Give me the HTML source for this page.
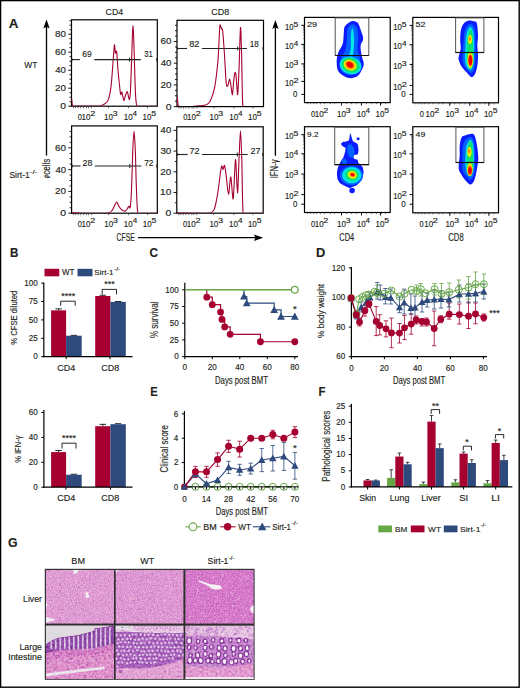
<!DOCTYPE html>
<html><head><meta charset="utf-8"><title>Figure</title>
<style>
html,body{margin:0;padding:0;background:#fff;width:520px;height:688px;overflow:hidden;}
svg{display:block;font-family:"Liberation Sans", sans-serif;}
text{stroke:#231f20;stroke-width:0.15px;}
</style></head><body>
<svg width="520" height="688" viewBox="0 0 520 688" font-family="'Liberation Sans', sans-serif" fill="#231f20"><defs>
<filter id="bl" x="-20%" y="-20%" width="140%" height="140%"><feGaussianBlur stdDeviation="0.7"/></filter>
<filter id="tex0" x="0" y="0" width="100%" height="100%" color-interpolation-filters="sRGB">
  <feTurbulence type="fractalNoise" baseFrequency="0.75" numOctaves="2" seed="3" result="n"/>
  <feColorMatrix in="n" type="matrix" values="0 0 0 0 0  0 0 0 0 0  0 0 0 0 0  2.4 0 0 0 -0.7" result="g0"/>
  <feColorMatrix in="n" type="matrix" values="0.55 0 0 0 0.225  0.55 0 0 0 0.225  0.55 0 0 0 0.225  0 0 0 0 1" result="g"/>
  <feBlend in="g" in2="SourceGraphic" mode="overlay" result="b"/>
  <feComposite in="b" in2="SourceGraphic" operator="in"/>
</filter>
<filter id="tex1" x="0" y="0" width="100%" height="100%" color-interpolation-filters="sRGB">
  <feTurbulence type="fractalNoise" baseFrequency="0.75" numOctaves="2" seed="10" result="n"/>
  <feColorMatrix in="n" type="matrix" values="0 0 0 0 0  0 0 0 0 0  0 0 0 0 0  2.4 0 0 0 -0.7" result="g0"/>
  <feColorMatrix in="n" type="matrix" values="0.55 0 0 0 0.225  0.55 0 0 0 0.225  0.55 0 0 0 0.225  0 0 0 0 1" result="g"/>
  <feBlend in="g" in2="SourceGraphic" mode="overlay" result="b"/>
  <feComposite in="b" in2="SourceGraphic" operator="in"/>
</filter>
<filter id="tex2" x="0" y="0" width="100%" height="100%" color-interpolation-filters="sRGB">
  <feTurbulence type="fractalNoise" baseFrequency="0.75" numOctaves="2" seed="17" result="n"/>
  <feColorMatrix in="n" type="matrix" values="0 0 0 0 0  0 0 0 0 0  0 0 0 0 0  2.4 0 0 0 -0.7" result="g0"/>
  <feColorMatrix in="n" type="matrix" values="0.55 0 0 0 0.225  0.55 0 0 0 0.225  0.55 0 0 0 0.225  0 0 0 0 1" result="g"/>
  <feBlend in="g" in2="SourceGraphic" mode="overlay" result="b"/>
  <feComposite in="b" in2="SourceGraphic" operator="in"/>
</filter>
<filter id="tex3" x="0" y="0" width="100%" height="100%" color-interpolation-filters="sRGB">
  <feTurbulence type="fractalNoise" baseFrequency="0.45" numOctaves="2" seed="24" result="n"/>
  <feColorMatrix in="n" type="matrix" values="0 0 0 0 0  0 0 0 0 0  0 0 0 0 0  2.4 0 0 0 -0.7" result="g0"/>
  <feColorMatrix in="n" type="matrix" values="0.55 0 0 0 0.225  0.55 0 0 0 0.225  0.55 0 0 0 0.225  0 0 0 0 1" result="g"/>
  <feBlend in="g" in2="SourceGraphic" mode="overlay" result="b"/>
  <feComposite in="b" in2="SourceGraphic" operator="in"/>
</filter>
<filter id="tex4" x="0" y="0" width="100%" height="100%" color-interpolation-filters="sRGB">
  <feTurbulence type="fractalNoise" baseFrequency="0.45" numOctaves="2" seed="31" result="n"/>
  <feColorMatrix in="n" type="matrix" values="0 0 0 0 0  0 0 0 0 0  0 0 0 0 0  2.4 0 0 0 -0.7" result="g0"/>
  <feColorMatrix in="n" type="matrix" values="0.55 0 0 0 0.225  0.55 0 0 0 0.225  0.55 0 0 0 0.225  0 0 0 0 1" result="g"/>
  <feBlend in="g" in2="SourceGraphic" mode="overlay" result="b"/>
  <feComposite in="b" in2="SourceGraphic" operator="in"/>
</filter>
<filter id="tex5" x="0" y="0" width="100%" height="100%" color-interpolation-filters="sRGB">
  <feTurbulence type="fractalNoise" baseFrequency="0.45" numOctaves="2" seed="38" result="n"/>
  <feColorMatrix in="n" type="matrix" values="0 0 0 0 0  0 0 0 0 0  0 0 0 0 0  2.4 0 0 0 -0.7" result="g0"/>
  <feColorMatrix in="n" type="matrix" values="0.55 0 0 0 0.225  0.55 0 0 0 0.225  0.55 0 0 0 0.225  0 0 0 0 1" result="g"/>
  <feBlend in="g" in2="SourceGraphic" mode="overlay" result="b"/>
  <feComposite in="b" in2="SourceGraphic" operator="in"/>
</filter>
</defs><rect x="0" y="0" width="520" height="688" fill="#fff"/>
<clipPath id="hc1"><rect x="71.5" y="17.8" width="85.8" height="87.9"/></clipPath>
<rect x="71.5" y="19.8" width="85.8" height="86.4" fill="none" stroke="#000" stroke-width="1.2"/>
<path d="M71.6 98.5 C71.7 99.4 72.02 103.38 72.3 104.5 C72.58 105.62 72.34 105.78 73.5 106 C74.66 106.22 76.78 106 80 106 C83.22 106 91.94 106.03 95 106 C98.06 105.97 99.05 106.07 100.4 105.8 C101.75 105.53 102.86 105.01 104 104.2 C105.14 103.39 106.95 103 108 100.4 C109.05 97.81 110.27 92.39 111 86.9 C111.73 81.41 112.39 70.08 112.9 63.8 C113.41 57.51 114.03 46.62 114.4 45 C114.78 43.38 115.06 51.97 115.4 53 C115.75 54.03 116.31 49.35 116.7 51.9 C117.09 54.45 117.5 64.28 118 70 C118.5 75.72 119.58 86.31 120 90 C120.42 93.69 120.52 94.27 120.8 94.6 C121.08 94.93 121.45 91.33 121.9 92.2 C122.35 93.07 123.29 99.83 123.8 100.4 C124.31 100.97 124.77 97.31 125.3 96 C125.83 94.69 126.72 91.16 127.3 91.7 C127.88 92.24 128.73 99.55 129.2 99.6 C129.66 99.64 130.04 97.94 130.4 92 C130.76 86.06 131.3 68.55 131.6 60 C131.9 51.45 132.19 40.19 132.4 35 C132.61 29.81 132.82 25.4 133 25.4 C133.18 25.4 133.39 29.81 133.6 35 C133.81 40.19 134.13 51.45 134.4 60 C134.67 68.55 135.09 85.33 135.4 92 C135.72 98.67 136.11 102.37 136.5 104.5 C136.89 106.63 134.93 105.95 138 106.2 C141.07 106.45 154.15 106.2 157 106.2" fill="none" stroke="#a5002f" stroke-width="1.1" stroke-linejoin="round" clip-path="url(#hc1)"/>
<line x1="68.2" y1="106.2" x2="71.5" y2="106.2" stroke="#000" stroke-width="0.9"/>
<line x1="69.5" y1="101.7" x2="71.5" y2="101.7" stroke="#000" stroke-width="0.9"/>
<line x1="69.5" y1="97.2" x2="71.5" y2="97.2" stroke="#000" stroke-width="0.9"/>
<line x1="69.5" y1="92.7" x2="71.5" y2="92.7" stroke="#000" stroke-width="0.9"/>
<line x1="68.2" y1="88.2" x2="71.5" y2="88.2" stroke="#000" stroke-width="0.9"/>
<line x1="69.5" y1="83.7" x2="71.5" y2="83.7" stroke="#000" stroke-width="0.9"/>
<line x1="69.5" y1="79.2" x2="71.5" y2="79.2" stroke="#000" stroke-width="0.9"/>
<line x1="69.5" y1="74.7" x2="71.5" y2="74.7" stroke="#000" stroke-width="0.9"/>
<line x1="68.2" y1="70.2" x2="71.5" y2="70.2" stroke="#000" stroke-width="0.9"/>
<line x1="69.5" y1="65.7" x2="71.5" y2="65.7" stroke="#000" stroke-width="0.9"/>
<line x1="69.5" y1="61.2" x2="71.5" y2="61.2" stroke="#000" stroke-width="0.9"/>
<line x1="69.5" y1="56.7" x2="71.5" y2="56.7" stroke="#000" stroke-width="0.9"/>
<line x1="68.2" y1="52.2" x2="71.5" y2="52.2" stroke="#000" stroke-width="0.9"/>
<line x1="69.5" y1="47.7" x2="71.5" y2="47.7" stroke="#000" stroke-width="0.9"/>
<line x1="69.5" y1="43.2" x2="71.5" y2="43.2" stroke="#000" stroke-width="0.9"/>
<line x1="69.5" y1="38.7" x2="71.5" y2="38.7" stroke="#000" stroke-width="0.9"/>
<line x1="68.2" y1="34.2" x2="71.5" y2="34.2" stroke="#000" stroke-width="0.9"/>
<line x1="69.5" y1="29.7" x2="71.5" y2="29.7" stroke="#000" stroke-width="0.9"/>
<line x1="69.5" y1="25.2" x2="71.5" y2="25.2" stroke="#000" stroke-width="0.9"/>
<line x1="69.5" y1="20.7" x2="71.5" y2="20.7" stroke="#000" stroke-width="0.9"/>
<text x="60.18" y="109.1" font-size="8.29" textLength="5.79" lengthAdjust="spacingAndGlyphs">0</text>
<text x="55.01" y="91.1" font-size="8.29" textLength="10.96" lengthAdjust="spacingAndGlyphs">20</text>
<text x="55.31" y="73.1" font-size="8.29" textLength="10.65" lengthAdjust="spacingAndGlyphs">40</text>
<text x="55.01" y="55.1" font-size="8.29" textLength="10.96" lengthAdjust="spacingAndGlyphs">60</text>
<text x="55.06" y="37.1" font-size="8.29" textLength="10.91" lengthAdjust="spacingAndGlyphs">80</text>
<line x1="73.5" y1="106.2" x2="73.5" y2="108.2" stroke="#333" stroke-width="0.7"/>
<line x1="75.5" y1="106.2" x2="75.5" y2="108.2" stroke="#333" stroke-width="0.7"/>
<line x1="78" y1="106.2" x2="78" y2="108.2" stroke="#333" stroke-width="0.7"/>
<line x1="80.5" y1="106.2" x2="80.5" y2="108.2" stroke="#333" stroke-width="0.7"/>
<line x1="83.5" y1="106.2" x2="83.5" y2="108.2" stroke="#333" stroke-width="0.7"/>
<line x1="86.5" y1="106.2" x2="86.5" y2="108.2" stroke="#333" stroke-width="0.7"/>
<line x1="88.5" y1="106.2" x2="88.5" y2="108.2" stroke="#333" stroke-width="0.7"/>
<line x1="91.5" y1="106.2" x2="91.5" y2="108.2" stroke="#333" stroke-width="0.7"/>
<line x1="108.5" y1="106.2" x2="108.5" y2="108.2" stroke="#333" stroke-width="0.7"/>
<line x1="128.5" y1="106.2" x2="128.5" y2="108.2" stroke="#333" stroke-width="0.7"/>
<line x1="147.5" y1="106.2" x2="147.5" y2="108.2" stroke="#333" stroke-width="0.7"/>
<line x1="71.5" y1="59.6" x2="80" y2="59.6" stroke="#222" stroke-width="1.1"/>
<line x1="94.2" y1="59.6" x2="140.8" y2="59.6" stroke="#222" stroke-width="1.1"/>
<line x1="129.6" y1="57.6" x2="129.6" y2="61.6" stroke="#222" stroke-width="1"/>
<line x1="72" y1="58.1" x2="72" y2="61.1" stroke="#222" stroke-width="1"/>
<line x1="156.8" y1="58.1" x2="156.8" y2="61.1" stroke="#222" stroke-width="1"/>
<text x="82.28" y="57.1" font-size="9" textLength="9.32" lengthAdjust="spacingAndGlyphs">69</text>
<text x="144.3" y="57.1" font-size="9" textLength="8.36" lengthAdjust="spacingAndGlyphs">31</text>
<text x="77.7" y="120.2" font-size="8.71" textLength="4.17" lengthAdjust="spacingAndGlyphs">0</text>
<text x="81.5" y="120.2" font-size="8.71" textLength="8.9" lengthAdjust="spacingAndGlyphs">10</text>
<text x="90.15" y="116.2" font-size="7" textLength="5.01" lengthAdjust="spacingAndGlyphs">2</text>
<text x="104.1" y="120.2" font-size="8.71" textLength="8.9" lengthAdjust="spacingAndGlyphs">10</text>
<text x="112.85" y="116.2" font-size="7" textLength="4.8" lengthAdjust="spacingAndGlyphs">3</text>
<text x="123.7" y="120.2" font-size="8.71" textLength="8.9" lengthAdjust="spacingAndGlyphs">10</text>
<text x="132.64" y="116.2" font-size="7.1" textLength="4.52" lengthAdjust="spacingAndGlyphs">4</text>
<text x="142.6" y="120.2" font-size="8.71" textLength="8.9" lengthAdjust="spacingAndGlyphs">10</text>
<text x="151.35" y="116.2" font-size="7.1" textLength="4.8" lengthAdjust="spacingAndGlyphs">5</text>
<clipPath id="hc2"><rect x="177" y="18.3" width="86.5" height="87.8"/></clipPath>
<rect x="177" y="20.3" width="86.5" height="86.3" fill="none" stroke="#000" stroke-width="1.2"/>
<path d="M177.2 97 C177.32 98.05 177.73 102.59 178 104 C178.27 105.41 177.2 106.03 179 106.4 C180.8 106.78 187.45 106.56 190 106.5 C192.55 106.44 193.69 106.22 196 106 C198.31 105.78 203.3 105.67 205.4 105 C207.5 104.33 208.62 104.09 210 101.5 C211.38 98.91 213.4 93.92 214.6 87.7 C215.8 81.48 217.29 67.91 218 60 C218.71 52.09 219 40.25 219.3 35 C219.6 29.75 219.67 25.93 220 25 C220.33 24.07 221.09 27.9 221.5 28.8 C221.91 29.7 222.25 27.07 222.7 31 C223.15 34.93 223.97 47.2 224.5 55 C225.03 62.8 225.7 78.38 226.2 83 C226.69 87.62 227.29 86.4 227.8 85.8 C228.31 85.2 229.12 78.97 229.6 79 C230.08 79.03 230.58 83.66 231 86 C231.42 88.34 232.01 95.2 232.4 94.6 C232.79 94 233.25 85.18 233.6 82 C233.94 78.82 234.37 74.63 234.7 73.4 C235.03 72.17 235.49 72.06 235.8 73.8 C236.12 75.54 236.52 81.94 236.8 85 C237.09 88.06 237.37 96.45 237.7 94.2 C238.03 91.95 238.58 79.97 239 70 C239.42 60.02 240.11 29.95 240.5 27.7 C240.89 25.45 241.25 43.41 241.6 55 C241.94 66.59 242.14 97.28 242.8 105 C243.46 112.72 242.97 106.28 246 106.5 C249.03 106.72 260.45 106.5 263 106.5" fill="none" stroke="#a5002f" stroke-width="1.1" stroke-linejoin="round" clip-path="url(#hc2)"/>
<line x1="173.7" y1="106.6" x2="177" y2="106.6" stroke="#000" stroke-width="0.9"/>
<line x1="175" y1="101.17" x2="177" y2="101.17" stroke="#000" stroke-width="0.9"/>
<line x1="175" y1="95.75" x2="177" y2="95.75" stroke="#000" stroke-width="0.9"/>
<line x1="175" y1="90.32" x2="177" y2="90.32" stroke="#000" stroke-width="0.9"/>
<line x1="173.7" y1="84.9" x2="177" y2="84.9" stroke="#000" stroke-width="0.9"/>
<line x1="175" y1="79.47" x2="177" y2="79.47" stroke="#000" stroke-width="0.9"/>
<line x1="175" y1="74.05" x2="177" y2="74.05" stroke="#000" stroke-width="0.9"/>
<line x1="175" y1="68.62" x2="177" y2="68.62" stroke="#000" stroke-width="0.9"/>
<line x1="173.7" y1="63.2" x2="177" y2="63.2" stroke="#000" stroke-width="0.9"/>
<line x1="175" y1="57.77" x2="177" y2="57.77" stroke="#000" stroke-width="0.9"/>
<line x1="175" y1="52.35" x2="177" y2="52.35" stroke="#000" stroke-width="0.9"/>
<line x1="175" y1="46.92" x2="177" y2="46.92" stroke="#000" stroke-width="0.9"/>
<line x1="173.7" y1="41.5" x2="177" y2="41.5" stroke="#000" stroke-width="0.9"/>
<line x1="175" y1="36.08" x2="177" y2="36.08" stroke="#000" stroke-width="0.9"/>
<line x1="175" y1="30.65" x2="177" y2="30.65" stroke="#000" stroke-width="0.9"/>
<line x1="175" y1="25.23" x2="177" y2="25.23" stroke="#000" stroke-width="0.9"/>
<text x="165.68" y="109.5" font-size="8.29" textLength="5.79" lengthAdjust="spacingAndGlyphs">0</text>
<text x="160.51" y="87.8" font-size="8.29" textLength="10.96" lengthAdjust="spacingAndGlyphs">20</text>
<text x="160.81" y="66.1" font-size="8.29" textLength="10.65" lengthAdjust="spacingAndGlyphs">40</text>
<text x="160.51" y="44.4" font-size="8.29" textLength="10.96" lengthAdjust="spacingAndGlyphs">60</text>
<line x1="179" y1="106.6" x2="179" y2="108.6" stroke="#333" stroke-width="0.7"/>
<line x1="181" y1="106.6" x2="181" y2="108.6" stroke="#333" stroke-width="0.7"/>
<line x1="183.5" y1="106.6" x2="183.5" y2="108.6" stroke="#333" stroke-width="0.7"/>
<line x1="186" y1="106.6" x2="186" y2="108.6" stroke="#333" stroke-width="0.7"/>
<line x1="189" y1="106.6" x2="189" y2="108.6" stroke="#333" stroke-width="0.7"/>
<line x1="192" y1="106.6" x2="192" y2="108.6" stroke="#333" stroke-width="0.7"/>
<line x1="194" y1="106.6" x2="194" y2="108.6" stroke="#333" stroke-width="0.7"/>
<line x1="197" y1="106.6" x2="197" y2="108.6" stroke="#333" stroke-width="0.7"/>
<line x1="214" y1="106.6" x2="214" y2="108.6" stroke="#333" stroke-width="0.7"/>
<line x1="234" y1="106.6" x2="234" y2="108.6" stroke="#333" stroke-width="0.7"/>
<line x1="253" y1="106.6" x2="253" y2="108.6" stroke="#333" stroke-width="0.7"/>
<line x1="177" y1="48.5" x2="187" y2="48.5" stroke="#222" stroke-width="1.1"/>
<line x1="201.9" y1="48.5" x2="247" y2="48.5" stroke="#222" stroke-width="1.1"/>
<line x1="237.7" y1="46.5" x2="237.7" y2="50.5" stroke="#222" stroke-width="1"/>
<line x1="177.5" y1="47" x2="177.5" y2="50" stroke="#222" stroke-width="1"/>
<line x1="263" y1="47" x2="263" y2="50" stroke="#222" stroke-width="1"/>
<text x="189.29" y="47.3" font-size="9" textLength="10.08" lengthAdjust="spacingAndGlyphs">82</text>
<text x="249.79" y="47.3" font-size="9" textLength="9.06" lengthAdjust="spacingAndGlyphs">18</text>
<text x="183.2" y="120.2" font-size="8.71" textLength="4.17" lengthAdjust="spacingAndGlyphs">0</text>
<text x="187" y="120.2" font-size="8.71" textLength="8.9" lengthAdjust="spacingAndGlyphs">10</text>
<text x="195.65" y="116.2" font-size="7" textLength="5.01" lengthAdjust="spacingAndGlyphs">2</text>
<text x="209.6" y="120.2" font-size="8.71" textLength="8.9" lengthAdjust="spacingAndGlyphs">10</text>
<text x="218.35" y="116.2" font-size="7" textLength="4.8" lengthAdjust="spacingAndGlyphs">3</text>
<text x="229.2" y="120.2" font-size="8.71" textLength="8.9" lengthAdjust="spacingAndGlyphs">10</text>
<text x="238.14" y="116.2" font-size="7.1" textLength="4.52" lengthAdjust="spacingAndGlyphs">4</text>
<text x="248.1" y="120.2" font-size="8.71" textLength="8.9" lengthAdjust="spacingAndGlyphs">10</text>
<text x="256.85" y="116.2" font-size="7.1" textLength="4.8" lengthAdjust="spacingAndGlyphs">5</text>
<clipPath id="hc3"><rect x="71.6" y="123.9" width="85.7" height="88.8"/></clipPath>
<rect x="71.6" y="125.9" width="85.7" height="87.3" fill="none" stroke="#000" stroke-width="1.2"/>
<path d="M71.8 212.5 C73.03 212.57 75.77 212.9 80 213 C84.23 213.1 95.69 213.23 100 213.2 C104.31 213.17 106.9 213.21 108.7 212.8 C110.5 212.4 111.09 211.67 112 210.5 C112.91 209.33 114.09 206.28 114.8 205 C115.5 203.72 116.14 201.93 116.7 202 C117.26 202.07 117.81 204.39 118.5 205.5 C119.19 206.61 120.23 208.58 121.3 209.4 C122.36 210.22 124.47 211.47 125.6 211 C126.72 210.53 128.11 206.86 128.8 206.3 C129.49 205.75 129.79 209.75 130.2 207.3 C130.6 204.86 131.11 198.59 131.5 190 C131.89 181.41 132.43 158.82 132.8 150 C133.18 141.18 133.62 131.2 134 131.2 C134.38 131.2 134.96 141.93 135.3 150 C135.65 158.07 135.93 175.55 136.3 185 C136.68 194.45 136.95 208.77 137.8 213 C138.66 217.23 139.12 213.17 142 213.2 C144.88 213.23 154.75 213.2 157 213.2" fill="none" stroke="#a5002f" stroke-width="1.1" stroke-linejoin="round" clip-path="url(#hc3)"/>
<line x1="68.3" y1="213.2" x2="71.6" y2="213.2" stroke="#000" stroke-width="0.9"/>
<line x1="69.6" y1="207.75" x2="71.6" y2="207.75" stroke="#000" stroke-width="0.9"/>
<line x1="69.6" y1="202.3" x2="71.6" y2="202.3" stroke="#000" stroke-width="0.9"/>
<line x1="69.6" y1="196.85" x2="71.6" y2="196.85" stroke="#000" stroke-width="0.9"/>
<line x1="68.3" y1="191.4" x2="71.6" y2="191.4" stroke="#000" stroke-width="0.9"/>
<line x1="69.6" y1="185.95" x2="71.6" y2="185.95" stroke="#000" stroke-width="0.9"/>
<line x1="69.6" y1="180.5" x2="71.6" y2="180.5" stroke="#000" stroke-width="0.9"/>
<line x1="69.6" y1="175.05" x2="71.6" y2="175.05" stroke="#000" stroke-width="0.9"/>
<line x1="68.3" y1="169.6" x2="71.6" y2="169.6" stroke="#000" stroke-width="0.9"/>
<line x1="69.6" y1="164.15" x2="71.6" y2="164.15" stroke="#000" stroke-width="0.9"/>
<line x1="69.6" y1="158.7" x2="71.6" y2="158.7" stroke="#000" stroke-width="0.9"/>
<line x1="69.6" y1="153.25" x2="71.6" y2="153.25" stroke="#000" stroke-width="0.9"/>
<line x1="68.3" y1="147.8" x2="71.6" y2="147.8" stroke="#000" stroke-width="0.9"/>
<line x1="69.6" y1="142.35" x2="71.6" y2="142.35" stroke="#000" stroke-width="0.9"/>
<line x1="69.6" y1="136.9" x2="71.6" y2="136.9" stroke="#000" stroke-width="0.9"/>
<line x1="69.6" y1="131.45" x2="71.6" y2="131.45" stroke="#000" stroke-width="0.9"/>
<text x="60.28" y="216.1" font-size="8.29" textLength="5.79" lengthAdjust="spacingAndGlyphs">0</text>
<text x="55.11" y="194.3" font-size="8.29" textLength="10.96" lengthAdjust="spacingAndGlyphs">20</text>
<text x="55.41" y="172.5" font-size="8.29" textLength="10.65" lengthAdjust="spacingAndGlyphs">40</text>
<text x="55.11" y="150.7" font-size="8.29" textLength="10.96" lengthAdjust="spacingAndGlyphs">60</text>
<line x1="73.6" y1="213.2" x2="73.6" y2="215.2" stroke="#333" stroke-width="0.7"/>
<line x1="75.6" y1="213.2" x2="75.6" y2="215.2" stroke="#333" stroke-width="0.7"/>
<line x1="78.1" y1="213.2" x2="78.1" y2="215.2" stroke="#333" stroke-width="0.7"/>
<line x1="80.6" y1="213.2" x2="80.6" y2="215.2" stroke="#333" stroke-width="0.7"/>
<line x1="83.6" y1="213.2" x2="83.6" y2="215.2" stroke="#333" stroke-width="0.7"/>
<line x1="86.6" y1="213.2" x2="86.6" y2="215.2" stroke="#333" stroke-width="0.7"/>
<line x1="88.6" y1="213.2" x2="88.6" y2="215.2" stroke="#333" stroke-width="0.7"/>
<line x1="91.6" y1="213.2" x2="91.6" y2="215.2" stroke="#333" stroke-width="0.7"/>
<line x1="108.6" y1="213.2" x2="108.6" y2="215.2" stroke="#333" stroke-width="0.7"/>
<line x1="128.6" y1="213.2" x2="128.6" y2="215.2" stroke="#333" stroke-width="0.7"/>
<line x1="147.6" y1="213.2" x2="147.6" y2="215.2" stroke="#333" stroke-width="0.7"/>
<line x1="71.6" y1="166" x2="80.5" y2="166" stroke="#222" stroke-width="1.1"/>
<line x1="94.9" y1="166" x2="141.4" y2="166" stroke="#222" stroke-width="1.1"/>
<line x1="129.8" y1="164" x2="129.8" y2="168" stroke="#222" stroke-width="1"/>
<line x1="72.1" y1="164.5" x2="72.1" y2="167.5" stroke="#222" stroke-width="1"/>
<line x1="156.8" y1="164.5" x2="156.8" y2="167.5" stroke="#222" stroke-width="1"/>
<text x="82.56" y="165.6" font-size="9" textLength="9.81" lengthAdjust="spacingAndGlyphs">28</text>
<text x="144.18" y="165.6" font-size="9" textLength="9.25" lengthAdjust="spacingAndGlyphs">72</text>
<text x="77.8" y="227" font-size="8.71" textLength="4.17" lengthAdjust="spacingAndGlyphs">0</text>
<text x="81.6" y="227" font-size="8.71" textLength="8.9" lengthAdjust="spacingAndGlyphs">10</text>
<text x="90.25" y="223" font-size="7" textLength="5.01" lengthAdjust="spacingAndGlyphs">2</text>
<text x="104.2" y="227" font-size="8.71" textLength="8.9" lengthAdjust="spacingAndGlyphs">10</text>
<text x="112.95" y="223" font-size="7" textLength="4.8" lengthAdjust="spacingAndGlyphs">3</text>
<text x="123.8" y="227" font-size="8.71" textLength="8.9" lengthAdjust="spacingAndGlyphs">10</text>
<text x="132.74" y="223" font-size="7.1" textLength="4.52" lengthAdjust="spacingAndGlyphs">4</text>
<text x="142.7" y="227" font-size="8.71" textLength="8.9" lengthAdjust="spacingAndGlyphs">10</text>
<text x="151.45" y="223" font-size="7.1" textLength="4.8" lengthAdjust="spacingAndGlyphs">5</text>
<clipPath id="hc4"><rect x="176.8" y="124.8" width="86.4" height="87.9"/></clipPath>
<rect x="176.8" y="126.8" width="86.4" height="86.4" fill="none" stroke="#000" stroke-width="1.2"/>
<path d="M177 212.8 C178.95 212.83 185.11 212.97 190 213 C194.89 213.03 205.97 213.57 209.6 213 C213.23 212.43 213.16 211.15 214.2 209.2 C215.23 207.25 215.81 203.48 216.5 200 C217.19 196.52 218.2 190.2 218.8 186 C219.4 181.8 220.05 175 220.5 172 C220.95 169 221.43 166.38 221.8 166 C222.18 165.62 222.58 169.59 223 169.5 C223.42 169.41 224.12 164.46 224.6 165.4 C225.08 166.34 225.61 171.48 226.2 175.8 C226.78 180.12 227.81 194.02 228.5 194.2 C229.19 194.38 230.1 176.31 230.8 177 C231.5 177.69 232.5 201.41 233.2 198.8 C233.9 196.19 234.85 160.47 235.5 159.6 C236.15 158.73 236.97 192.94 237.5 193 C238.03 193.06 238.55 169.33 239 160 C239.45 150.67 240.08 130.8 240.5 130.8 C240.92 130.8 241.43 147.9 241.8 160 C242.18 172.1 242.37 203.52 243 211.5 C243.63 219.48 243 212.94 246 213.2 C249 213.45 260.45 213.2 263 213.2" fill="none" stroke="#a5002f" stroke-width="1.1" stroke-linejoin="round" clip-path="url(#hc4)"/>
<line x1="173.5" y1="213.2" x2="176.8" y2="213.2" stroke="#000" stroke-width="0.9"/>
<line x1="174.8" y1="202.85" x2="176.8" y2="202.85" stroke="#000" stroke-width="0.9"/>
<line x1="173.5" y1="192.5" x2="176.8" y2="192.5" stroke="#000" stroke-width="0.9"/>
<line x1="174.8" y1="182.15" x2="176.8" y2="182.15" stroke="#000" stroke-width="0.9"/>
<line x1="173.5" y1="171.8" x2="176.8" y2="171.8" stroke="#000" stroke-width="0.9"/>
<line x1="174.8" y1="161.45" x2="176.8" y2="161.45" stroke="#000" stroke-width="0.9"/>
<line x1="173.5" y1="151.1" x2="176.8" y2="151.1" stroke="#000" stroke-width="0.9"/>
<line x1="174.8" y1="140.75" x2="176.8" y2="140.75" stroke="#000" stroke-width="0.9"/>
<line x1="173.5" y1="130.4" x2="176.8" y2="130.4" stroke="#000" stroke-width="0.9"/>
<text x="165.48" y="216.1" font-size="8.29" textLength="5.79" lengthAdjust="spacingAndGlyphs">0</text>
<text x="160.04" y="195.4" font-size="8.29" textLength="11.23" lengthAdjust="spacingAndGlyphs">10</text>
<text x="160.31" y="174.7" font-size="8.29" textLength="10.96" lengthAdjust="spacingAndGlyphs">20</text>
<text x="160.41" y="154" font-size="8.29" textLength="10.85" lengthAdjust="spacingAndGlyphs">30</text>
<text x="160.61" y="133.3" font-size="8.29" textLength="10.65" lengthAdjust="spacingAndGlyphs">40</text>
<line x1="178.8" y1="213.2" x2="178.8" y2="215.2" stroke="#333" stroke-width="0.7"/>
<line x1="180.8" y1="213.2" x2="180.8" y2="215.2" stroke="#333" stroke-width="0.7"/>
<line x1="183.3" y1="213.2" x2="183.3" y2="215.2" stroke="#333" stroke-width="0.7"/>
<line x1="185.8" y1="213.2" x2="185.8" y2="215.2" stroke="#333" stroke-width="0.7"/>
<line x1="188.8" y1="213.2" x2="188.8" y2="215.2" stroke="#333" stroke-width="0.7"/>
<line x1="191.8" y1="213.2" x2="191.8" y2="215.2" stroke="#333" stroke-width="0.7"/>
<line x1="193.8" y1="213.2" x2="193.8" y2="215.2" stroke="#333" stroke-width="0.7"/>
<line x1="196.8" y1="213.2" x2="196.8" y2="215.2" stroke="#333" stroke-width="0.7"/>
<line x1="213.8" y1="213.2" x2="213.8" y2="215.2" stroke="#333" stroke-width="0.7"/>
<line x1="233.8" y1="213.2" x2="233.8" y2="215.2" stroke="#333" stroke-width="0.7"/>
<line x1="252.8" y1="213.2" x2="252.8" y2="215.2" stroke="#333" stroke-width="0.7"/>
<line x1="176.8" y1="154.5" x2="187.7" y2="154.5" stroke="#222" stroke-width="1.1"/>
<line x1="202" y1="154.5" x2="247.7" y2="154.5" stroke="#222" stroke-width="1.1"/>
<line x1="237.3" y1="152.5" x2="237.3" y2="156.5" stroke="#222" stroke-width="1"/>
<line x1="177.3" y1="153" x2="177.3" y2="156" stroke="#222" stroke-width="1"/>
<line x1="262.7" y1="153" x2="262.7" y2="156" stroke="#222" stroke-width="1"/>
<text x="189.55" y="153.8" font-size="9" textLength="9.91" lengthAdjust="spacingAndGlyphs">72</text>
<text x="250.55" y="153.8" font-size="9" textLength="9.91" lengthAdjust="spacingAndGlyphs">27</text>
<text x="183" y="227" font-size="8.71" textLength="4.17" lengthAdjust="spacingAndGlyphs">0</text>
<text x="186.8" y="227" font-size="8.71" textLength="8.9" lengthAdjust="spacingAndGlyphs">10</text>
<text x="195.45" y="223" font-size="7" textLength="5.01" lengthAdjust="spacingAndGlyphs">2</text>
<text x="209.4" y="227" font-size="8.71" textLength="8.9" lengthAdjust="spacingAndGlyphs">10</text>
<text x="218.15" y="223" font-size="7" textLength="4.8" lengthAdjust="spacingAndGlyphs">3</text>
<text x="229" y="227" font-size="8.71" textLength="8.9" lengthAdjust="spacingAndGlyphs">10</text>
<text x="237.94" y="223" font-size="7.1" textLength="4.52" lengthAdjust="spacingAndGlyphs">4</text>
<text x="247.9" y="227" font-size="8.71" textLength="8.9" lengthAdjust="spacingAndGlyphs">10</text>
<text x="256.65" y="223" font-size="7.1" textLength="4.8" lengthAdjust="spacingAndGlyphs">5</text>
<text x="8.76" y="27.7" font-size="13.33" textLength="9.7" lengthAdjust="spacingAndGlyphs" font-weight="bold">A</text>
<text x="105.56" y="14.6" font-size="9.86" textLength="17.61" lengthAdjust="spacingAndGlyphs">CD4</text>
<text x="211.35" y="14.9" font-size="9.86" textLength="18.02" lengthAdjust="spacingAndGlyphs">CD8</text>
<text x="24.16" y="67.6" font-size="9.13" textLength="13.21" lengthAdjust="spacingAndGlyphs">WT</text>
<text x="9.42" y="177.8" font-size="9.66" textLength="20.36" lengthAdjust="spacingAndGlyphs">Sirt-1</text>
<text x="29.85" y="173.5" font-size="5.5" textLength="7.4" lengthAdjust="spacingAndGlyphs">-/-</text>
<line x1="46.5" y1="26" x2="46.5" y2="155.6" stroke="#000" stroke-width="1.3"/>
<path d="M46.5 19.5 L43.3 28.5 L46.5 26.8 L49.7 28.5 Z" fill="#000"/>
<text x="49.8" y="174.72" font-size="10.2" textLength="16.11" lengthAdjust="spacingAndGlyphs" transform="rotate(-90 49.8 174.72)">cells</text>
<text x="49.8" y="177.93" font-size="8.4" textLength="3.16" lengthAdjust="spacingAndGlyphs" transform="rotate(-90 49.8 177.93)">#</text>
<text x="116.56" y="241.1" font-size="10.43" textLength="18.23" lengthAdjust="spacingAndGlyphs">CFSE</text>
<line x1="138" y1="237.7" x2="256" y2="237.7" stroke="#000" stroke-width="1.3"/>
<path d="M263.2 237.7 L253.8 234.4 L255.6 237.7 L253.8 241.0 Z" fill="#000"/>
<line x1="275.4" y1="27" x2="275.4" y2="155.8" stroke="#000" stroke-width="1.3"/>
<path d="M275.4 20.0 L272.2 29.0 L275.4 27.3 L278.6 29.0 Z" fill="#000"/>
<text x="278.2" y="178.3" font-size="10.29" textLength="19.03" lengthAdjust="spacingAndGlyphs" transform="rotate(-90 278.2 178.3)">IFN-γ</text>
<g filter="url(#bl)">
<path d="M351.5 21.3 C349.73 22.07 346.18 24.2 344.9 26.2 C343.62 28.2 344.15 30.42 343.8 33.3 C343.45 36.18 343.73 40.27 342.8 43.5 C341.87 46.73 339.22 49.82 338.2 52.7 C337.18 55.58 336.78 57.92 336.7 60.8 C336.62 63.68 336.77 67.63 337.7 70 C338.63 72.37 340.35 73.65 342.3 75 C344.25 76.35 346.85 77.92 349.4 78.1 C351.95 78.28 355.38 77.78 357.6 76.1 C359.82 74.42 361.68 70.2 362.7 68 C363.72 65.8 363.87 64.95 363.7 62.9 C363.53 60.85 362.22 58.6 361.7 55.7 C361.18 52.8 360.35 48.3 360.6 45.5 C360.85 42.7 363.1 41.27 363.2 38.9 C363.3 36.53 361.97 33.75 361.2 31.3 C360.43 28.85 359.55 25.82 358.6 24.2 C357.65 22.58 356.68 22.08 355.5 21.6 C354.32 21.12 353.27 20.53 351.5 21.3Z" fill="#0a1cff"/>
<path d="M351.5 24.5 C350.25 25.08 348.28 26.42 347.5 29 C346.72 31.58 347.13 36.5 346.8 40 C346.47 43.5 346.47 47 345.5 50 C344.53 53 341.95 55.33 341 58 C340.05 60.67 339.47 63.58 339.8 66 C340.13 68.42 341.3 71 343 72.5 C344.7 74 347.67 74.92 350 75 C352.33 75.08 355.25 74.5 357 73 C358.75 71.5 360.08 68.67 360.5 66 C360.92 63.33 360 59.67 359.5 57 C359 54.33 357.75 52.83 357.5 50 C357.25 47.17 358 43.33 358 40 C358 36.67 358 32.42 357.5 30 C357 27.58 356 26.42 355 25.5 C354 24.58 352.75 23.92 351.5 24.5Z" fill="#0064ff"/>
<path d="M352.3 28 C351.77 28 351.05 32.67 350.8 36 C350.55 39.33 351.02 44.83 350.8 48 C350.58 51.17 349.22 53.67 349.5 55 C349.78 56.33 351.78 57.17 352.5 56 C353.22 54.83 353.55 51.33 353.8 48 C354.05 44.67 354.25 39.33 354 36 C353.75 32.67 352.83 28 352.3 28Z" fill="#00e6e6"/>
<path d="M361.23 68.35 C361.03 69.06 360.71 69.77 360.29 70.4 C359.86 71.03 359.31 71.62 358.69 72.12 C358.06 72.62 357.32 73.05 356.54 73.39 C355.76 73.72 354.87 73.97 353.98 74.12 C353.1 74.26 352.14 74.31 351.2 74.26 C350.26 74.21 349.29 74.05 348.37 73.81 C347.46 73.56 346.54 73.21 345.7 72.79 C344.86 72.36 344.06 71.84 343.36 71.27 C342.66 70.7 342.03 70.04 341.51 69.36 C341 68.68 340.58 67.93 340.29 67.19 C339.99 66.44 339.81 65.66 339.76 64.9 C339.71 64.14 339.78 63.37 339.97 62.65 C340.17 61.94 340.49 61.23 340.91 60.6 C341.34 59.97 341.89 59.38 342.51 58.88 C343.14 58.38 343.88 57.95 344.66 57.61 C345.44 57.28 346.33 57.03 347.22 56.88 C348.1 56.74 349.06 56.69 350 56.74 C350.94 56.79 351.91 56.95 352.83 57.19 C353.74 57.44 354.66 57.79 355.5 58.21 C356.34 58.64 357.14 59.16 357.84 59.73 C358.54 60.3 359.17 60.96 359.69 61.64 C360.2 62.32 360.62 63.07 360.91 63.81 C361.21 64.56 361.39 65.34 361.44 66.1 C361.49 66.86 361.42 67.63 361.23 68.35Z" fill="#00e6e6"/>
<path d="M359.15 68.45 C358.93 69.03 358.61 69.6 358.21 70.09 C357.81 70.58 357.31 71.04 356.76 71.41 C356.2 71.78 355.55 72.09 354.87 72.31 C354.19 72.53 353.44 72.68 352.69 72.73 C351.94 72.79 351.13 72.76 350.36 72.65 C349.58 72.54 348.78 72.34 348.04 72.07 C347.29 71.79 346.55 71.43 345.88 71.02 C345.22 70.61 344.58 70.11 344.04 69.59 C343.51 69.06 343.02 68.46 342.65 67.86 C342.27 67.25 341.97 66.6 341.78 65.96 C341.59 65.32 341.5 64.65 341.51 64.01 C341.52 63.38 341.64 62.74 341.85 62.15 C342.07 61.57 342.39 61 342.79 60.51 C343.19 60.02 343.69 59.56 344.24 59.19 C344.8 58.82 345.45 58.51 346.13 58.29 C346.81 58.07 347.56 57.92 348.31 57.87 C349.06 57.81 349.87 57.84 350.64 57.95 C351.42 58.06 352.22 58.26 352.96 58.53 C353.71 58.81 354.45 59.17 355.12 59.58 C355.78 59.99 356.42 60.49 356.96 61.01 C357.49 61.54 357.98 62.14 358.35 62.74 C358.73 63.35 359.03 64 359.22 64.64 C359.41 65.28 359.5 65.95 359.49 66.59 C359.48 67.22 359.36 67.86 359.15 68.45Z" fill="#10e070"/>
<path d="M356.18 67.89 C355.99 68.3 355.73 68.68 355.41 69.01 C355.09 69.34 354.7 69.64 354.28 69.87 C353.86 70.1 353.37 70.29 352.88 70.4 C352.38 70.52 351.83 70.58 351.29 70.58 C350.75 70.57 350.17 70.5 349.63 70.37 C349.08 70.25 348.52 70.05 348 69.81 C347.49 69.57 346.98 69.27 346.53 68.93 C346.08 68.59 345.66 68.2 345.31 67.79 C344.95 67.38 344.65 66.92 344.42 66.46 C344.19 66 344.01 65.51 343.92 65.04 C343.83 64.57 343.8 64.08 343.85 63.63 C343.9 63.17 344.03 62.72 344.22 62.31 C344.41 61.9 344.67 61.52 344.99 61.19 C345.31 60.86 345.7 60.56 346.12 60.33 C346.54 60.1 347.03 59.91 347.52 59.8 C348.02 59.68 348.57 59.62 349.11 59.62 C349.65 59.63 350.23 59.7 350.77 59.83 C351.32 59.95 351.88 60.15 352.4 60.39 C352.91 60.63 353.42 60.93 353.87 61.27 C354.32 61.61 354.74 62 355.09 62.41 C355.45 62.82 355.75 63.28 355.98 63.74 C356.21 64.2 356.39 64.69 356.48 65.16 C356.57 65.63 356.6 66.12 356.55 66.57 C356.5 67.03 356.37 67.48 356.18 67.89Z" fill="#f0f000"/>
<path d="M354.33 67.5 C354.16 67.79 353.94 68.06 353.68 68.29 C353.42 68.51 353.11 68.71 352.77 68.85 C352.44 69 352.07 69.1 351.68 69.16 C351.3 69.21 350.88 69.22 350.48 69.17 C350.07 69.13 349.64 69.04 349.24 68.91 C348.83 68.78 348.42 68.59 348.05 68.38 C347.68 68.16 347.31 67.9 347 67.62 C346.68 67.33 346.39 67.01 346.15 66.67 C345.91 66.34 345.7 65.98 345.56 65.62 C345.41 65.26 345.32 64.88 345.27 64.52 C345.23 64.16 345.25 63.8 345.31 63.46 C345.38 63.12 345.5 62.79 345.67 62.5 C345.84 62.21 346.06 61.94 346.32 61.71 C346.58 61.49 346.89 61.29 347.23 61.15 C347.56 61 347.93 60.9 348.32 60.84 C348.7 60.79 349.12 60.78 349.52 60.83 C349.93 60.87 350.36 60.96 350.76 61.09 C351.17 61.22 351.58 61.41 351.95 61.62 C352.32 61.84 352.69 62.1 353 62.38 C353.32 62.67 353.61 62.99 353.85 63.33 C354.09 63.66 354.3 64.02 354.44 64.38 C354.59 64.74 354.68 65.12 354.73 65.48 C354.77 65.84 354.75 66.2 354.69 66.54 C354.62 66.88 354.5 67.21 354.33 67.5Z" fill="#ff8a00"/>
<path d="M352.92 66.6 C352.81 66.79 352.65 66.97 352.47 67.12 C352.3 67.27 352.08 67.39 351.85 67.48 C351.62 67.58 351.35 67.64 351.09 67.66 C350.82 67.69 350.52 67.69 350.23 67.65 C349.94 67.61 349.64 67.54 349.35 67.44 C349.06 67.34 348.77 67.21 348.5 67.05 C348.23 66.9 347.97 66.71 347.74 66.51 C347.51 66.31 347.29 66.08 347.12 65.85 C346.94 65.62 346.79 65.37 346.68 65.12 C346.57 64.87 346.49 64.61 346.45 64.37 C346.41 64.12 346.41 63.87 346.45 63.64 C346.49 63.42 346.57 63.19 346.68 63 C346.79 62.81 346.95 62.63 347.13 62.48 C347.3 62.33 347.52 62.21 347.75 62.12 C347.98 62.02 348.25 61.96 348.51 61.94 C348.78 61.91 349.08 61.91 349.37 61.95 C349.66 61.99 349.96 62.06 350.25 62.16 C350.54 62.26 350.83 62.39 351.1 62.55 C351.37 62.7 351.63 62.89 351.86 63.09 C352.09 63.29 352.31 63.52 352.48 63.75 C352.66 63.98 352.81 64.23 352.92 64.48 C353.03 64.73 353.11 64.99 353.15 65.23 C353.19 65.48 353.19 65.73 353.15 65.96 C353.11 66.18 353.03 66.41 352.92 66.6Z" fill="#f00000"/>
</g>
<rect x="304.5" y="17.4" width="85.7" height="85.2" fill="none" stroke="#000" stroke-width="1.2"/>
<rect x="335.2" y="17.9" width="33.6" height="37.6" fill="none" stroke="#555" stroke-width="1"/>
<line x1="335.2" y1="55.5" x2="368.8" y2="55.5" stroke="#111" stroke-width="1.2"/>
<text x="284.92" y="29.5" font-size="8.43" textLength="8.57" lengthAdjust="spacingAndGlyphs">10</text>
<text x="293.55" y="26.5" font-size="7.25" textLength="4.8" lengthAdjust="spacingAndGlyphs">5</text>
<line x1="301.3" y1="25.3" x2="304.5" y2="25.3" stroke="#000" stroke-width="1"/>
<text x="284.92" y="48.6" font-size="8.43" textLength="8.57" lengthAdjust="spacingAndGlyphs">10</text>
<text x="293.74" y="45.6" font-size="7.25" textLength="4.52" lengthAdjust="spacingAndGlyphs">4</text>
<line x1="301.3" y1="44.4" x2="304.5" y2="44.4" stroke="#000" stroke-width="1"/>
<text x="284.92" y="68.1" font-size="8.43" textLength="8.57" lengthAdjust="spacingAndGlyphs">10</text>
<text x="293.55" y="65.1" font-size="7.14" textLength="4.8" lengthAdjust="spacingAndGlyphs">3</text>
<line x1="301.3" y1="63.9" x2="304.5" y2="63.9" stroke="#000" stroke-width="1"/>
<text x="284.92" y="85.6" font-size="8.43" textLength="8.57" lengthAdjust="spacingAndGlyphs">10</text>
<text x="293.45" y="82.6" font-size="7.14" textLength="5.01" lengthAdjust="spacingAndGlyphs">2</text>
<line x1="301.3" y1="81.4" x2="304.5" y2="81.4" stroke="#000" stroke-width="1"/>
<text x="292.98" y="97.4" font-size="8.57" textLength="4.4" lengthAdjust="spacingAndGlyphs">0</text>
<line x1="301.3" y1="94.4" x2="304.5" y2="94.4" stroke="#000" stroke-width="1"/>
<line x1="302.9" y1="38.65" x2="304.5" y2="38.65" stroke="#333" stroke-width="0.6"/>
<line x1="302.9" y1="35.29" x2="304.5" y2="35.29" stroke="#333" stroke-width="0.6"/>
<line x1="302.9" y1="32.9" x2="304.5" y2="32.9" stroke="#333" stroke-width="0.6"/>
<line x1="302.9" y1="31.05" x2="304.5" y2="31.05" stroke="#333" stroke-width="0.6"/>
<line x1="302.9" y1="29.54" x2="304.5" y2="29.54" stroke="#333" stroke-width="0.6"/>
<line x1="302.9" y1="28.26" x2="304.5" y2="28.26" stroke="#333" stroke-width="0.6"/>
<line x1="302.9" y1="27.15" x2="304.5" y2="27.15" stroke="#333" stroke-width="0.6"/>
<line x1="302.9" y1="26.17" x2="304.5" y2="26.17" stroke="#333" stroke-width="0.6"/>
<line x1="302.9" y1="58.03" x2="304.5" y2="58.03" stroke="#333" stroke-width="0.6"/>
<line x1="302.9" y1="54.6" x2="304.5" y2="54.6" stroke="#333" stroke-width="0.6"/>
<line x1="302.9" y1="52.16" x2="304.5" y2="52.16" stroke="#333" stroke-width="0.6"/>
<line x1="302.9" y1="50.27" x2="304.5" y2="50.27" stroke="#333" stroke-width="0.6"/>
<line x1="302.9" y1="48.73" x2="304.5" y2="48.73" stroke="#333" stroke-width="0.6"/>
<line x1="302.9" y1="47.42" x2="304.5" y2="47.42" stroke="#333" stroke-width="0.6"/>
<line x1="302.9" y1="46.29" x2="304.5" y2="46.29" stroke="#333" stroke-width="0.6"/>
<line x1="302.9" y1="45.29" x2="304.5" y2="45.29" stroke="#333" stroke-width="0.6"/>
<line x1="302.9" y1="76.13" x2="304.5" y2="76.13" stroke="#333" stroke-width="0.6"/>
<line x1="302.9" y1="73.05" x2="304.5" y2="73.05" stroke="#333" stroke-width="0.6"/>
<line x1="302.9" y1="70.86" x2="304.5" y2="70.86" stroke="#333" stroke-width="0.6"/>
<line x1="302.9" y1="69.17" x2="304.5" y2="69.17" stroke="#333" stroke-width="0.6"/>
<line x1="302.9" y1="67.78" x2="304.5" y2="67.78" stroke="#333" stroke-width="0.6"/>
<line x1="302.9" y1="66.61" x2="304.5" y2="66.61" stroke="#333" stroke-width="0.6"/>
<line x1="302.9" y1="65.6" x2="304.5" y2="65.6" stroke="#333" stroke-width="0.6"/>
<line x1="302.9" y1="64.7" x2="304.5" y2="64.7" stroke="#333" stroke-width="0.6"/>
<line x1="307.5" y1="102.6" x2="307.5" y2="104.2" stroke="#333" stroke-width="0.6"/>
<line x1="310.5" y1="102.6" x2="310.5" y2="104.2" stroke="#333" stroke-width="0.6"/>
<line x1="313.5" y1="102.6" x2="313.5" y2="104.2" stroke="#333" stroke-width="0.6"/>
<line x1="316.5" y1="102.6" x2="316.5" y2="104.2" stroke="#333" stroke-width="0.6"/>
<line x1="320.5" y1="102.6" x2="320.5" y2="104.2" stroke="#333" stroke-width="0.6"/>
<line x1="324.5" y1="102.6" x2="324.5" y2="104.2" stroke="#333" stroke-width="0.6"/>
<line x1="330.5" y1="102.6" x2="330.5" y2="104.2" stroke="#333" stroke-width="0.6"/>
<line x1="334.5" y1="102.6" x2="334.5" y2="104.2" stroke="#333" stroke-width="0.6"/>
<line x1="341.5" y1="102.6" x2="341.5" y2="104.2" stroke="#333" stroke-width="0.6"/>
<line x1="346.5" y1="102.6" x2="346.5" y2="104.2" stroke="#333" stroke-width="0.6"/>
<line x1="351.5" y1="102.6" x2="351.5" y2="104.2" stroke="#333" stroke-width="0.6"/>
<line x1="356.5" y1="102.6" x2="356.5" y2="104.2" stroke="#333" stroke-width="0.6"/>
<line x1="361.5" y1="102.6" x2="361.5" y2="104.2" stroke="#333" stroke-width="0.6"/>
<line x1="366.5" y1="102.6" x2="366.5" y2="104.2" stroke="#333" stroke-width="0.6"/>
<line x1="371.5" y1="102.6" x2="371.5" y2="104.2" stroke="#333" stroke-width="0.6"/>
<line x1="376.5" y1="102.6" x2="376.5" y2="104.2" stroke="#333" stroke-width="0.6"/>
<line x1="381.5" y1="102.6" x2="381.5" y2="104.2" stroke="#333" stroke-width="0.6"/>
<line x1="385.5" y1="102.6" x2="385.5" y2="104.2" stroke="#333" stroke-width="0.6"/>
<line x1="341.5" y1="102.6" x2="341.5" y2="105.6" stroke="#000" stroke-width="0.9"/>
<line x1="361.5" y1="102.6" x2="361.5" y2="105.6" stroke="#000" stroke-width="0.9"/>
<line x1="380.5" y1="102.6" x2="380.5" y2="105.6" stroke="#000" stroke-width="0.9"/>
<text x="307.05" y="27.2" font-size="7.57" textLength="9.97" lengthAdjust="spacingAndGlyphs">29</text>
<text x="311" y="117" font-size="8.71" textLength="4.17" lengthAdjust="spacingAndGlyphs">0</text>
<text x="314.7" y="117" font-size="8.71" textLength="8.9" lengthAdjust="spacingAndGlyphs">10</text>
<text x="323.35" y="113" font-size="7" textLength="5.01" lengthAdjust="spacingAndGlyphs">2</text>
<text x="337.1" y="117" font-size="8.71" textLength="8.9" lengthAdjust="spacingAndGlyphs">10</text>
<text x="345.85" y="113" font-size="7" textLength="4.8" lengthAdjust="spacingAndGlyphs">3</text>
<text x="356.7" y="117" font-size="8.71" textLength="8.9" lengthAdjust="spacingAndGlyphs">10</text>
<text x="365.64" y="113" font-size="7.1" textLength="4.52" lengthAdjust="spacingAndGlyphs">4</text>
<text x="375.6" y="117" font-size="8.71" textLength="8.9" lengthAdjust="spacingAndGlyphs">10</text>
<text x="384.35" y="113" font-size="7.1" textLength="4.8" lengthAdjust="spacingAndGlyphs">5</text>
<g filter="url(#bl)">
<path d="M468.8 20.6 C467.1 21.08 464.55 22.42 463.2 24.2 C461.85 25.98 461.2 28.58 460.7 31.3 C460.2 34.02 460.2 37.62 460.2 40.5 C460.2 43.38 460.95 45.88 460.7 48.6 C460.45 51.32 459.03 54.93 458.7 56.8 C458.37 58.67 458.28 58.28 458.7 59.8 C459.12 61.32 459.93 63.87 461.2 65.9 C462.47 67.93 464.6 70.13 466.3 72 C468 73.87 469.95 76.75 471.4 77.1 C472.85 77.45 474.02 75.97 475 74.1 C475.98 72.23 476.8 68.97 477.3 65.9 C477.8 62.83 478 59.1 478 55.7 C478 52.3 477.3 48.88 477.3 45.5 C477.3 42.12 478.1 39.13 478 35.4 C477.9 31.67 477.47 25.45 476.7 23.1 C475.93 20.75 474.72 21.72 473.4 21.3 C472.08 20.88 470.5 20.12 468.8 20.6Z" fill="#0a1cff"/>
<path d="M469.5 24 C467.92 24.33 466 27 465 30 C464 33 463.92 37.67 463.5 42 C463.08 46.33 462.5 52.33 462.5 56 C462.5 59.67 462.67 61.67 463.5 64 C464.33 66.33 466.17 68.5 467.5 70 C468.83 71.5 470.33 73.33 471.5 73 C472.67 72.67 473.83 70.83 474.5 68 C475.17 65.17 475.33 60.33 475.5 56 C475.67 51.67 475.67 46.67 475.5 42 C475.33 37.33 475.5 31 474.5 28 C473.5 25 471.08 23.67 469.5 24Z" fill="#0064ff"/>
<path d="M470 27 C468.92 27.5 467.25 30.83 466.5 34 C465.75 37.17 465.75 42 465.5 46 C465.25 50 464.83 54.67 465 58 C465.17 61.33 465.58 64 466.5 66 C467.42 68 469.33 70.33 470.5 70 C471.67 69.67 472.92 67 473.5 64 C474.08 61 473.92 56 474 52 C474.08 48 474.17 43.5 474 40 C473.83 36.5 473.67 33.17 473 31 C472.33 28.83 471.08 26.5 470 27Z" fill="#00e6e6"/>
<path d="M470 30 C469.1 31 467.8 36.33 467.3 40 C466.8 43.67 467.08 48.33 467 52 C466.92 55.67 466.22 59.17 466.8 62 C467.38 64.83 469.42 69 470.5 69 C471.58 69 472.88 65.83 473.3 62 C473.72 58.17 473.1 50.67 473 46 C472.9 41.33 473.2 36.67 472.7 34 C472.2 31.33 470.9 29 470 30Z" fill="#10e070"/>
<path d="M472.1 39.5 C472.1 39.9 472.08 40.31 472.03 40.69 C471.98 41.07 471.91 41.46 471.82 41.8 C471.73 42.14 471.61 42.47 471.48 42.75 C471.36 43.03 471.21 43.29 471.05 43.48 C470.89 43.68 470.72 43.84 470.54 43.94 C470.37 44.05 470.18 44.1 470 44.1 C469.82 44.1 469.63 44.05 469.46 43.94 C469.28 43.84 469.11 43.68 468.95 43.48 C468.79 43.29 468.64 43.03 468.52 42.75 C468.39 42.47 468.27 42.14 468.18 41.8 C468.09 41.46 468.02 41.07 467.97 40.69 C467.92 40.31 467.9 39.9 467.9 39.5 C467.9 39.1 467.92 38.69 467.97 38.31 C468.02 37.93 468.09 37.54 468.18 37.2 C468.27 36.86 468.39 36.53 468.52 36.25 C468.64 35.97 468.79 35.71 468.95 35.52 C469.11 35.32 469.28 35.16 469.46 35.06 C469.63 34.95 469.82 34.9 470 34.9 C470.18 34.9 470.37 34.95 470.54 35.06 C470.72 35.16 470.89 35.32 471.05 35.52 C471.21 35.71 471.36 35.97 471.48 36.25 C471.61 36.53 471.73 36.86 471.82 37.2 C471.91 37.54 471.98 37.93 472.03 38.31 C472.08 38.69 472.1 39.1 472.1 39.5Z" fill="#f0f000"/>
<path d="M473.2 59.8 C473.2 60.51 473.17 61.24 473.1 61.92 C473.04 62.61 472.94 63.29 472.81 63.9 C472.69 64.51 472.53 65.1 472.35 65.6 C472.17 66.1 471.97 66.55 471.75 66.9 C471.53 67.26 471.29 67.54 471.05 67.72 C470.81 67.9 470.55 68 470.3 68 C470.05 68 469.79 67.9 469.55 67.72 C469.31 67.54 469.07 67.26 468.85 66.9 C468.63 66.55 468.43 66.1 468.25 65.6 C468.07 65.1 467.91 64.51 467.79 63.9 C467.66 63.29 467.56 62.61 467.5 61.92 C467.43 61.24 467.4 60.51 467.4 59.8 C467.4 59.09 467.43 58.36 467.5 57.68 C467.56 56.99 467.66 56.31 467.79 55.7 C467.91 55.09 468.07 54.5 468.25 54 C468.43 53.5 468.63 53.05 468.85 52.7 C469.07 52.34 469.31 52.06 469.55 51.88 C469.79 51.7 470.05 51.6 470.3 51.6 C470.55 51.6 470.81 51.7 471.05 51.88 C471.29 52.06 471.53 52.34 471.75 52.7 C471.97 53.05 472.17 53.5 472.35 54 C472.53 54.5 472.69 55.09 472.81 55.7 C472.94 56.31 473.04 56.99 473.1 57.68 C473.17 58.36 473.2 59.09 473.2 59.8Z" fill="#f0f000"/>
<path d="M471.2 38.9 C471.2 39.06 471.18 39.23 471.16 39.39 C471.13 39.55 471.08 39.71 471.03 39.85 C470.97 39.99 470.9 40.13 470.82 40.24 C470.74 40.36 470.65 40.46 470.55 40.55 C470.45 40.63 470.34 40.69 470.24 40.74 C470.13 40.78 470.01 40.8 469.9 40.8 C469.79 40.8 469.67 40.78 469.56 40.74 C469.46 40.69 469.35 40.63 469.25 40.55 C469.15 40.46 469.06 40.36 468.98 40.24 C468.9 40.13 468.83 39.99 468.77 39.85 C468.72 39.71 468.67 39.55 468.64 39.39 C468.62 39.23 468.6 39.06 468.6 38.9 C468.6 38.74 468.62 38.57 468.64 38.41 C468.67 38.25 468.72 38.09 468.77 37.95 C468.83 37.81 468.9 37.67 468.98 37.56 C469.06 37.44 469.15 37.34 469.25 37.25 C469.35 37.17 469.46 37.11 469.56 37.06 C469.67 37.02 469.79 37 469.9 37 C470.01 37 470.13 37.02 470.24 37.06 C470.34 37.11 470.45 37.17 470.55 37.25 C470.65 37.34 470.74 37.44 470.82 37.56 C470.9 37.67 470.97 37.81 471.03 37.95 C471.08 38.09 471.13 38.25 471.16 38.41 C471.18 38.57 471.2 38.74 471.2 38.9Z" fill="#ff8a00"/>
<path d="M472.6 60 C472.6 60.53 472.57 61.09 472.52 61.6 C472.47 62.12 472.39 62.64 472.29 63.1 C472.19 63.56 472.07 64.01 471.93 64.38 C471.79 64.76 471.62 65.1 471.45 65.37 C471.28 65.64 471.09 65.85 470.9 65.99 C470.7 66.13 470.5 66.2 470.3 66.2 C470.1 66.2 469.9 66.13 469.7 65.99 C469.51 65.85 469.32 65.64 469.15 65.37 C468.98 65.1 468.81 64.76 468.67 64.38 C468.53 64.01 468.41 63.56 468.31 63.1 C468.21 62.64 468.13 62.12 468.08 61.6 C468.03 61.09 468 60.53 468 60 C468 59.47 468.03 58.91 468.08 58.4 C468.13 57.88 468.21 57.36 468.31 56.9 C468.41 56.44 468.53 55.99 468.67 55.62 C468.81 55.24 468.98 54.9 469.15 54.63 C469.32 54.36 469.51 54.15 469.7 54.01 C469.9 53.87 470.1 53.8 470.3 53.8 C470.5 53.8 470.7 53.87 470.9 54.01 C471.09 54.15 471.28 54.36 471.45 54.63 C471.62 54.9 471.79 55.24 471.93 55.62 C472.07 55.99 472.19 56.44 472.29 56.9 C472.39 57.36 472.47 57.88 472.52 58.4 C472.57 58.91 472.6 59.47 472.6 60Z" fill="#ff8a00"/>
<path d="M472.3 60.5 C472.3 60.95 472.28 61.41 472.24 61.85 C472.19 62.28 472.13 62.71 472.05 63.1 C471.96 63.49 471.86 63.86 471.74 64.18 C471.63 64.49 471.49 64.78 471.35 65 C471.21 65.23 471.05 65.41 470.89 65.52 C470.73 65.64 470.56 65.7 470.4 65.7 C470.24 65.7 470.07 65.64 469.91 65.52 C469.75 65.41 469.59 65.23 469.45 65 C469.31 64.78 469.17 64.49 469.06 64.18 C468.94 63.86 468.84 63.49 468.75 63.1 C468.67 62.71 468.61 62.28 468.56 61.85 C468.52 61.41 468.5 60.95 468.5 60.5 C468.5 60.05 468.52 59.59 468.56 59.15 C468.61 58.72 468.67 58.29 468.75 57.9 C468.84 57.51 468.94 57.14 469.06 56.82 C469.17 56.51 469.31 56.22 469.45 56 C469.59 55.77 469.75 55.59 469.91 55.48 C470.07 55.36 470.24 55.3 470.4 55.3 C470.56 55.3 470.73 55.36 470.89 55.48 C471.05 55.59 471.21 55.77 471.35 56 C471.49 56.22 471.63 56.51 471.74 56.82 C471.86 57.14 471.96 57.51 472.05 57.9 C472.13 58.29 472.19 58.72 472.24 59.15 C472.28 59.59 472.3 60.05 472.3 60.5Z" fill="#f00000"/>
</g>
<rect x="412.8" y="17.4" width="85.7" height="85.4" fill="none" stroke="#000" stroke-width="1.2"/>
<rect x="455.6" y="17.9" width="28.3" height="34.6" fill="none" stroke="#555" stroke-width="1"/>
<line x1="455.6" y1="52.5" x2="483.9" y2="52.5" stroke="#111" stroke-width="1.2"/>
<text x="393.22" y="29.6" font-size="8.43" textLength="8.57" lengthAdjust="spacingAndGlyphs">10</text>
<text x="401.85" y="26.6" font-size="7.25" textLength="4.8" lengthAdjust="spacingAndGlyphs">5</text>
<line x1="409.6" y1="25.4" x2="412.8" y2="25.4" stroke="#000" stroke-width="1"/>
<text x="393.22" y="48.9" font-size="8.43" textLength="8.57" lengthAdjust="spacingAndGlyphs">10</text>
<text x="402.04" y="45.9" font-size="7.25" textLength="4.52" lengthAdjust="spacingAndGlyphs">4</text>
<line x1="409.6" y1="44.7" x2="412.8" y2="44.7" stroke="#000" stroke-width="1"/>
<text x="393.22" y="68.6" font-size="8.43" textLength="8.57" lengthAdjust="spacingAndGlyphs">10</text>
<text x="401.85" y="65.6" font-size="7.14" textLength="4.8" lengthAdjust="spacingAndGlyphs">3</text>
<line x1="409.6" y1="64.4" x2="412.8" y2="64.4" stroke="#000" stroke-width="1"/>
<text x="393.22" y="89.6" font-size="8.43" textLength="8.57" lengthAdjust="spacingAndGlyphs">10</text>
<text x="401.75" y="86.6" font-size="7.14" textLength="5.01" lengthAdjust="spacingAndGlyphs">2</text>
<line x1="409.6" y1="85.4" x2="412.8" y2="85.4" stroke="#000" stroke-width="1"/>
<text x="401.28" y="97.4" font-size="8.57" textLength="4.4" lengthAdjust="spacingAndGlyphs">0</text>
<line x1="409.6" y1="94.4" x2="412.8" y2="94.4" stroke="#000" stroke-width="1"/>
<line x1="411.2" y1="38.89" x2="412.8" y2="38.89" stroke="#333" stroke-width="0.6"/>
<line x1="411.2" y1="35.49" x2="412.8" y2="35.49" stroke="#333" stroke-width="0.6"/>
<line x1="411.2" y1="33.08" x2="412.8" y2="33.08" stroke="#333" stroke-width="0.6"/>
<line x1="411.2" y1="31.21" x2="412.8" y2="31.21" stroke="#333" stroke-width="0.6"/>
<line x1="411.2" y1="29.68" x2="412.8" y2="29.68" stroke="#333" stroke-width="0.6"/>
<line x1="411.2" y1="28.39" x2="412.8" y2="28.39" stroke="#333" stroke-width="0.6"/>
<line x1="411.2" y1="27.27" x2="412.8" y2="27.27" stroke="#333" stroke-width="0.6"/>
<line x1="411.2" y1="26.28" x2="412.8" y2="26.28" stroke="#333" stroke-width="0.6"/>
<line x1="411.2" y1="58.47" x2="412.8" y2="58.47" stroke="#333" stroke-width="0.6"/>
<line x1="411.2" y1="55" x2="412.8" y2="55" stroke="#333" stroke-width="0.6"/>
<line x1="411.2" y1="52.54" x2="412.8" y2="52.54" stroke="#333" stroke-width="0.6"/>
<line x1="411.2" y1="50.63" x2="412.8" y2="50.63" stroke="#333" stroke-width="0.6"/>
<line x1="411.2" y1="49.07" x2="412.8" y2="49.07" stroke="#333" stroke-width="0.6"/>
<line x1="411.2" y1="47.75" x2="412.8" y2="47.75" stroke="#333" stroke-width="0.6"/>
<line x1="411.2" y1="46.61" x2="412.8" y2="46.61" stroke="#333" stroke-width="0.6"/>
<line x1="411.2" y1="45.6" x2="412.8" y2="45.6" stroke="#333" stroke-width="0.6"/>
<line x1="411.2" y1="79.08" x2="412.8" y2="79.08" stroke="#333" stroke-width="0.6"/>
<line x1="411.2" y1="75.38" x2="412.8" y2="75.38" stroke="#333" stroke-width="0.6"/>
<line x1="411.2" y1="72.76" x2="412.8" y2="72.76" stroke="#333" stroke-width="0.6"/>
<line x1="411.2" y1="70.72" x2="412.8" y2="70.72" stroke="#333" stroke-width="0.6"/>
<line x1="411.2" y1="69.06" x2="412.8" y2="69.06" stroke="#333" stroke-width="0.6"/>
<line x1="411.2" y1="67.65" x2="412.8" y2="67.65" stroke="#333" stroke-width="0.6"/>
<line x1="411.2" y1="66.44" x2="412.8" y2="66.44" stroke="#333" stroke-width="0.6"/>
<line x1="411.2" y1="65.36" x2="412.8" y2="65.36" stroke="#333" stroke-width="0.6"/>
<line x1="415.8" y1="102.8" x2="415.8" y2="104.4" stroke="#333" stroke-width="0.6"/>
<line x1="418.8" y1="102.8" x2="418.8" y2="104.4" stroke="#333" stroke-width="0.6"/>
<line x1="421.8" y1="102.8" x2="421.8" y2="104.4" stroke="#333" stroke-width="0.6"/>
<line x1="424.8" y1="102.8" x2="424.8" y2="104.4" stroke="#333" stroke-width="0.6"/>
<line x1="428.8" y1="102.8" x2="428.8" y2="104.4" stroke="#333" stroke-width="0.6"/>
<line x1="432.8" y1="102.8" x2="432.8" y2="104.4" stroke="#333" stroke-width="0.6"/>
<line x1="438.8" y1="102.8" x2="438.8" y2="104.4" stroke="#333" stroke-width="0.6"/>
<line x1="442.8" y1="102.8" x2="442.8" y2="104.4" stroke="#333" stroke-width="0.6"/>
<line x1="449.8" y1="102.8" x2="449.8" y2="104.4" stroke="#333" stroke-width="0.6"/>
<line x1="454.8" y1="102.8" x2="454.8" y2="104.4" stroke="#333" stroke-width="0.6"/>
<line x1="459.8" y1="102.8" x2="459.8" y2="104.4" stroke="#333" stroke-width="0.6"/>
<line x1="464.8" y1="102.8" x2="464.8" y2="104.4" stroke="#333" stroke-width="0.6"/>
<line x1="469.8" y1="102.8" x2="469.8" y2="104.4" stroke="#333" stroke-width="0.6"/>
<line x1="474.8" y1="102.8" x2="474.8" y2="104.4" stroke="#333" stroke-width="0.6"/>
<line x1="479.8" y1="102.8" x2="479.8" y2="104.4" stroke="#333" stroke-width="0.6"/>
<line x1="484.8" y1="102.8" x2="484.8" y2="104.4" stroke="#333" stroke-width="0.6"/>
<line x1="489.8" y1="102.8" x2="489.8" y2="104.4" stroke="#333" stroke-width="0.6"/>
<line x1="493.8" y1="102.8" x2="493.8" y2="104.4" stroke="#333" stroke-width="0.6"/>
<line x1="449.8" y1="102.8" x2="449.8" y2="105.8" stroke="#000" stroke-width="0.9"/>
<line x1="469.8" y1="102.8" x2="469.8" y2="105.8" stroke="#000" stroke-width="0.9"/>
<line x1="488.8" y1="102.8" x2="488.8" y2="105.8" stroke="#000" stroke-width="0.9"/>
<text x="415.44" y="27.2" font-size="7.57" textLength="9.92" lengthAdjust="spacingAndGlyphs">52</text>
<text x="419.8" y="117" font-size="8.71" textLength="4.17" lengthAdjust="spacingAndGlyphs">0</text>
<text x="425.6" y="117" font-size="8.71" textLength="8.9" lengthAdjust="spacingAndGlyphs">10</text>
<text x="434.25" y="113" font-size="7" textLength="5.01" lengthAdjust="spacingAndGlyphs">2</text>
<text x="445.4" y="117" font-size="8.71" textLength="8.9" lengthAdjust="spacingAndGlyphs">10</text>
<text x="454.15" y="113" font-size="7" textLength="4.8" lengthAdjust="spacingAndGlyphs">3</text>
<text x="465" y="117" font-size="8.71" textLength="8.9" lengthAdjust="spacingAndGlyphs">10</text>
<text x="473.94" y="113" font-size="7.1" textLength="4.52" lengthAdjust="spacingAndGlyphs">4</text>
<text x="483.9" y="117" font-size="8.71" textLength="8.9" lengthAdjust="spacingAndGlyphs">10</text>
<text x="492.65" y="113" font-size="7.1" textLength="4.8" lengthAdjust="spacingAndGlyphs">5</text>
<g filter="url(#bl)">
<path d="M350.3 133.5 C349.77 133.37 349.57 138.93 349 140 C348.43 141.07 346.8 141.23 346 141.5 C345.2 141.77 343.67 141.67 343 142 C342.33 142.33 341 143.4 341 144 C341 144.6 342.4 145.97 343 146.5 C343.6 147.03 345.23 147.27 345.5 148 C345.77 148.73 345.27 150.8 345 152 C344.73 153.2 344.1 155.67 343.5 157 C342.9 158.33 341.17 160.8 340.5 162 C339.83 163.2 338.97 164.67 338.5 166 C338.03 167.33 337.13 170.27 337 172 C336.87 173.73 337.03 177.47 337.5 179 C337.97 180.53 339.63 182.63 340.5 183.5 C341.37 184.37 342.8 184.9 344 185.5 C345.2 186.1 348.43 187.8 349.5 188 C350.57 188.2 351 187.4 352 187 C353 186.6 355.73 185.93 357 185 C358.27 184.07 360.63 181.6 361.5 180 C362.37 178.4 363.37 174.73 363.5 173 C363.63 171.27 363.17 168.33 362.5 167 C361.83 165.67 359.17 163.93 358.5 163 C357.83 162.07 358.1 160.6 357.5 160 C356.9 159.4 354.53 159.17 354 158.5 C353.47 157.83 353.03 155.53 353.5 155 C353.97 154.47 356.83 155.17 357.5 154.5 C358.17 153.83 358.5 151.4 358.5 150 C358.5 148.6 358.23 145.2 357.5 144 C356.77 142.8 353.96 142.4 353 141 C352.04 139.6 350.83 133.63 350.3 133.5Z" fill="#0a1cff"/>
<circle cx="358.1" cy="138.8" r="1.5" fill="#0a1cff"/>
<circle cx="352.1" cy="190.5" r="2.8" fill="#0a1cff"/>
<circle cx="343.5" cy="182.5" r="1.7" fill="#0a1cff"/>
<path d="M354.35 150.37 C354.45 150.97 354.52 151.59 354.54 152.18 C354.56 152.77 354.54 153.36 354.48 153.91 C354.42 154.45 354.31 154.97 354.17 155.43 C354.02 155.89 353.84 156.31 353.63 156.66 C353.41 157 353.16 157.29 352.89 157.5 C352.62 157.7 352.32 157.84 352.02 157.89 C351.71 157.95 351.38 157.92 351.06 157.82 C350.73 157.72 350.4 157.53 350.08 157.28 C349.76 157.03 349.44 156.7 349.15 156.32 C348.86 155.93 348.58 155.48 348.34 154.99 C348.09 154.5 347.87 153.95 347.69 153.39 C347.51 152.83 347.36 152.22 347.25 151.63 C347.15 151.03 347.08 150.41 347.06 149.82 C347.04 149.23 347.06 148.64 347.12 148.09 C347.18 147.55 347.29 147.03 347.43 146.57 C347.58 146.11 347.76 145.69 347.97 145.34 C348.19 145 348.44 144.71 348.71 144.5 C348.98 144.3 349.28 144.16 349.58 144.11 C349.89 144.05 350.22 144.08 350.54 144.18 C350.87 144.28 351.2 144.47 351.52 144.72 C351.84 144.97 352.16 145.3 352.45 145.68 C352.74 146.07 353.02 146.52 353.26 147.01 C353.51 147.5 353.73 148.05 353.91 148.61 C354.09 149.17 354.24 149.78 354.35 150.37Z" fill="#0064ff"/>
<path d="M347 161.5 C347 161.72 346.97 161.94 346.91 162.15 C346.86 162.36 346.77 162.56 346.67 162.75 C346.56 162.94 346.42 163.12 346.27 163.27 C346.12 163.42 345.94 163.56 345.75 163.67 C345.56 163.77 345.36 163.86 345.15 163.91 C344.94 163.97 344.72 164 344.5 164 C344.28 164 344.06 163.97 343.85 163.91 C343.64 163.86 343.44 163.77 343.25 163.67 C343.06 163.56 342.88 163.42 342.73 163.27 C342.58 163.12 342.44 162.94 342.33 162.75 C342.23 162.56 342.14 162.36 342.09 162.15 C342.03 161.94 342 161.72 342 161.5 C342 161.28 342.03 161.06 342.09 160.85 C342.14 160.64 342.23 160.44 342.33 160.25 C342.44 160.06 342.58 159.88 342.73 159.73 C342.88 159.58 343.06 159.44 343.25 159.33 C343.44 159.23 343.64 159.14 343.85 159.09 C344.06 159.03 344.28 159 344.5 159 C344.72 159 344.94 159.03 345.15 159.09 C345.36 159.14 345.56 159.23 345.75 159.33 C345.94 159.44 346.12 159.58 346.27 159.73 C346.42 159.88 346.56 160.06 346.67 160.25 C346.77 160.44 346.86 160.64 346.91 160.85 C346.97 161.06 347 161.28 347 161.5Z" fill="#0064ff"/>
<path d="M363 175.5 C363 176.32 362.86 177.17 362.61 177.96 C362.35 178.75 361.96 179.54 361.46 180.25 C360.96 180.96 360.33 181.64 359.63 182.22 C358.93 182.8 358.11 183.32 357.25 183.73 C356.39 184.14 355.43 184.46 354.48 184.68 C353.52 184.89 352.49 185 351.5 185 C350.51 185 349.48 184.89 348.52 184.68 C347.57 184.46 346.61 184.14 345.75 183.73 C344.89 183.32 344.07 182.8 343.37 182.22 C342.67 181.64 342.04 180.96 341.54 180.25 C341.04 179.54 340.65 178.75 340.39 177.96 C340.14 177.17 340 176.32 340 175.5 C340 174.68 340.14 173.83 340.39 173.04 C340.65 172.25 341.04 171.46 341.54 170.75 C342.04 170.04 342.67 169.36 343.37 168.78 C344.07 168.2 344.89 167.68 345.75 167.27 C346.61 166.86 347.57 166.54 348.52 166.32 C349.48 166.11 350.51 166 351.5 166 C352.49 166 353.52 166.11 354.48 166.32 C355.43 166.54 356.39 166.86 357.25 167.27 C358.11 167.68 358.93 168.2 359.63 168.78 C360.33 169.36 360.96 170.04 361.46 170.75 C361.96 171.46 362.35 172.25 362.61 173.04 C362.86 173.83 363 174.68 363 175.5Z" fill="#0064ff"/>
<path d="M361.3 175.2 C361.3 175.89 361.19 176.6 360.98 177.27 C360.76 177.94 360.44 178.6 360.03 179.2 C359.62 179.8 359.1 180.37 358.52 180.86 C357.94 181.34 357.26 181.78 356.55 182.13 C355.84 182.47 355.05 182.75 354.26 182.93 C353.47 183.11 352.62 183.2 351.8 183.2 C350.98 183.2 350.13 183.11 349.34 182.93 C348.55 182.75 347.76 182.47 347.05 182.13 C346.34 181.78 345.66 181.34 345.08 180.86 C344.5 180.37 343.98 179.8 343.57 179.2 C343.16 178.6 342.84 177.94 342.62 177.27 C342.41 176.6 342.3 175.89 342.3 175.2 C342.3 174.51 342.41 173.8 342.62 173.13 C342.84 172.46 343.16 171.8 343.57 171.2 C343.98 170.6 344.5 170.03 345.08 169.54 C345.66 169.06 346.34 168.62 347.05 168.27 C347.76 167.93 348.55 167.65 349.34 167.47 C350.13 167.29 350.98 167.2 351.8 167.2 C352.62 167.2 353.47 167.29 354.26 167.47 C355.05 167.65 355.84 167.93 356.55 168.27 C357.26 168.62 357.94 169.06 358.52 169.54 C359.1 170.03 359.62 170.6 360.03 171.2 C360.44 171.8 360.76 172.46 360.98 173.13 C361.19 173.8 361.3 174.51 361.3 175.2Z" fill="#00e6e6"/>
<path d="M358.7 176.18 C358.61 176.67 358.44 177.17 358.21 177.62 C357.97 178.07 357.66 178.5 357.3 178.88 C356.93 179.25 356.49 179.6 356.02 179.87 C355.55 180.15 355.02 180.38 354.48 180.54 C353.93 180.7 353.34 180.79 352.76 180.82 C352.18 180.85 351.57 180.81 350.99 180.71 C350.42 180.61 349.83 180.44 349.29 180.21 C348.76 179.99 348.24 179.69 347.78 179.36 C347.32 179.02 346.9 178.62 346.55 178.2 C346.21 177.78 345.91 177.31 345.7 176.83 C345.48 176.36 345.34 175.84 345.27 175.34 C345.21 174.84 345.22 174.31 345.3 173.82 C345.39 173.33 345.56 172.83 345.79 172.38 C346.03 171.93 346.34 171.5 346.7 171.12 C347.07 170.75 347.51 170.4 347.98 170.13 C348.45 169.85 348.98 169.62 349.52 169.46 C350.07 169.3 350.66 169.21 351.24 169.18 C351.82 169.15 352.43 169.19 353.01 169.29 C353.58 169.39 354.17 169.56 354.71 169.79 C355.24 170.01 355.76 170.31 356.22 170.64 C356.68 170.98 357.1 171.38 357.45 171.8 C357.79 172.22 358.09 172.69 358.3 173.17 C358.52 173.64 358.66 174.16 358.73 174.66 C358.79 175.16 358.78 175.69 358.7 176.18Z" fill="#10e070"/>
<path d="M356.62 176.37 C356.51 176.68 356.34 176.98 356.14 177.24 C355.93 177.51 355.68 177.75 355.39 177.95 C355.11 178.15 354.78 178.32 354.44 178.44 C354.09 178.56 353.71 178.64 353.34 178.68 C352.96 178.72 352.55 178.71 352.16 178.66 C351.77 178.6 351.37 178.51 351 178.37 C350.63 178.24 350.26 178.05 349.93 177.84 C349.59 177.63 349.28 177.38 349.01 177.11 C348.75 176.83 348.51 176.53 348.32 176.21 C348.14 175.9 348 175.56 347.91 175.22 C347.82 174.89 347.78 174.54 347.79 174.2 C347.8 173.87 347.87 173.53 347.98 173.23 C348.09 172.92 348.26 172.62 348.46 172.36 C348.67 172.09 348.92 171.85 349.21 171.65 C349.49 171.45 349.82 171.28 350.16 171.16 C350.51 171.04 350.89 170.96 351.26 170.92 C351.64 170.88 352.05 170.89 352.44 170.94 C352.83 171 353.23 171.09 353.6 171.23 C353.97 171.36 354.34 171.55 354.67 171.76 C355.01 171.97 355.32 172.22 355.59 172.49 C355.85 172.77 356.09 173.07 356.28 173.39 C356.46 173.7 356.6 174.04 356.69 174.38 C356.78 174.71 356.82 175.06 356.81 175.4 C356.8 175.73 356.73 176.07 356.62 176.37Z" fill="#f0f000"/>
<path d="M355.32 175.73 C355.25 175.92 355.14 176.11 355.01 176.27 C354.88 176.44 354.71 176.59 354.53 176.72 C354.35 176.84 354.14 176.95 353.91 177.02 C353.69 177.1 353.44 177.15 353.2 177.17 C352.95 177.19 352.69 177.18 352.44 177.14 C352.18 177.11 351.92 177.04 351.68 176.96 C351.44 176.87 351.19 176.75 350.98 176.61 C350.76 176.48 350.55 176.31 350.38 176.14 C350.2 175.97 350.05 175.77 349.93 175.57 C349.8 175.37 349.71 175.15 349.65 174.94 C349.59 174.73 349.56 174.5 349.56 174.29 C349.57 174.08 349.61 173.87 349.68 173.67 C349.75 173.48 349.86 173.29 349.99 173.13 C350.12 172.96 350.29 172.81 350.47 172.68 C350.65 172.56 350.86 172.45 351.09 172.38 C351.31 172.3 351.56 172.25 351.8 172.23 C352.05 172.21 352.31 172.22 352.56 172.26 C352.82 172.29 353.08 172.36 353.32 172.44 C353.56 172.53 353.81 172.65 354.02 172.79 C354.24 172.92 354.45 173.09 354.62 173.26 C354.8 173.43 354.95 173.63 355.07 173.83 C355.2 174.03 355.29 174.25 355.35 174.46 C355.41 174.67 355.44 174.9 355.44 175.11 C355.43 175.32 355.39 175.53 355.32 175.73Z" fill="#ff8a00"/>
<path d="M354.29 175.35 C354.24 175.47 354.17 175.59 354.09 175.69 C354.01 175.8 353.91 175.89 353.79 175.97 C353.67 176.04 353.54 176.11 353.4 176.16 C353.26 176.2 353.1 176.23 352.95 176.25 C352.79 176.26 352.63 176.25 352.47 176.23 C352.31 176.21 352.14 176.17 351.99 176.11 C351.83 176.05 351.68 175.98 351.54 175.89 C351.41 175.81 351.27 175.71 351.16 175.6 C351.05 175.49 350.95 175.36 350.87 175.24 C350.8 175.11 350.74 174.98 350.7 174.84 C350.66 174.71 350.64 174.57 350.64 174.44 C350.65 174.31 350.67 174.17 350.71 174.05 C350.76 173.93 350.83 173.81 350.91 173.71 C350.99 173.6 351.09 173.51 351.21 173.43 C351.33 173.36 351.46 173.29 351.6 173.24 C351.74 173.2 351.9 173.17 352.05 173.15 C352.21 173.14 352.37 173.15 352.53 173.17 C352.69 173.19 352.86 173.23 353.01 173.29 C353.17 173.35 353.32 173.42 353.46 173.51 C353.59 173.59 353.73 173.69 353.84 173.8 C353.95 173.91 354.05 174.04 354.13 174.16 C354.2 174.29 354.26 174.42 354.3 174.56 C354.34 174.69 354.36 174.83 354.36 174.96 C354.35 175.09 354.33 175.23 354.29 175.35Z" fill="#f00000"/>
</g>
<rect x="304.5" y="126.7" width="85.7" height="85.8" fill="none" stroke="#000" stroke-width="1.2"/>
<rect x="334.7" y="127.2" width="34.1" height="37.5" fill="none" stroke="#555" stroke-width="1"/>
<line x1="334.7" y1="164.7" x2="368.8" y2="164.7" stroke="#111" stroke-width="1.2"/>
<text x="284.92" y="138.9" font-size="8.43" textLength="8.57" lengthAdjust="spacingAndGlyphs">10</text>
<text x="293.55" y="135.9" font-size="7.25" textLength="4.8" lengthAdjust="spacingAndGlyphs">5</text>
<line x1="301.3" y1="134.7" x2="304.5" y2="134.7" stroke="#000" stroke-width="1"/>
<text x="284.92" y="158" font-size="8.43" textLength="8.57" lengthAdjust="spacingAndGlyphs">10</text>
<text x="293.74" y="155" font-size="7.25" textLength="4.52" lengthAdjust="spacingAndGlyphs">4</text>
<line x1="301.3" y1="153.8" x2="304.5" y2="153.8" stroke="#000" stroke-width="1"/>
<text x="284.92" y="178.3" font-size="8.43" textLength="8.57" lengthAdjust="spacingAndGlyphs">10</text>
<text x="293.55" y="175.3" font-size="7.14" textLength="4.8" lengthAdjust="spacingAndGlyphs">3</text>
<line x1="301.3" y1="174.1" x2="304.5" y2="174.1" stroke="#000" stroke-width="1"/>
<text x="284.92" y="198.8" font-size="8.43" textLength="8.57" lengthAdjust="spacingAndGlyphs">10</text>
<text x="293.45" y="195.8" font-size="7.14" textLength="5.01" lengthAdjust="spacingAndGlyphs">2</text>
<line x1="301.3" y1="194.6" x2="304.5" y2="194.6" stroke="#000" stroke-width="1"/>
<text x="292.98" y="207.2" font-size="8.57" textLength="4.4" lengthAdjust="spacingAndGlyphs">0</text>
<line x1="301.3" y1="204.2" x2="304.5" y2="204.2" stroke="#000" stroke-width="1"/>
<line x1="302.9" y1="148.05" x2="304.5" y2="148.05" stroke="#333" stroke-width="0.6"/>
<line x1="302.9" y1="144.69" x2="304.5" y2="144.69" stroke="#333" stroke-width="0.6"/>
<line x1="302.9" y1="142.3" x2="304.5" y2="142.3" stroke="#333" stroke-width="0.6"/>
<line x1="302.9" y1="140.45" x2="304.5" y2="140.45" stroke="#333" stroke-width="0.6"/>
<line x1="302.9" y1="138.94" x2="304.5" y2="138.94" stroke="#333" stroke-width="0.6"/>
<line x1="302.9" y1="137.66" x2="304.5" y2="137.66" stroke="#333" stroke-width="0.6"/>
<line x1="302.9" y1="136.55" x2="304.5" y2="136.55" stroke="#333" stroke-width="0.6"/>
<line x1="302.9" y1="135.57" x2="304.5" y2="135.57" stroke="#333" stroke-width="0.6"/>
<line x1="302.9" y1="167.99" x2="304.5" y2="167.99" stroke="#333" stroke-width="0.6"/>
<line x1="302.9" y1="164.41" x2="304.5" y2="164.41" stroke="#333" stroke-width="0.6"/>
<line x1="302.9" y1="161.88" x2="304.5" y2="161.88" stroke="#333" stroke-width="0.6"/>
<line x1="302.9" y1="159.91" x2="304.5" y2="159.91" stroke="#333" stroke-width="0.6"/>
<line x1="302.9" y1="158.3" x2="304.5" y2="158.3" stroke="#333" stroke-width="0.6"/>
<line x1="302.9" y1="156.94" x2="304.5" y2="156.94" stroke="#333" stroke-width="0.6"/>
<line x1="302.9" y1="155.77" x2="304.5" y2="155.77" stroke="#333" stroke-width="0.6"/>
<line x1="302.9" y1="154.73" x2="304.5" y2="154.73" stroke="#333" stroke-width="0.6"/>
<line x1="302.9" y1="188.43" x2="304.5" y2="188.43" stroke="#333" stroke-width="0.6"/>
<line x1="302.9" y1="184.82" x2="304.5" y2="184.82" stroke="#333" stroke-width="0.6"/>
<line x1="302.9" y1="182.26" x2="304.5" y2="182.26" stroke="#333" stroke-width="0.6"/>
<line x1="302.9" y1="180.27" x2="304.5" y2="180.27" stroke="#333" stroke-width="0.6"/>
<line x1="302.9" y1="178.65" x2="304.5" y2="178.65" stroke="#333" stroke-width="0.6"/>
<line x1="302.9" y1="177.28" x2="304.5" y2="177.28" stroke="#333" stroke-width="0.6"/>
<line x1="302.9" y1="176.09" x2="304.5" y2="176.09" stroke="#333" stroke-width="0.6"/>
<line x1="302.9" y1="175.04" x2="304.5" y2="175.04" stroke="#333" stroke-width="0.6"/>
<line x1="307.5" y1="212.5" x2="307.5" y2="214.1" stroke="#333" stroke-width="0.6"/>
<line x1="310.5" y1="212.5" x2="310.5" y2="214.1" stroke="#333" stroke-width="0.6"/>
<line x1="313.5" y1="212.5" x2="313.5" y2="214.1" stroke="#333" stroke-width="0.6"/>
<line x1="316.5" y1="212.5" x2="316.5" y2="214.1" stroke="#333" stroke-width="0.6"/>
<line x1="320.5" y1="212.5" x2="320.5" y2="214.1" stroke="#333" stroke-width="0.6"/>
<line x1="324.5" y1="212.5" x2="324.5" y2="214.1" stroke="#333" stroke-width="0.6"/>
<line x1="330.5" y1="212.5" x2="330.5" y2="214.1" stroke="#333" stroke-width="0.6"/>
<line x1="334.5" y1="212.5" x2="334.5" y2="214.1" stroke="#333" stroke-width="0.6"/>
<line x1="341.5" y1="212.5" x2="341.5" y2="214.1" stroke="#333" stroke-width="0.6"/>
<line x1="346.5" y1="212.5" x2="346.5" y2="214.1" stroke="#333" stroke-width="0.6"/>
<line x1="351.5" y1="212.5" x2="351.5" y2="214.1" stroke="#333" stroke-width="0.6"/>
<line x1="356.5" y1="212.5" x2="356.5" y2="214.1" stroke="#333" stroke-width="0.6"/>
<line x1="361.5" y1="212.5" x2="361.5" y2="214.1" stroke="#333" stroke-width="0.6"/>
<line x1="366.5" y1="212.5" x2="366.5" y2="214.1" stroke="#333" stroke-width="0.6"/>
<line x1="371.5" y1="212.5" x2="371.5" y2="214.1" stroke="#333" stroke-width="0.6"/>
<line x1="376.5" y1="212.5" x2="376.5" y2="214.1" stroke="#333" stroke-width="0.6"/>
<line x1="381.5" y1="212.5" x2="381.5" y2="214.1" stroke="#333" stroke-width="0.6"/>
<line x1="385.5" y1="212.5" x2="385.5" y2="214.1" stroke="#333" stroke-width="0.6"/>
<line x1="341.5" y1="212.5" x2="341.5" y2="215.5" stroke="#000" stroke-width="0.9"/>
<line x1="361.5" y1="212.5" x2="361.5" y2="215.5" stroke="#000" stroke-width="0.9"/>
<line x1="380.5" y1="212.5" x2="380.5" y2="215.5" stroke="#000" stroke-width="0.9"/>
<text x="307.14" y="136.5" font-size="7.57" textLength="11.27" lengthAdjust="spacingAndGlyphs">9.2</text>
<text x="311" y="227" font-size="8.71" textLength="4.17" lengthAdjust="spacingAndGlyphs">0</text>
<text x="314.7" y="227" font-size="8.71" textLength="8.9" lengthAdjust="spacingAndGlyphs">10</text>
<text x="323.35" y="223" font-size="7" textLength="5.01" lengthAdjust="spacingAndGlyphs">2</text>
<text x="337.1" y="227" font-size="8.71" textLength="8.9" lengthAdjust="spacingAndGlyphs">10</text>
<text x="345.85" y="223" font-size="7" textLength="4.8" lengthAdjust="spacingAndGlyphs">3</text>
<text x="356.7" y="227" font-size="8.71" textLength="8.9" lengthAdjust="spacingAndGlyphs">10</text>
<text x="365.64" y="223" font-size="7.1" textLength="4.52" lengthAdjust="spacingAndGlyphs">4</text>
<text x="375.6" y="227" font-size="8.71" textLength="8.9" lengthAdjust="spacingAndGlyphs">10</text>
<text x="384.35" y="223" font-size="7.1" textLength="4.8" lengthAdjust="spacingAndGlyphs">5</text>
<g filter="url(#bl)">
<path d="M470.4 134 C468.83 134.05 466.45 134.97 465 135.5 C463.55 136.03 462.58 135.55 461.7 137.2 C460.82 138.85 460.03 142.35 459.7 145.4 C459.37 148.45 459.87 151.6 459.7 155.5 C459.53 159.4 458.28 165.4 458.7 168.8 C459.12 172.2 460.98 173.87 462.2 175.9 C463.42 177.93 464.63 179.55 466 181 C467.37 182.45 469.07 184.6 470.4 184.6 C471.73 184.6 473.07 182.77 474 181 C474.93 179.23 475.42 176.55 476 174 C476.58 171.45 477.12 168.43 477.5 165.7 C477.88 162.97 478.38 160.98 478.3 157.6 C478.22 154.22 477.65 149.13 477 145.4 C476.35 141.67 475.5 137.1 474.4 135.2 C473.3 133.3 471.97 133.95 470.4 134Z" fill="#0a1cff"/>
<path d="M470 137 C468.58 137.33 465.75 138.83 464.5 141 C463.25 143.17 462.83 146.5 462.5 150 C462.17 153.5 462.42 158.5 462.5 162 C462.58 165.5 462.25 168.5 463 171 C463.75 173.5 465.67 175.58 467 177 C468.33 178.42 469.75 180.33 471 179.5 C472.25 178.67 473.83 175.25 474.5 172 C475.17 168.75 475 164.33 475 160 C475 155.67 474.83 149.5 474.5 146 C474.17 142.5 473.75 140.5 473 139 C472.25 137.5 471.42 136.67 470 137Z" fill="#0064ff"/>
<path d="M470 140 C468.92 140.33 467.25 143.33 466.5 146 C465.75 148.67 465.67 152.67 465.5 156 C465.33 159.33 465.17 163 465.5 166 C465.83 169 466.58 172.33 467.5 174 C468.42 175.67 470 177 471 176 C472 175 473.03 171.5 473.5 168 C473.97 164.5 473.88 159 473.8 155 C473.72 151 473.63 146.5 473 144 C472.37 141.5 471.08 139.67 470 140Z" fill="#00e6e6"/>
<path d="M469.8 141 C469 141.83 467.97 146.83 467.5 150 C467.03 153.17 467.05 156.5 467 160 C466.95 163.5 466.62 168.33 467.2 171 C467.78 173.67 469.5 176.5 470.5 176 C471.5 175.5 472.8 171.67 473.2 168 C473.6 164.33 473.05 157.83 472.9 154 C472.75 150.17 472.82 147.17 472.3 145 C471.78 142.83 470.6 140.17 469.8 141Z" fill="#10e070"/>
<path d="M471.6 152 C471.6 152.43 471.57 152.88 471.53 153.29 C471.48 153.71 471.4 154.13 471.31 154.5 C471.21 154.87 471.09 155.23 470.96 155.54 C470.82 155.84 470.66 156.11 470.5 156.33 C470.34 156.55 470.15 156.72 469.97 156.83 C469.79 156.94 469.59 157 469.4 157 C469.21 157 469.01 156.94 468.83 156.83 C468.65 156.72 468.46 156.55 468.3 156.33 C468.14 156.11 467.98 155.84 467.84 155.54 C467.71 155.23 467.59 154.87 467.49 154.5 C467.4 154.13 467.32 153.71 467.27 153.29 C467.23 152.88 467.2 152.43 467.2 152 C467.2 151.57 467.23 151.12 467.27 150.71 C467.32 150.29 467.4 149.87 467.49 149.5 C467.59 149.13 467.71 148.77 467.84 148.46 C467.98 148.16 468.14 147.89 468.3 147.67 C468.46 147.45 468.65 147.28 468.83 147.17 C469.01 147.06 469.21 147 469.4 147 C469.59 147 469.79 147.06 469.97 147.17 C470.15 147.28 470.34 147.45 470.5 147.67 C470.66 147.89 470.82 148.16 470.96 148.46 C471.09 148.77 471.21 149.13 471.31 149.5 C471.4 149.87 471.48 150.29 471.53 150.71 C471.57 151.12 471.6 151.57 471.6 152Z" fill="#f0f000"/>
<path d="M472.7 169.5 C472.7 170.06 472.67 170.64 472.6 171.18 C472.54 171.72 472.45 172.26 472.32 172.75 C472.2 173.24 472.05 173.7 471.88 174.1 C471.71 174.49 471.51 174.85 471.3 175.13 C471.09 175.41 470.86 175.63 470.62 175.78 C470.39 175.92 470.14 176 469.9 176 C469.66 176 469.41 175.92 469.18 175.78 C468.94 175.63 468.71 175.41 468.5 175.13 C468.29 174.85 468.09 174.49 467.92 174.1 C467.75 173.7 467.6 173.24 467.48 172.75 C467.35 172.26 467.26 171.72 467.2 171.18 C467.13 170.64 467.1 170.06 467.1 169.5 C467.1 168.94 467.13 168.36 467.2 167.82 C467.26 167.28 467.35 166.74 467.48 166.25 C467.6 165.76 467.75 165.3 467.92 164.9 C468.09 164.51 468.29 164.15 468.5 163.87 C468.71 163.59 468.94 163.37 469.18 163.22 C469.41 163.08 469.66 163 469.9 163 C470.14 163 470.39 163.08 470.62 163.22 C470.86 163.37 471.09 163.59 471.3 163.87 C471.51 164.15 471.71 164.51 471.88 164.9 C472.05 165.3 472.2 165.76 472.32 166.25 C472.45 166.74 472.54 167.28 472.6 167.82 C472.67 168.36 472.7 168.94 472.7 169.5Z" fill="#f0f000"/>
<path d="M470.4 151 C470.4 151.17 470.38 151.35 470.36 151.52 C470.33 151.68 470.28 151.85 470.23 152 C470.17 152.15 470.1 152.29 470.02 152.41 C469.94 152.54 469.85 152.65 469.75 152.73 C469.65 152.82 469.54 152.89 469.44 152.93 C469.33 152.98 469.21 153 469.1 153 C468.99 153 468.87 152.98 468.76 152.93 C468.66 152.89 468.55 152.82 468.45 152.73 C468.35 152.65 468.26 152.54 468.18 152.41 C468.1 152.29 468.03 152.15 467.97 152 C467.92 151.85 467.87 151.68 467.84 151.52 C467.82 151.35 467.8 151.17 467.8 151 C467.8 150.83 467.82 150.65 467.84 150.48 C467.87 150.32 467.92 150.15 467.97 150 C468.03 149.85 468.1 149.71 468.18 149.59 C468.26 149.46 468.35 149.35 468.45 149.27 C468.55 149.18 468.66 149.11 468.76 149.07 C468.87 149.02 468.99 149 469.1 149 C469.21 149 469.33 149.02 469.44 149.07 C469.54 149.11 469.65 149.18 469.75 149.27 C469.85 149.35 469.94 149.46 470.02 149.59 C470.1 149.71 470.17 149.85 470.23 150 C470.28 150.15 470.33 150.32 470.36 150.48 C470.38 150.65 470.4 150.83 470.4 151Z" fill="#ff8a00"/>
<path d="M472.2 170 C472.2 170.41 472.17 170.84 472.12 171.24 C472.07 171.64 471.99 172.04 471.89 172.4 C471.79 172.76 471.67 173.1 471.53 173.39 C471.39 173.69 471.22 173.95 471.05 174.16 C470.88 174.36 470.69 174.53 470.5 174.64 C470.3 174.74 470.1 174.8 469.9 174.8 C469.7 174.8 469.5 174.74 469.3 174.64 C469.11 174.53 468.92 174.36 468.75 174.16 C468.58 173.95 468.41 173.69 468.27 173.39 C468.13 173.1 468.01 172.76 467.91 172.4 C467.81 172.04 467.73 171.64 467.68 171.24 C467.63 170.84 467.6 170.41 467.6 170 C467.6 169.59 467.63 169.16 467.68 168.76 C467.73 168.36 467.81 167.96 467.91 167.6 C468.01 167.24 468.13 166.9 468.27 166.61 C468.41 166.31 468.58 166.05 468.75 165.84 C468.92 165.64 469.11 165.47 469.3 165.36 C469.5 165.26 469.7 165.2 469.9 165.2 C470.1 165.2 470.3 165.26 470.5 165.36 C470.69 165.47 470.88 165.64 471.05 165.84 C471.22 166.05 471.39 166.31 471.53 166.61 C471.67 166.9 471.79 167.24 471.89 167.6 C471.99 167.96 472.07 168.36 472.12 168.76 C472.17 169.16 472.2 169.59 472.2 170Z" fill="#ff8a00"/>
<path d="M471.9 170.8 C471.9 171.13 471.88 171.47 471.84 171.78 C471.79 172.1 471.73 172.42 471.65 172.7 C471.56 172.98 471.46 173.26 471.34 173.49 C471.23 173.72 471.09 173.93 470.95 174.09 C470.81 174.25 470.65 174.39 470.49 174.47 C470.33 174.56 470.16 174.6 470 174.6 C469.84 174.6 469.67 174.56 469.51 174.47 C469.35 174.39 469.19 174.25 469.05 174.09 C468.91 173.93 468.77 173.72 468.66 173.49 C468.54 173.26 468.44 172.98 468.35 172.7 C468.27 172.42 468.21 172.1 468.16 171.78 C468.12 171.47 468.1 171.13 468.1 170.8 C468.1 170.47 468.12 170.13 468.16 169.82 C468.21 169.5 468.27 169.18 468.35 168.9 C468.44 168.62 468.54 168.34 468.66 168.11 C468.77 167.88 468.91 167.67 469.05 167.51 C469.19 167.35 469.35 167.21 469.51 167.13 C469.67 167.04 469.84 167 470 167 C470.16 167 470.33 167.04 470.49 167.13 C470.65 167.21 470.81 167.35 470.95 167.51 C471.09 167.67 471.23 167.88 471.34 168.11 C471.46 168.34 471.56 168.62 471.65 168.9 C471.73 169.18 471.79 169.5 471.84 169.82 C471.88 170.13 471.9 170.47 471.9 170.8Z" fill="#f00000"/>
</g>
<rect x="412.8" y="126.7" width="85.7" height="86.1" fill="none" stroke="#000" stroke-width="1.2"/>
<rect x="455.9" y="127.2" width="28" height="35.3" fill="none" stroke="#555" stroke-width="1"/>
<line x1="455.9" y1="162.5" x2="483.9" y2="162.5" stroke="#111" stroke-width="1.2"/>
<text x="393.22" y="138.9" font-size="8.43" textLength="8.57" lengthAdjust="spacingAndGlyphs">10</text>
<text x="401.85" y="135.9" font-size="7.25" textLength="4.8" lengthAdjust="spacingAndGlyphs">5</text>
<line x1="409.6" y1="134.7" x2="412.8" y2="134.7" stroke="#000" stroke-width="1"/>
<text x="393.22" y="158" font-size="8.43" textLength="8.57" lengthAdjust="spacingAndGlyphs">10</text>
<text x="402.04" y="155" font-size="7.25" textLength="4.52" lengthAdjust="spacingAndGlyphs">4</text>
<line x1="409.6" y1="153.8" x2="412.8" y2="153.8" stroke="#000" stroke-width="1"/>
<text x="393.22" y="178.3" font-size="8.43" textLength="8.57" lengthAdjust="spacingAndGlyphs">10</text>
<text x="401.85" y="175.3" font-size="7.14" textLength="4.8" lengthAdjust="spacingAndGlyphs">3</text>
<line x1="409.6" y1="174.1" x2="412.8" y2="174.1" stroke="#000" stroke-width="1"/>
<text x="393.22" y="198.8" font-size="8.43" textLength="8.57" lengthAdjust="spacingAndGlyphs">10</text>
<text x="401.75" y="195.8" font-size="7.14" textLength="5.01" lengthAdjust="spacingAndGlyphs">2</text>
<line x1="409.6" y1="194.6" x2="412.8" y2="194.6" stroke="#000" stroke-width="1"/>
<text x="401.28" y="207.2" font-size="8.57" textLength="4.4" lengthAdjust="spacingAndGlyphs">0</text>
<line x1="409.6" y1="204.2" x2="412.8" y2="204.2" stroke="#000" stroke-width="1"/>
<line x1="411.2" y1="148.05" x2="412.8" y2="148.05" stroke="#333" stroke-width="0.6"/>
<line x1="411.2" y1="144.69" x2="412.8" y2="144.69" stroke="#333" stroke-width="0.6"/>
<line x1="411.2" y1="142.3" x2="412.8" y2="142.3" stroke="#333" stroke-width="0.6"/>
<line x1="411.2" y1="140.45" x2="412.8" y2="140.45" stroke="#333" stroke-width="0.6"/>
<line x1="411.2" y1="138.94" x2="412.8" y2="138.94" stroke="#333" stroke-width="0.6"/>
<line x1="411.2" y1="137.66" x2="412.8" y2="137.66" stroke="#333" stroke-width="0.6"/>
<line x1="411.2" y1="136.55" x2="412.8" y2="136.55" stroke="#333" stroke-width="0.6"/>
<line x1="411.2" y1="135.57" x2="412.8" y2="135.57" stroke="#333" stroke-width="0.6"/>
<line x1="411.2" y1="167.99" x2="412.8" y2="167.99" stroke="#333" stroke-width="0.6"/>
<line x1="411.2" y1="164.41" x2="412.8" y2="164.41" stroke="#333" stroke-width="0.6"/>
<line x1="411.2" y1="161.88" x2="412.8" y2="161.88" stroke="#333" stroke-width="0.6"/>
<line x1="411.2" y1="159.91" x2="412.8" y2="159.91" stroke="#333" stroke-width="0.6"/>
<line x1="411.2" y1="158.3" x2="412.8" y2="158.3" stroke="#333" stroke-width="0.6"/>
<line x1="411.2" y1="156.94" x2="412.8" y2="156.94" stroke="#333" stroke-width="0.6"/>
<line x1="411.2" y1="155.77" x2="412.8" y2="155.77" stroke="#333" stroke-width="0.6"/>
<line x1="411.2" y1="154.73" x2="412.8" y2="154.73" stroke="#333" stroke-width="0.6"/>
<line x1="411.2" y1="188.43" x2="412.8" y2="188.43" stroke="#333" stroke-width="0.6"/>
<line x1="411.2" y1="184.82" x2="412.8" y2="184.82" stroke="#333" stroke-width="0.6"/>
<line x1="411.2" y1="182.26" x2="412.8" y2="182.26" stroke="#333" stroke-width="0.6"/>
<line x1="411.2" y1="180.27" x2="412.8" y2="180.27" stroke="#333" stroke-width="0.6"/>
<line x1="411.2" y1="178.65" x2="412.8" y2="178.65" stroke="#333" stroke-width="0.6"/>
<line x1="411.2" y1="177.28" x2="412.8" y2="177.28" stroke="#333" stroke-width="0.6"/>
<line x1="411.2" y1="176.09" x2="412.8" y2="176.09" stroke="#333" stroke-width="0.6"/>
<line x1="411.2" y1="175.04" x2="412.8" y2="175.04" stroke="#333" stroke-width="0.6"/>
<line x1="415.8" y1="212.8" x2="415.8" y2="214.4" stroke="#333" stroke-width="0.6"/>
<line x1="418.8" y1="212.8" x2="418.8" y2="214.4" stroke="#333" stroke-width="0.6"/>
<line x1="421.8" y1="212.8" x2="421.8" y2="214.4" stroke="#333" stroke-width="0.6"/>
<line x1="424.8" y1="212.8" x2="424.8" y2="214.4" stroke="#333" stroke-width="0.6"/>
<line x1="428.8" y1="212.8" x2="428.8" y2="214.4" stroke="#333" stroke-width="0.6"/>
<line x1="432.8" y1="212.8" x2="432.8" y2="214.4" stroke="#333" stroke-width="0.6"/>
<line x1="438.8" y1="212.8" x2="438.8" y2="214.4" stroke="#333" stroke-width="0.6"/>
<line x1="442.8" y1="212.8" x2="442.8" y2="214.4" stroke="#333" stroke-width="0.6"/>
<line x1="449.8" y1="212.8" x2="449.8" y2="214.4" stroke="#333" stroke-width="0.6"/>
<line x1="454.8" y1="212.8" x2="454.8" y2="214.4" stroke="#333" stroke-width="0.6"/>
<line x1="459.8" y1="212.8" x2="459.8" y2="214.4" stroke="#333" stroke-width="0.6"/>
<line x1="464.8" y1="212.8" x2="464.8" y2="214.4" stroke="#333" stroke-width="0.6"/>
<line x1="469.8" y1="212.8" x2="469.8" y2="214.4" stroke="#333" stroke-width="0.6"/>
<line x1="474.8" y1="212.8" x2="474.8" y2="214.4" stroke="#333" stroke-width="0.6"/>
<line x1="479.8" y1="212.8" x2="479.8" y2="214.4" stroke="#333" stroke-width="0.6"/>
<line x1="484.8" y1="212.8" x2="484.8" y2="214.4" stroke="#333" stroke-width="0.6"/>
<line x1="489.8" y1="212.8" x2="489.8" y2="214.4" stroke="#333" stroke-width="0.6"/>
<line x1="493.8" y1="212.8" x2="493.8" y2="214.4" stroke="#333" stroke-width="0.6"/>
<line x1="449.8" y1="212.8" x2="449.8" y2="215.8" stroke="#000" stroke-width="0.9"/>
<line x1="469.8" y1="212.8" x2="469.8" y2="215.8" stroke="#000" stroke-width="0.9"/>
<line x1="488.8" y1="212.8" x2="488.8" y2="215.8" stroke="#000" stroke-width="0.9"/>
<text x="415.63" y="136.5" font-size="7.57" textLength="9.69" lengthAdjust="spacingAndGlyphs">49</text>
<text x="419.5" y="227" font-size="8.71" textLength="4.17" lengthAdjust="spacingAndGlyphs">0</text>
<text x="424.2" y="227" font-size="8.71" textLength="8.9" lengthAdjust="spacingAndGlyphs">10</text>
<text x="432.85" y="223" font-size="7" textLength="5.01" lengthAdjust="spacingAndGlyphs">2</text>
<text x="445.4" y="227" font-size="8.71" textLength="8.9" lengthAdjust="spacingAndGlyphs">10</text>
<text x="454.15" y="223" font-size="7" textLength="4.8" lengthAdjust="spacingAndGlyphs">3</text>
<text x="465" y="227" font-size="8.71" textLength="8.9" lengthAdjust="spacingAndGlyphs">10</text>
<text x="473.94" y="223" font-size="7.1" textLength="4.52" lengthAdjust="spacingAndGlyphs">4</text>
<text x="483.9" y="227" font-size="8.71" textLength="8.9" lengthAdjust="spacingAndGlyphs">10</text>
<text x="492.65" y="223" font-size="7.1" textLength="4.8" lengthAdjust="spacingAndGlyphs">5</text>
<text x="339.23" y="241.3" font-size="11.14" textLength="15" lengthAdjust="spacingAndGlyphs">CD4</text>
<text x="448.32" y="241.1" font-size="11.14" textLength="15.4" lengthAdjust="spacingAndGlyphs">CD8</text>
<text x="10.04" y="256.9" font-size="12.9" textLength="8.41" lengthAdjust="spacingAndGlyphs" font-weight="bold">B</text>
<rect x="44.5" y="268.8" width="14.8" height="7.5" fill="#a5002f"/>
<text x="61.96" y="275.1" font-size="8.26" textLength="12.5" lengthAdjust="spacingAndGlyphs">WT</text>
<rect x="77.5" y="268.8" width="15" height="7.5" fill="#2e4a7c"/>
<text x="94.34" y="275.1" font-size="7.86" textLength="19.22" lengthAdjust="spacingAndGlyphs">Sirt-1</text>
<text x="114" y="271" font-size="5.2" textLength="6.29" lengthAdjust="spacingAndGlyphs">-/-</text>
<line x1="58.6" y1="310.33" x2="58.6" y2="308.86" stroke="#111" stroke-width="0.9"/>
<line x1="55.4" y1="308.86" x2="61.8" y2="308.86" stroke="#111" stroke-width="0.9"/>
<rect x="51.1" y="310.33" width="15" height="46.37" fill="#a5002f"/>
<line x1="73.9" y1="335.72" x2="73.9" y2="335.36" stroke="#111" stroke-width="0.9"/>
<line x1="70.7" y1="335.36" x2="77.1" y2="335.36" stroke="#111" stroke-width="0.9"/>
<rect x="66.1" y="335.72" width="15.6" height="20.98" fill="#2e4a7c"/>
<line x1="102.8" y1="295.98" x2="102.8" y2="295.24" stroke="#111" stroke-width="0.9"/>
<line x1="99.6" y1="295.24" x2="106" y2="295.24" stroke="#111" stroke-width="0.9"/>
<rect x="95.2" y="295.98" width="15.2" height="60.72" fill="#a5002f"/>
<line x1="118.1" y1="301.87" x2="118.1" y2="301.5" stroke="#111" stroke-width="0.9"/>
<line x1="114.9" y1="301.5" x2="121.3" y2="301.5" stroke="#111" stroke-width="0.9"/>
<rect x="110.4" y="301.87" width="15.4" height="54.83" fill="#2e4a7c"/>
<line x1="43.8" y1="282.5" x2="43.8" y2="357.2" stroke="#000" stroke-width="1.2"/>
<line x1="43.2" y1="356.7" x2="132.5" y2="356.7" stroke="#000" stroke-width="1.2"/>
<line x1="41.2" y1="356.7" x2="43.8" y2="356.7" stroke="#000" stroke-width="1"/>
<text x="33.19" y="359.4" font-size="8.57" textLength="4.5" lengthAdjust="spacingAndGlyphs">0</text>
<line x1="41.2" y1="338.3" x2="43.8" y2="338.3" stroke="#000" stroke-width="1"/>
<text x="28.74" y="341" font-size="8.57" textLength="9" lengthAdjust="spacingAndGlyphs">25</text>
<line x1="41.2" y1="319.9" x2="43.8" y2="319.9" stroke="#000" stroke-width="1"/>
<text x="28.7" y="322.6" font-size="8.57" textLength="9" lengthAdjust="spacingAndGlyphs">50</text>
<line x1="41.2" y1="301.5" x2="43.8" y2="301.5" stroke="#000" stroke-width="1"/>
<text x="28.74" y="304.2" font-size="8.7" textLength="9" lengthAdjust="spacingAndGlyphs">75</text>
<line x1="41.2" y1="283.1" x2="43.8" y2="283.1" stroke="#000" stroke-width="1"/>
<text x="24.21" y="285.8" font-size="8.57" textLength="13.5" lengthAdjust="spacingAndGlyphs">100</text>
<line x1="66.2" y1="356.7" x2="66.2" y2="359.2" stroke="#000" stroke-width="1"/>
<line x1="110" y1="356.7" x2="110" y2="359.2" stroke="#000" stroke-width="1"/>
<text x="57.25" y="370.8" font-size="8.71" textLength="17.92" lengthAdjust="spacingAndGlyphs">CD4</text>
<text x="101.35" y="370.8" font-size="8.71" textLength="17.91" lengthAdjust="spacingAndGlyphs">CD8</text>
<path d="M60.7 305.8 L60.7 301.2 L75.2 301.2 L75.2 305.8" fill="none" stroke="#111" stroke-width="0.9"/>
<text x="68.2" y="298.8" font-size="9" text-anchor="middle">****</text>
<path d="M102.2 294.4 L102.2 289.4 L116.5 289.4 L116.5 294.4" fill="none" stroke="#111" stroke-width="0.9"/>
<text x="109.4" y="287.2" font-size="9" text-anchor="middle">***</text>
<text x="17.3" y="344.67" font-size="9.79" textLength="54.06" lengthAdjust="spacingAndGlyphs" transform="rotate(-90 17.3 344.67)">% CFSE diluted</text>
<line x1="58.6" y1="452.09" x2="58.6" y2="450.47" stroke="#111" stroke-width="0.9"/>
<line x1="55.4" y1="450.47" x2="61.8" y2="450.47" stroke="#111" stroke-width="0.9"/>
<rect x="51.1" y="452.09" width="15" height="35.11" fill="#a5002f"/>
<line x1="73.9" y1="474.75" x2="73.9" y2="474.25" stroke="#111" stroke-width="0.9"/>
<line x1="70.7" y1="474.25" x2="77.1" y2="474.25" stroke="#111" stroke-width="0.9"/>
<rect x="66.1" y="474.75" width="15.6" height="12.45" fill="#2e4a7c"/>
<line x1="102.8" y1="426.19" x2="102.8" y2="424.33" stroke="#111" stroke-width="0.9"/>
<line x1="99.6" y1="424.33" x2="106" y2="424.33" stroke="#111" stroke-width="0.9"/>
<rect x="95.2" y="426.19" width="15.2" height="61" fill="#a5002f"/>
<line x1="118.1" y1="424.2" x2="118.1" y2="423.7" stroke="#111" stroke-width="0.9"/>
<line x1="114.9" y1="423.7" x2="121.3" y2="423.7" stroke="#111" stroke-width="0.9"/>
<rect x="110.4" y="424.2" width="15.4" height="63" fill="#2e4a7c"/>
<line x1="43.9" y1="410" x2="43.9" y2="487.7" stroke="#000" stroke-width="1.2"/>
<line x1="43.3" y1="487.2" x2="132.5" y2="487.2" stroke="#000" stroke-width="1.2"/>
<line x1="41.3" y1="487.2" x2="43.9" y2="487.2" stroke="#000" stroke-width="1"/>
<text x="33.29" y="489.9" font-size="8.57" textLength="4.5" lengthAdjust="spacingAndGlyphs">0</text>
<line x1="41.3" y1="462.3" x2="43.9" y2="462.3" stroke="#000" stroke-width="1"/>
<text x="28.8" y="465" font-size="8.57" textLength="9" lengthAdjust="spacingAndGlyphs">20</text>
<line x1="41.3" y1="437.4" x2="43.9" y2="437.4" stroke="#000" stroke-width="1"/>
<text x="28.8" y="440.1" font-size="8.57" textLength="9" lengthAdjust="spacingAndGlyphs">40</text>
<line x1="41.3" y1="412.5" x2="43.9" y2="412.5" stroke="#000" stroke-width="1"/>
<text x="28.8" y="415.2" font-size="8.57" textLength="9" lengthAdjust="spacingAndGlyphs">60</text>
<line x1="66" y1="487.2" x2="66" y2="489.7" stroke="#000" stroke-width="1"/>
<line x1="110.4" y1="487.2" x2="110.4" y2="489.7" stroke="#000" stroke-width="1"/>
<text x="57.25" y="501" font-size="8.71" textLength="17.92" lengthAdjust="spacingAndGlyphs">CD4</text>
<text x="101.35" y="501" font-size="8.71" textLength="17.91" lengthAdjust="spacingAndGlyphs">CD8</text>
<path d="M62 448.5 L62 443.2 L76 443.2 L76 448.5" fill="none" stroke="#111" stroke-width="0.9"/>
<text x="69" y="441.3" font-size="9" text-anchor="middle">****</text>
<text x="21.4" y="462.76" font-size="9.6" textLength="27.21" lengthAdjust="spacingAndGlyphs" transform="rotate(-90 21.4 462.76)">% IFN-γ</text>
<text x="149.53" y="257.3" font-size="13.2" textLength="8.49" lengthAdjust="spacingAndGlyphs" font-weight="bold">C</text>
<line x1="184.8" y1="282.8" x2="184.8" y2="357.1" stroke="#000" stroke-width="1.2"/>
<line x1="184.2" y1="356.6" x2="298" y2="356.6" stroke="#000" stroke-width="1.2"/>
<line x1="182.2" y1="356.6" x2="184.8" y2="356.6" stroke="#000" stroke-width="1"/>
<text x="174.19" y="359.3" font-size="8.57" textLength="4.5" lengthAdjust="spacingAndGlyphs">0</text>
<line x1="182.2" y1="339.9" x2="184.8" y2="339.9" stroke="#000" stroke-width="1"/>
<text x="169.74" y="342.6" font-size="8.57" textLength="9" lengthAdjust="spacingAndGlyphs">25</text>
<line x1="182.2" y1="323.2" x2="184.8" y2="323.2" stroke="#000" stroke-width="1"/>
<text x="169.7" y="325.9" font-size="8.57" textLength="9" lengthAdjust="spacingAndGlyphs">50</text>
<line x1="182.2" y1="306.5" x2="184.8" y2="306.5" stroke="#000" stroke-width="1"/>
<text x="169.74" y="309.2" font-size="8.7" textLength="9" lengthAdjust="spacingAndGlyphs">75</text>
<line x1="182.2" y1="289.8" x2="184.8" y2="289.8" stroke="#000" stroke-width="1"/>
<text x="165.21" y="292.5" font-size="8.57" textLength="13.5" lengthAdjust="spacingAndGlyphs">100</text>
<line x1="184.8" y1="356.6" x2="184.8" y2="359.2" stroke="#000" stroke-width="1"/>
<text x="182.53" y="370.3" font-size="8.57" textLength="4.5" lengthAdjust="spacingAndGlyphs">0</text>
<line x1="212.3" y1="356.6" x2="212.3" y2="359.2" stroke="#000" stroke-width="1"/>
<text x="207.75" y="370.3" font-size="8.57" textLength="9" lengthAdjust="spacingAndGlyphs">20</text>
<line x1="239.8" y1="356.6" x2="239.8" y2="359.2" stroke="#000" stroke-width="1"/>
<text x="235.37" y="370.3" font-size="8.57" textLength="9" lengthAdjust="spacingAndGlyphs">40</text>
<line x1="267.3" y1="356.6" x2="267.3" y2="359.2" stroke="#000" stroke-width="1"/>
<text x="262.75" y="370.3" font-size="8.57" textLength="9" lengthAdjust="spacingAndGlyphs">60</text>
<line x1="294.8" y1="356.6" x2="294.8" y2="359.2" stroke="#000" stroke-width="1"/>
<text x="290.27" y="370.3" font-size="8.57" textLength="9" lengthAdjust="spacingAndGlyphs">80</text>
<text x="214.98" y="384.4" font-size="10" textLength="52.98" lengthAdjust="spacingAndGlyphs">Days post BMT</text>
<text x="158.2" y="338.08" font-size="10.9" textLength="36.62" lengthAdjust="spacingAndGlyphs" transform="rotate(-90 158.2 338.08)">% survival</text>
<path d="M206.8 289.8 L206.8 297.21 L212.3 297.21 L212.3 304.63 L220.55 304.63 L220.55 312.04 L221.93 312.04 L221.93 319.46 L224.68 319.46 L224.68 326.94 L230.18 326.94 L230.18 334.36 L260.43 334.36 L260.43 341.77 L294.8 341.77 L294.8 341.77" fill="none" stroke="#a5002f" stroke-width="1.2"/>
<circle cx="206.8" cy="297.21" r="3.4" fill="#a5002f"/>
<circle cx="212.3" cy="304.63" r="3.4" fill="#a5002f"/>
<circle cx="220.55" cy="312.04" r="3.4" fill="#a5002f"/>
<circle cx="221.93" cy="319.46" r="3.4" fill="#a5002f"/>
<circle cx="224.68" cy="326.94" r="3.4" fill="#a5002f"/>
<circle cx="230.18" cy="334.36" r="3.4" fill="#a5002f"/>
<circle cx="260.43" cy="341.77" r="3.4" fill="#a5002f"/>
<circle cx="294.8" cy="341.77" r="3.4" fill="#a5002f"/>
<path d="M243.93 289.8 L243.93 296.48 L246.68 296.48 L246.68 303.16 L274.18 303.16 L274.18 309.84 L281.05 309.84 L281.05 316.52 L294.8 316.52 L294.8 316.52" fill="none" stroke="#2e4a7c" stroke-width="1.2"/>
<path d="M243.93 292.58 L240.03 299.6 L247.83 299.6 Z" fill="#2e4a7c"/>
<path d="M246.68 299.26 L242.78 306.28 L250.58 306.28 Z" fill="#2e4a7c"/>
<path d="M274.18 305.94 L270.28 312.96 L278.07 312.96 Z" fill="#2e4a7c"/>
<path d="M281.05 312.62 L277.15 319.64 L284.95 319.64 Z" fill="#2e4a7c"/>
<path d="M294.8 312.62 L290.9 319.64 L298.7 319.64 Z" fill="#2e4a7c"/>
<text x="294.8" y="311.5" font-size="9.5" text-anchor="middle">*</text>
<line x1="185.4" y1="289.8" x2="291.3" y2="289.8" stroke="#66a745" stroke-width="1.4"/>
<circle cx="294.8" cy="289.8" r="3.4" fill="#fff" stroke="#66a745" stroke-width="1.2"/>
<text x="316.07" y="256.9" font-size="12.61" textLength="9.28" lengthAdjust="spacingAndGlyphs" font-weight="bold">D</text>
<line x1="351.4" y1="267" x2="351.4" y2="357.1" stroke="#000" stroke-width="1.2"/>
<line x1="350.8" y1="356.6" x2="487" y2="356.6" stroke="#000" stroke-width="1.2"/>
<line x1="348.8" y1="356.7" x2="351.4" y2="356.7" stroke="#000" stroke-width="1"/>
<text x="336.3" y="359.4" font-size="8.57" textLength="9" lengthAdjust="spacingAndGlyphs">60</text>
<line x1="348.8" y1="327.1" x2="351.4" y2="327.1" stroke="#000" stroke-width="1"/>
<text x="336.3" y="329.8" font-size="8.57" textLength="9" lengthAdjust="spacingAndGlyphs">80</text>
<line x1="348.8" y1="297.5" x2="351.4" y2="297.5" stroke="#000" stroke-width="1"/>
<text x="331.81" y="300.2" font-size="8.57" textLength="13.5" lengthAdjust="spacingAndGlyphs">100</text>
<line x1="348.8" y1="267.9" x2="351.4" y2="267.9" stroke="#000" stroke-width="1"/>
<text x="331.81" y="270.6" font-size="8.57" textLength="13.5" lengthAdjust="spacingAndGlyphs">120</text>
<line x1="351.4" y1="356.6" x2="351.4" y2="359.2" stroke="#000" stroke-width="1"/>
<text x="349.13" y="370.8" font-size="8.57" textLength="4.5" lengthAdjust="spacingAndGlyphs">0</text>
<line x1="384.4" y1="356.6" x2="384.4" y2="359.2" stroke="#000" stroke-width="1"/>
<text x="379.85" y="370.8" font-size="8.57" textLength="9" lengthAdjust="spacingAndGlyphs">20</text>
<line x1="417.4" y1="356.6" x2="417.4" y2="359.2" stroke="#000" stroke-width="1"/>
<text x="412.97" y="370.8" font-size="8.57" textLength="9" lengthAdjust="spacingAndGlyphs">40</text>
<line x1="450.4" y1="356.6" x2="450.4" y2="359.2" stroke="#000" stroke-width="1"/>
<text x="445.85" y="370.8" font-size="8.57" textLength="9" lengthAdjust="spacingAndGlyphs">60</text>
<line x1="483.4" y1="356.6" x2="483.4" y2="359.2" stroke="#000" stroke-width="1"/>
<text x="478.87" y="370.8" font-size="8.57" textLength="9" lengthAdjust="spacingAndGlyphs">80</text>
<text x="392.89" y="384.3" font-size="10.29" textLength="52.27" lengthAdjust="spacingAndGlyphs">Days post BMT</text>
<text x="324.2" y="337.89" font-size="9.8" textLength="53.96" lengthAdjust="spacingAndGlyphs" transform="rotate(-90 324.2 337.89)">% body weight</text>
<text x="494.6" y="316" font-size="9" text-anchor="middle">***</text>
<line x1="356.4" y1="311" x2="356.4" y2="318" stroke="#a5002f" stroke-width="0.8"/>
<line x1="354.2" y1="311" x2="358.6" y2="311" stroke="#a5002f" stroke-width="0.8"/>
<line x1="354.2" y1="318" x2="358.6" y2="318" stroke="#a5002f" stroke-width="0.8"/>
<line x1="359.5" y1="318" x2="359.5" y2="326" stroke="#a5002f" stroke-width="0.8"/>
<line x1="357.3" y1="318" x2="361.7" y2="318" stroke="#a5002f" stroke-width="0.8"/>
<line x1="357.3" y1="326" x2="361.7" y2="326" stroke="#a5002f" stroke-width="0.8"/>
<line x1="364.9" y1="305" x2="364.9" y2="316" stroke="#a5002f" stroke-width="0.8"/>
<line x1="362.7" y1="305" x2="367.1" y2="305" stroke="#a5002f" stroke-width="0.8"/>
<line x1="362.7" y1="316" x2="367.1" y2="316" stroke="#a5002f" stroke-width="0.8"/>
<line x1="369" y1="298.7" x2="369" y2="307.3" stroke="#a5002f" stroke-width="0.8"/>
<line x1="366.8" y1="298.7" x2="371.2" y2="298.7" stroke="#a5002f" stroke-width="0.8"/>
<line x1="366.8" y1="307.3" x2="371.2" y2="307.3" stroke="#a5002f" stroke-width="0.8"/>
<line x1="376.2" y1="306.6" x2="376.2" y2="335.6" stroke="#a5002f" stroke-width="0.8"/>
<line x1="374" y1="306.6" x2="378.4" y2="306.6" stroke="#a5002f" stroke-width="0.8"/>
<line x1="374" y1="335.6" x2="378.4" y2="335.6" stroke="#a5002f" stroke-width="0.8"/>
<line x1="379.7" y1="314.7" x2="379.7" y2="334.9" stroke="#a5002f" stroke-width="0.8"/>
<line x1="377.5" y1="314.7" x2="381.9" y2="314.7" stroke="#a5002f" stroke-width="0.8"/>
<line x1="377.5" y1="334.9" x2="381.9" y2="334.9" stroke="#a5002f" stroke-width="0.8"/>
<line x1="386" y1="320.8" x2="386" y2="336.9" stroke="#a5002f" stroke-width="0.8"/>
<line x1="383.8" y1="320.8" x2="388.2" y2="320.8" stroke="#a5002f" stroke-width="0.8"/>
<line x1="383.8" y1="336.9" x2="388.2" y2="336.9" stroke="#a5002f" stroke-width="0.8"/>
<line x1="391.4" y1="318.1" x2="391.4" y2="347.7" stroke="#a5002f" stroke-width="0.8"/>
<line x1="389.2" y1="318.1" x2="393.6" y2="318.1" stroke="#a5002f" stroke-width="0.8"/>
<line x1="389.2" y1="347.7" x2="393.6" y2="347.7" stroke="#a5002f" stroke-width="0.8"/>
<line x1="399.5" y1="323.5" x2="399.5" y2="343" stroke="#a5002f" stroke-width="0.8"/>
<line x1="397.3" y1="323.5" x2="401.7" y2="323.5" stroke="#a5002f" stroke-width="0.8"/>
<line x1="397.3" y1="343" x2="401.7" y2="343" stroke="#a5002f" stroke-width="0.8"/>
<line x1="404.5" y1="315.4" x2="404.5" y2="339.6" stroke="#a5002f" stroke-width="0.8"/>
<line x1="402.3" y1="315.4" x2="406.7" y2="315.4" stroke="#a5002f" stroke-width="0.8"/>
<line x1="402.3" y1="339.6" x2="406.7" y2="339.6" stroke="#a5002f" stroke-width="0.8"/>
<line x1="411.2" y1="314" x2="411.2" y2="334.2" stroke="#a5002f" stroke-width="0.8"/>
<line x1="409" y1="314" x2="413.4" y2="314" stroke="#a5002f" stroke-width="0.8"/>
<line x1="409" y1="334.2" x2="413.4" y2="334.2" stroke="#a5002f" stroke-width="0.8"/>
<line x1="416.2" y1="316" x2="416.2" y2="324" stroke="#a5002f" stroke-width="0.8"/>
<line x1="414" y1="316" x2="418.4" y2="316" stroke="#a5002f" stroke-width="0.8"/>
<line x1="414" y1="324" x2="418.4" y2="324" stroke="#a5002f" stroke-width="0.8"/>
<line x1="421.9" y1="319" x2="421.9" y2="326" stroke="#a5002f" stroke-width="0.8"/>
<line x1="419.7" y1="319" x2="424.1" y2="319" stroke="#a5002f" stroke-width="0.8"/>
<line x1="419.7" y1="326" x2="424.1" y2="326" stroke="#a5002f" stroke-width="0.8"/>
<line x1="426.5" y1="318" x2="426.5" y2="326" stroke="#a5002f" stroke-width="0.8"/>
<line x1="424.3" y1="318" x2="428.7" y2="318" stroke="#a5002f" stroke-width="0.8"/>
<line x1="424.3" y1="326" x2="428.7" y2="326" stroke="#a5002f" stroke-width="0.8"/>
<line x1="434.2" y1="311" x2="434.2" y2="345.8" stroke="#a5002f" stroke-width="0.8"/>
<line x1="432" y1="311" x2="436.4" y2="311" stroke="#a5002f" stroke-width="0.8"/>
<line x1="432" y1="345.8" x2="436.4" y2="345.8" stroke="#a5002f" stroke-width="0.8"/>
<line x1="440.8" y1="315.8" x2="440.8" y2="322.7" stroke="#a5002f" stroke-width="0.8"/>
<line x1="438.6" y1="315.8" x2="443" y2="315.8" stroke="#a5002f" stroke-width="0.8"/>
<line x1="438.6" y1="322.7" x2="443" y2="322.7" stroke="#a5002f" stroke-width="0.8"/>
<line x1="449.2" y1="303" x2="449.2" y2="319.2" stroke="#a5002f" stroke-width="0.8"/>
<line x1="447" y1="303" x2="451.4" y2="303" stroke="#a5002f" stroke-width="0.8"/>
<line x1="447" y1="319.2" x2="451.4" y2="319.2" stroke="#a5002f" stroke-width="0.8"/>
<line x1="459.3" y1="304" x2="459.3" y2="324" stroke="#a5002f" stroke-width="0.8"/>
<line x1="457.1" y1="304" x2="461.5" y2="304" stroke="#a5002f" stroke-width="0.8"/>
<line x1="457.1" y1="324" x2="461.5" y2="324" stroke="#a5002f" stroke-width="0.8"/>
<line x1="468.5" y1="302" x2="468.5" y2="328.5" stroke="#a5002f" stroke-width="0.8"/>
<line x1="466.3" y1="302" x2="470.7" y2="302" stroke="#a5002f" stroke-width="0.8"/>
<line x1="466.3" y1="328.5" x2="470.7" y2="328.5" stroke="#a5002f" stroke-width="0.8"/>
<line x1="475.5" y1="303" x2="475.5" y2="323.8" stroke="#a5002f" stroke-width="0.8"/>
<line x1="473.3" y1="303" x2="477.7" y2="303" stroke="#a5002f" stroke-width="0.8"/>
<line x1="473.3" y1="323.8" x2="477.7" y2="323.8" stroke="#a5002f" stroke-width="0.8"/>
<line x1="483.8" y1="314" x2="483.8" y2="321" stroke="#a5002f" stroke-width="0.8"/>
<line x1="481.6" y1="314" x2="486" y2="314" stroke="#a5002f" stroke-width="0.8"/>
<line x1="481.6" y1="321" x2="486" y2="321" stroke="#a5002f" stroke-width="0.8"/>
<line x1="356.4" y1="312" x2="356.4" y2="319" stroke="#2e4a7c" stroke-width="0.8"/>
<line x1="354.2" y1="312" x2="358.6" y2="312" stroke="#2e4a7c" stroke-width="0.8"/>
<line x1="354.2" y1="319" x2="358.6" y2="319" stroke="#2e4a7c" stroke-width="0.8"/>
<line x1="361.2" y1="302" x2="361.2" y2="312" stroke="#2e4a7c" stroke-width="0.8"/>
<line x1="359" y1="302" x2="363.4" y2="302" stroke="#2e4a7c" stroke-width="0.8"/>
<line x1="359" y1="312" x2="363.4" y2="312" stroke="#2e4a7c" stroke-width="0.8"/>
<line x1="366.5" y1="296" x2="366.5" y2="306" stroke="#2e4a7c" stroke-width="0.8"/>
<line x1="364.3" y1="296" x2="368.7" y2="296" stroke="#2e4a7c" stroke-width="0.8"/>
<line x1="364.3" y1="306" x2="368.7" y2="306" stroke="#2e4a7c" stroke-width="0.8"/>
<line x1="370" y1="292" x2="370" y2="302" stroke="#2e4a7c" stroke-width="0.8"/>
<line x1="367.8" y1="292" x2="372.2" y2="292" stroke="#2e4a7c" stroke-width="0.8"/>
<line x1="367.8" y1="302" x2="372.2" y2="302" stroke="#2e4a7c" stroke-width="0.8"/>
<line x1="377.3" y1="282.4" x2="377.3" y2="299.2" stroke="#2e4a7c" stroke-width="0.8"/>
<line x1="375.1" y1="282.4" x2="379.5" y2="282.4" stroke="#2e4a7c" stroke-width="0.8"/>
<line x1="375.1" y1="299.2" x2="379.5" y2="299.2" stroke="#2e4a7c" stroke-width="0.8"/>
<line x1="380.3" y1="285" x2="380.3" y2="300" stroke="#2e4a7c" stroke-width="0.8"/>
<line x1="378.1" y1="285" x2="382.5" y2="285" stroke="#2e4a7c" stroke-width="0.8"/>
<line x1="378.1" y1="300" x2="382.5" y2="300" stroke="#2e4a7c" stroke-width="0.8"/>
<line x1="385.4" y1="288.5" x2="385.4" y2="303.9" stroke="#2e4a7c" stroke-width="0.8"/>
<line x1="383.2" y1="288.5" x2="387.6" y2="288.5" stroke="#2e4a7c" stroke-width="0.8"/>
<line x1="383.2" y1="303.9" x2="387.6" y2="303.9" stroke="#2e4a7c" stroke-width="0.8"/>
<line x1="390.8" y1="289" x2="390.8" y2="304" stroke="#2e4a7c" stroke-width="0.8"/>
<line x1="388.6" y1="289" x2="393" y2="289" stroke="#2e4a7c" stroke-width="0.8"/>
<line x1="388.6" y1="304" x2="393" y2="304" stroke="#2e4a7c" stroke-width="0.8"/>
<line x1="399.5" y1="297.2" x2="399.5" y2="312.7" stroke="#2e4a7c" stroke-width="0.8"/>
<line x1="397.3" y1="297.2" x2="401.7" y2="297.2" stroke="#2e4a7c" stroke-width="0.8"/>
<line x1="397.3" y1="312.7" x2="401.7" y2="312.7" stroke="#2e4a7c" stroke-width="0.8"/>
<line x1="404.2" y1="289.1" x2="404.2" y2="314" stroke="#2e4a7c" stroke-width="0.8"/>
<line x1="402" y1="289.1" x2="406.4" y2="289.1" stroke="#2e4a7c" stroke-width="0.8"/>
<line x1="402" y1="314" x2="406.4" y2="314" stroke="#2e4a7c" stroke-width="0.8"/>
<line x1="410.9" y1="294" x2="410.9" y2="314" stroke="#2e4a7c" stroke-width="0.8"/>
<line x1="408.7" y1="294" x2="413.1" y2="294" stroke="#2e4a7c" stroke-width="0.8"/>
<line x1="408.7" y1="314" x2="413.1" y2="314" stroke="#2e4a7c" stroke-width="0.8"/>
<line x1="415" y1="296" x2="415" y2="318" stroke="#2e4a7c" stroke-width="0.8"/>
<line x1="412.8" y1="296" x2="417.2" y2="296" stroke="#2e4a7c" stroke-width="0.8"/>
<line x1="412.8" y1="318" x2="417.2" y2="318" stroke="#2e4a7c" stroke-width="0.8"/>
<line x1="422" y1="292" x2="422" y2="312" stroke="#2e4a7c" stroke-width="0.8"/>
<line x1="419.8" y1="292" x2="424.2" y2="292" stroke="#2e4a7c" stroke-width="0.8"/>
<line x1="419.8" y1="312" x2="424.2" y2="312" stroke="#2e4a7c" stroke-width="0.8"/>
<line x1="427.2" y1="293" x2="427.2" y2="307" stroke="#2e4a7c" stroke-width="0.8"/>
<line x1="425" y1="293" x2="429.4" y2="293" stroke="#2e4a7c" stroke-width="0.8"/>
<line x1="425" y1="307" x2="429.4" y2="307" stroke="#2e4a7c" stroke-width="0.8"/>
<line x1="434.2" y1="290" x2="434.2" y2="309" stroke="#2e4a7c" stroke-width="0.8"/>
<line x1="432" y1="290" x2="436.4" y2="290" stroke="#2e4a7c" stroke-width="0.8"/>
<line x1="432" y1="309" x2="436.4" y2="309" stroke="#2e4a7c" stroke-width="0.8"/>
<line x1="441" y1="291" x2="441" y2="308" stroke="#2e4a7c" stroke-width="0.8"/>
<line x1="438.8" y1="291" x2="443.2" y2="291" stroke="#2e4a7c" stroke-width="0.8"/>
<line x1="438.8" y1="308" x2="443.2" y2="308" stroke="#2e4a7c" stroke-width="0.8"/>
<line x1="448.9" y1="292" x2="448.9" y2="307" stroke="#2e4a7c" stroke-width="0.8"/>
<line x1="446.7" y1="292" x2="451.1" y2="292" stroke="#2e4a7c" stroke-width="0.8"/>
<line x1="446.7" y1="307" x2="451.1" y2="307" stroke="#2e4a7c" stroke-width="0.8"/>
<line x1="459.3" y1="285" x2="459.3" y2="302" stroke="#2e4a7c" stroke-width="0.8"/>
<line x1="457.1" y1="285" x2="461.5" y2="285" stroke="#2e4a7c" stroke-width="0.8"/>
<line x1="457.1" y1="302" x2="461.5" y2="302" stroke="#2e4a7c" stroke-width="0.8"/>
<line x1="468.5" y1="284" x2="468.5" y2="303" stroke="#2e4a7c" stroke-width="0.8"/>
<line x1="466.3" y1="284" x2="470.7" y2="284" stroke="#2e4a7c" stroke-width="0.8"/>
<line x1="466.3" y1="303" x2="470.7" y2="303" stroke="#2e4a7c" stroke-width="0.8"/>
<line x1="475.5" y1="285" x2="475.5" y2="302" stroke="#2e4a7c" stroke-width="0.8"/>
<line x1="473.3" y1="285" x2="477.7" y2="285" stroke="#2e4a7c" stroke-width="0.8"/>
<line x1="473.3" y1="302" x2="477.7" y2="302" stroke="#2e4a7c" stroke-width="0.8"/>
<line x1="483.8" y1="284" x2="483.8" y2="299" stroke="#2e4a7c" stroke-width="0.8"/>
<line x1="481.6" y1="284" x2="486" y2="284" stroke="#2e4a7c" stroke-width="0.8"/>
<line x1="481.6" y1="299" x2="486" y2="299" stroke="#2e4a7c" stroke-width="0.8"/>
<line x1="377" y1="285" x2="377" y2="297" stroke="#66a745" stroke-width="0.8"/>
<line x1="374.8" y1="285" x2="379.2" y2="285" stroke="#66a745" stroke-width="0.8"/>
<line x1="374.8" y1="297" x2="379.2" y2="297" stroke="#66a745" stroke-width="0.8"/>
<line x1="416.5" y1="285" x2="416.5" y2="294" stroke="#66a745" stroke-width="0.8"/>
<line x1="414.3" y1="285" x2="418.7" y2="285" stroke="#66a745" stroke-width="0.8"/>
<line x1="414.3" y1="294" x2="418.7" y2="294" stroke="#66a745" stroke-width="0.8"/>
<line x1="420.8" y1="283.5" x2="420.8" y2="296" stroke="#66a745" stroke-width="0.8"/>
<line x1="418.6" y1="283.5" x2="423" y2="283.5" stroke="#66a745" stroke-width="0.8"/>
<line x1="418.6" y1="296" x2="423" y2="296" stroke="#66a745" stroke-width="0.8"/>
<line x1="434.6" y1="283.5" x2="434.6" y2="295" stroke="#66a745" stroke-width="0.8"/>
<line x1="432.4" y1="283.5" x2="436.8" y2="283.5" stroke="#66a745" stroke-width="0.8"/>
<line x1="432.4" y1="295" x2="436.8" y2="295" stroke="#66a745" stroke-width="0.8"/>
<line x1="441.5" y1="283.5" x2="441.5" y2="296" stroke="#66a745" stroke-width="0.8"/>
<line x1="439.3" y1="283.5" x2="443.7" y2="283.5" stroke="#66a745" stroke-width="0.8"/>
<line x1="439.3" y1="296" x2="443.7" y2="296" stroke="#66a745" stroke-width="0.8"/>
<line x1="449.2" y1="283" x2="449.2" y2="296" stroke="#66a745" stroke-width="0.8"/>
<line x1="447" y1="283" x2="451.4" y2="283" stroke="#66a745" stroke-width="0.8"/>
<line x1="447" y1="296" x2="451.4" y2="296" stroke="#66a745" stroke-width="0.8"/>
<line x1="458.8" y1="280" x2="458.8" y2="298" stroke="#66a745" stroke-width="0.8"/>
<line x1="456.6" y1="280" x2="461" y2="280" stroke="#66a745" stroke-width="0.8"/>
<line x1="456.6" y1="298" x2="461" y2="298" stroke="#66a745" stroke-width="0.8"/>
<line x1="468.5" y1="276.5" x2="468.5" y2="299" stroke="#66a745" stroke-width="0.8"/>
<line x1="466.3" y1="276.5" x2="470.7" y2="276.5" stroke="#66a745" stroke-width="0.8"/>
<line x1="466.3" y1="299" x2="470.7" y2="299" stroke="#66a745" stroke-width="0.8"/>
<line x1="475.5" y1="272" x2="475.5" y2="296" stroke="#66a745" stroke-width="0.8"/>
<line x1="473.3" y1="272" x2="477.7" y2="272" stroke="#66a745" stroke-width="0.8"/>
<line x1="473.3" y1="296" x2="477.7" y2="296" stroke="#66a745" stroke-width="0.8"/>
<line x1="483.8" y1="274" x2="483.8" y2="294.5" stroke="#66a745" stroke-width="0.8"/>
<line x1="481.6" y1="274" x2="486" y2="274" stroke="#66a745" stroke-width="0.8"/>
<line x1="481.6" y1="294.5" x2="486" y2="294.5" stroke="#66a745" stroke-width="0.8"/>
<path d="M351.1 298.5 L356.4 315.4 L361.2 307.3 L366.5 301.9 L370 297.5 L377.3 291.8 L380.3 292.5 L385.4 297.2 L390.8 297.9 L399.5 307.3 L404.2 302.6 L410.9 308 L415 307.7 L422 302 L427.2 300 L434.2 299.6 L441 299 L448.9 299.6 L459.3 294.3 L468.5 293.8 L475.5 293.4 L483.8 291.5" fill="none" stroke="#2e4a7c" stroke-width="1.1"/>
<path d="M351.1 294.9 L347.5 301.38 L354.7 301.38 Z" fill="#2e4a7c"/>
<path d="M356.4 311.8 L352.8 318.28 L360 318.28 Z" fill="#2e4a7c"/>
<path d="M361.2 303.7 L357.6 310.18 L364.8 310.18 Z" fill="#2e4a7c"/>
<path d="M366.5 298.3 L362.9 304.78 L370.1 304.78 Z" fill="#2e4a7c"/>
<path d="M370 293.9 L366.4 300.38 L373.6 300.38 Z" fill="#2e4a7c"/>
<path d="M377.3 288.2 L373.7 294.68 L380.9 294.68 Z" fill="#2e4a7c"/>
<path d="M380.3 288.9 L376.7 295.38 L383.9 295.38 Z" fill="#2e4a7c"/>
<path d="M385.4 293.6 L381.8 300.08 L389 300.08 Z" fill="#2e4a7c"/>
<path d="M390.8 294.3 L387.2 300.78 L394.4 300.78 Z" fill="#2e4a7c"/>
<path d="M399.5 303.7 L395.9 310.18 L403.1 310.18 Z" fill="#2e4a7c"/>
<path d="M404.2 299 L400.6 305.48 L407.8 305.48 Z" fill="#2e4a7c"/>
<path d="M410.9 304.4 L407.3 310.88 L414.5 310.88 Z" fill="#2e4a7c"/>
<path d="M415 304.1 L411.4 310.58 L418.6 310.58 Z" fill="#2e4a7c"/>
<path d="M422 298.4 L418.4 304.88 L425.6 304.88 Z" fill="#2e4a7c"/>
<path d="M427.2 296.4 L423.6 302.88 L430.8 302.88 Z" fill="#2e4a7c"/>
<path d="M434.2 296 L430.6 302.48 L437.8 302.48 Z" fill="#2e4a7c"/>
<path d="M441 295.4 L437.4 301.88 L444.6 301.88 Z" fill="#2e4a7c"/>
<path d="M448.9 296 L445.3 302.48 L452.5 302.48 Z" fill="#2e4a7c"/>
<path d="M459.3 290.7 L455.7 297.18 L462.9 297.18 Z" fill="#2e4a7c"/>
<path d="M468.5 290.2 L464.9 296.68 L472.1 296.68 Z" fill="#2e4a7c"/>
<path d="M475.5 289.8 L471.9 296.28 L479.1 296.28 Z" fill="#2e4a7c"/>
<path d="M483.8 287.9 L480.2 294.38 L487.4 294.38 Z" fill="#2e4a7c"/>
<path d="M351.1 297.9 L356.4 314.3 L359.1 299.2 L362.5 297 L365.9 295.2 L369 294.5 L374.6 291.8 L377 292.5 L384 293.8 L391.4 290.5 L399.5 296.5 L404.5 293.8 L411.6 289.8 L416.5 291 L420.8 289.2 L425.4 293.2 L434.6 289.2 L441.5 293.8 L449.2 292.2 L458.8 289.7 L468.5 287.6 L475.5 284.2 L483.8 284.2" fill="none" stroke="#66a745" stroke-width="1.1"/>
<circle cx="351.1" cy="297.9" r="3.5" fill="none" stroke="#66a745" stroke-width="1"/>
<circle cx="356.4" cy="314.3" r="3.5" fill="none" stroke="#66a745" stroke-width="1"/>
<circle cx="359.1" cy="299.2" r="3.5" fill="none" stroke="#66a745" stroke-width="1"/>
<circle cx="362.5" cy="297" r="3.5" fill="none" stroke="#66a745" stroke-width="1"/>
<circle cx="365.9" cy="295.2" r="3.5" fill="none" stroke="#66a745" stroke-width="1"/>
<circle cx="369" cy="294.5" r="3.5" fill="none" stroke="#66a745" stroke-width="1"/>
<circle cx="374.6" cy="291.8" r="3.5" fill="none" stroke="#66a745" stroke-width="1"/>
<circle cx="377" cy="292.5" r="3.5" fill="none" stroke="#66a745" stroke-width="1"/>
<circle cx="384" cy="293.8" r="3.5" fill="none" stroke="#66a745" stroke-width="1"/>
<circle cx="391.4" cy="290.5" r="3.5" fill="none" stroke="#66a745" stroke-width="1"/>
<circle cx="399.5" cy="296.5" r="3.5" fill="none" stroke="#66a745" stroke-width="1"/>
<circle cx="404.5" cy="293.8" r="3.5" fill="none" stroke="#66a745" stroke-width="1"/>
<circle cx="411.6" cy="289.8" r="3.5" fill="none" stroke="#66a745" stroke-width="1"/>
<circle cx="416.5" cy="291" r="3.5" fill="none" stroke="#66a745" stroke-width="1"/>
<circle cx="420.8" cy="289.2" r="3.5" fill="none" stroke="#66a745" stroke-width="1"/>
<circle cx="425.4" cy="293.2" r="3.5" fill="none" stroke="#66a745" stroke-width="1"/>
<circle cx="434.6" cy="289.2" r="3.5" fill="none" stroke="#66a745" stroke-width="1"/>
<circle cx="441.5" cy="293.8" r="3.5" fill="none" stroke="#66a745" stroke-width="1"/>
<circle cx="449.2" cy="292.2" r="3.5" fill="none" stroke="#66a745" stroke-width="1"/>
<circle cx="458.8" cy="289.7" r="3.5" fill="none" stroke="#66a745" stroke-width="1"/>
<circle cx="468.5" cy="287.6" r="3.5" fill="none" stroke="#66a745" stroke-width="1"/>
<circle cx="475.5" cy="284.2" r="3.5" fill="none" stroke="#66a745" stroke-width="1"/>
<circle cx="483.8" cy="284.2" r="3.5" fill="none" stroke="#66a745" stroke-width="1"/>
<path d="M351.1 297.9 L356.4 314.7 L359.5 322.1 L364.9 310.7 L369 303.9 L376.2 321.4 L379.7 325.5 L386 328.8 L391.4 332.9 L399.5 333.1 L404.5 327.8 L411.2 324.1 L416.2 320 L421.9 321.5 L426.5 322 L434.2 328.5 L440.8 319.2 L449.2 314.2 L459.3 314.6 L468.5 316.2 L475.5 314 L483.8 317.6" fill="none" stroke="#a5002f" stroke-width="1.1"/>
<circle cx="351.1" cy="297.9" r="3.4" fill="#a5002f"/>
<circle cx="356.4" cy="314.7" r="3.4" fill="#a5002f"/>
<circle cx="359.5" cy="322.1" r="3.4" fill="#a5002f"/>
<circle cx="364.9" cy="310.7" r="3.4" fill="#a5002f"/>
<circle cx="369" cy="303.9" r="3.4" fill="#a5002f"/>
<circle cx="376.2" cy="321.4" r="3.4" fill="#a5002f"/>
<circle cx="379.7" cy="325.5" r="3.4" fill="#a5002f"/>
<circle cx="386" cy="328.8" r="3.4" fill="#a5002f"/>
<circle cx="391.4" cy="332.9" r="3.4" fill="#a5002f"/>
<circle cx="399.5" cy="333.1" r="3.4" fill="#a5002f"/>
<circle cx="404.5" cy="327.8" r="3.4" fill="#a5002f"/>
<circle cx="411.2" cy="324.1" r="3.4" fill="#a5002f"/>
<circle cx="416.2" cy="320" r="3.4" fill="#a5002f"/>
<circle cx="421.9" cy="321.5" r="3.4" fill="#a5002f"/>
<circle cx="426.5" cy="322" r="3.4" fill="#a5002f"/>
<circle cx="434.2" cy="328.5" r="3.4" fill="#a5002f"/>
<circle cx="440.8" cy="319.2" r="3.4" fill="#a5002f"/>
<circle cx="449.2" cy="314.2" r="3.4" fill="#a5002f"/>
<circle cx="459.3" cy="314.6" r="3.4" fill="#a5002f"/>
<circle cx="468.5" cy="316.2" r="3.4" fill="#a5002f"/>
<circle cx="475.5" cy="314" r="3.4" fill="#a5002f"/>
<circle cx="483.8" cy="317.6" r="3.4" fill="#a5002f"/>
<text x="150.28" y="395.5" font-size="12.9" textLength="7.44" lengthAdjust="spacingAndGlyphs" font-weight="bold">E</text>
<line x1="184.4" y1="411" x2="184.4" y2="487.3" stroke="#000" stroke-width="1.2"/>
<line x1="183.8" y1="486.8" x2="298.5" y2="486.8" stroke="#000" stroke-width="1.2"/>
<line x1="181.8" y1="486.8" x2="184.4" y2="486.8" stroke="#000" stroke-width="1"/>
<text x="173.79" y="489.5" font-size="8.57" textLength="4.5" lengthAdjust="spacingAndGlyphs">0</text>
<line x1="181.8" y1="462.5" x2="184.4" y2="462.5" stroke="#000" stroke-width="1"/>
<text x="173.91" y="465.2" font-size="8.57" textLength="4.5" lengthAdjust="spacingAndGlyphs">2</text>
<line x1="181.8" y1="438.2" x2="184.4" y2="438.2" stroke="#000" stroke-width="1"/>
<text x="173.75" y="440.9" font-size="8.7" textLength="4.5" lengthAdjust="spacingAndGlyphs">4</text>
<line x1="181.8" y1="413.9" x2="184.4" y2="413.9" stroke="#000" stroke-width="1"/>
<text x="173.83" y="416.6" font-size="8.57" textLength="4.5" lengthAdjust="spacingAndGlyphs">6</text>
<line x1="184.4" y1="486.8" x2="184.4" y2="489.4" stroke="#000" stroke-width="1"/>
<text x="182.13" y="501.6" font-size="8.57" textLength="4.5" lengthAdjust="spacingAndGlyphs">0</text>
<line x1="206.5" y1="486.8" x2="206.5" y2="489.4" stroke="#000" stroke-width="1"/>
<text x="201.83" y="501.6" font-size="8.7" textLength="9" lengthAdjust="spacingAndGlyphs">14</text>
<line x1="228.6" y1="486.8" x2="228.6" y2="489.4" stroke="#000" stroke-width="1"/>
<text x="224.07" y="501.6" font-size="8.57" textLength="9" lengthAdjust="spacingAndGlyphs">28</text>
<line x1="250.7" y1="486.8" x2="250.7" y2="489.4" stroke="#000" stroke-width="1"/>
<text x="246.33" y="501.6" font-size="8.57" textLength="9" lengthAdjust="spacingAndGlyphs">42</text>
<line x1="272.8" y1="486.8" x2="272.8" y2="489.4" stroke="#000" stroke-width="1"/>
<text x="268.31" y="501.6" font-size="8.57" textLength="9" lengthAdjust="spacingAndGlyphs">56</text>
<line x1="294.9" y1="486.8" x2="294.9" y2="489.4" stroke="#000" stroke-width="1"/>
<text x="290.35" y="501.6" font-size="8.57" textLength="9" lengthAdjust="spacingAndGlyphs">70</text>
<text x="215.69" y="515.1" font-size="10.29" textLength="52.27" lengthAdjust="spacingAndGlyphs">Days post BMT</text>
<text x="168.3" y="472.4" font-size="10.48" textLength="47.37" lengthAdjust="spacingAndGlyphs" transform="rotate(-90 168.3 472.4)">Clinical score</text>
<text x="294.9" y="450.5" font-size="9.5" text-anchor="middle">*</text>
<line x1="195.45" y1="477.44" x2="195.45" y2="470.15" stroke="#2e4a7c" stroke-width="0.8"/>
<line x1="193.25" y1="477.44" x2="197.65" y2="477.44" stroke="#2e4a7c" stroke-width="0.8"/>
<line x1="193.25" y1="470.15" x2="197.65" y2="470.15" stroke="#2e4a7c" stroke-width="0.8"/>
<line x1="228.6" y1="473.44" x2="228.6" y2="461.29" stroke="#2e4a7c" stroke-width="0.8"/>
<line x1="226.4" y1="473.44" x2="230.8" y2="473.44" stroke="#2e4a7c" stroke-width="0.8"/>
<line x1="226.4" y1="461.29" x2="230.8" y2="461.29" stroke="#2e4a7c" stroke-width="0.8"/>
<line x1="239.65" y1="475.26" x2="239.65" y2="464.32" stroke="#2e4a7c" stroke-width="0.8"/>
<line x1="237.45" y1="475.26" x2="241.85" y2="475.26" stroke="#2e4a7c" stroke-width="0.8"/>
<line x1="237.45" y1="464.32" x2="241.85" y2="464.32" stroke="#2e4a7c" stroke-width="0.8"/>
<line x1="250.7" y1="474.04" x2="250.7" y2="463.11" stroke="#2e4a7c" stroke-width="0.8"/>
<line x1="248.5" y1="474.04" x2="252.9" y2="474.04" stroke="#2e4a7c" stroke-width="0.8"/>
<line x1="248.5" y1="463.11" x2="252.9" y2="463.11" stroke="#2e4a7c" stroke-width="0.8"/>
<line x1="261.75" y1="471.61" x2="261.75" y2="448.53" stroke="#2e4a7c" stroke-width="0.8"/>
<line x1="259.55" y1="471.61" x2="263.95" y2="471.61" stroke="#2e4a7c" stroke-width="0.8"/>
<line x1="259.55" y1="448.53" x2="263.95" y2="448.53" stroke="#2e4a7c" stroke-width="0.8"/>
<line x1="272.8" y1="471" x2="272.8" y2="445.49" stroke="#2e4a7c" stroke-width="0.8"/>
<line x1="270.6" y1="471" x2="275" y2="471" stroke="#2e4a7c" stroke-width="0.8"/>
<line x1="270.6" y1="445.49" x2="275" y2="445.49" stroke="#2e4a7c" stroke-width="0.8"/>
<line x1="283.85" y1="470.4" x2="283.85" y2="442.45" stroke="#2e4a7c" stroke-width="0.8"/>
<line x1="281.65" y1="470.4" x2="286.05" y2="470.4" stroke="#2e4a7c" stroke-width="0.8"/>
<line x1="281.65" y1="442.45" x2="286.05" y2="442.45" stroke="#2e4a7c" stroke-width="0.8"/>
<line x1="294.9" y1="479.15" x2="294.9" y2="452.42" stroke="#2e4a7c" stroke-width="0.8"/>
<line x1="292.7" y1="479.15" x2="297.1" y2="479.15" stroke="#2e4a7c" stroke-width="0.8"/>
<line x1="292.7" y1="452.42" x2="297.1" y2="452.42" stroke="#2e4a7c" stroke-width="0.8"/>
<line x1="195.45" y1="477.32" x2="195.45" y2="466.39" stroke="#a5002f" stroke-width="0.8"/>
<line x1="193.25" y1="477.32" x2="197.65" y2="477.32" stroke="#a5002f" stroke-width="0.8"/>
<line x1="193.25" y1="466.39" x2="197.65" y2="466.39" stroke="#a5002f" stroke-width="0.8"/>
<line x1="206.5" y1="477.32" x2="206.5" y2="466.39" stroke="#a5002f" stroke-width="0.8"/>
<line x1="204.3" y1="477.32" x2="208.7" y2="477.32" stroke="#a5002f" stroke-width="0.8"/>
<line x1="204.3" y1="466.39" x2="208.7" y2="466.39" stroke="#a5002f" stroke-width="0.8"/>
<line x1="217.55" y1="466.27" x2="217.55" y2="452.9" stroke="#a5002f" stroke-width="0.8"/>
<line x1="215.35" y1="466.27" x2="219.75" y2="466.27" stroke="#a5002f" stroke-width="0.8"/>
<line x1="215.35" y1="452.9" x2="219.75" y2="452.9" stroke="#a5002f" stroke-width="0.8"/>
<line x1="228.6" y1="452.42" x2="228.6" y2="440.27" stroke="#a5002f" stroke-width="0.8"/>
<line x1="226.4" y1="452.42" x2="230.8" y2="452.42" stroke="#a5002f" stroke-width="0.8"/>
<line x1="226.4" y1="440.27" x2="230.8" y2="440.27" stroke="#a5002f" stroke-width="0.8"/>
<line x1="239.65" y1="457.03" x2="239.65" y2="441.24" stroke="#a5002f" stroke-width="0.8"/>
<line x1="237.45" y1="457.03" x2="241.85" y2="457.03" stroke="#a5002f" stroke-width="0.8"/>
<line x1="237.45" y1="441.24" x2="241.85" y2="441.24" stroke="#a5002f" stroke-width="0.8"/>
<line x1="272.8" y1="438.81" x2="272.8" y2="430.3" stroke="#a5002f" stroke-width="0.8"/>
<line x1="270.6" y1="438.81" x2="275" y2="438.81" stroke="#a5002f" stroke-width="0.8"/>
<line x1="270.6" y1="430.3" x2="275" y2="430.3" stroke="#a5002f" stroke-width="0.8"/>
<line x1="294.9" y1="437.59" x2="294.9" y2="426.66" stroke="#a5002f" stroke-width="0.8"/>
<line x1="292.7" y1="437.59" x2="297.1" y2="437.59" stroke="#a5002f" stroke-width="0.8"/>
<line x1="292.7" y1="426.66" x2="297.1" y2="426.66" stroke="#a5002f" stroke-width="0.8"/>
<line x1="184.4" y1="486.8" x2="297.9" y2="486.8" stroke="#66a745" stroke-width="1.1"/>
<circle cx="195.45" cy="486.8" r="3.5" fill="#fff" stroke="#66a745" stroke-width="1"/>
<line x1="195.45" y1="486.8" x2="195.45" y2="489.4" stroke="#000" stroke-width="1"/>
<circle cx="206.5" cy="486.8" r="3.5" fill="#fff" stroke="#66a745" stroke-width="1"/>
<line x1="206.5" y1="486.8" x2="206.5" y2="489.4" stroke="#000" stroke-width="1"/>
<circle cx="217.55" cy="486.8" r="3.5" fill="#fff" stroke="#66a745" stroke-width="1"/>
<line x1="217.55" y1="486.8" x2="217.55" y2="489.4" stroke="#000" stroke-width="1"/>
<circle cx="228.6" cy="486.8" r="3.5" fill="#fff" stroke="#66a745" stroke-width="1"/>
<line x1="228.6" y1="486.8" x2="228.6" y2="489.4" stroke="#000" stroke-width="1"/>
<circle cx="239.65" cy="486.8" r="3.5" fill="#fff" stroke="#66a745" stroke-width="1"/>
<line x1="239.65" y1="486.8" x2="239.65" y2="489.4" stroke="#000" stroke-width="1"/>
<circle cx="250.7" cy="486.8" r="3.5" fill="#fff" stroke="#66a745" stroke-width="1"/>
<line x1="250.7" y1="486.8" x2="250.7" y2="489.4" stroke="#000" stroke-width="1"/>
<circle cx="261.75" cy="486.8" r="3.5" fill="#fff" stroke="#66a745" stroke-width="1"/>
<line x1="261.75" y1="486.8" x2="261.75" y2="489.4" stroke="#000" stroke-width="1"/>
<circle cx="272.8" cy="486.8" r="3.5" fill="#fff" stroke="#66a745" stroke-width="1"/>
<line x1="272.8" y1="486.8" x2="272.8" y2="489.4" stroke="#000" stroke-width="1"/>
<circle cx="283.85" cy="486.8" r="3.5" fill="#fff" stroke="#66a745" stroke-width="1"/>
<line x1="283.85" y1="486.8" x2="283.85" y2="489.4" stroke="#000" stroke-width="1"/>
<circle cx="294.9" cy="486.8" r="3.5" fill="#fff" stroke="#66a745" stroke-width="1"/>
<line x1="294.9" y1="486.8" x2="294.9" y2="489.4" stroke="#000" stroke-width="1"/>
<line x1="183.8" y1="486.8" x2="298.5" y2="486.8" stroke="#000" stroke-width="1"/>
<path d="M184.4 486.8 L195.45 473.8 L206.5 483.76 L217.55 480.12 L228.6 467.36 L239.65 469.79 L250.7 468.57 L261.75 460.07 L272.8 458.25 L283.85 456.43 L294.9 465.78" fill="none" stroke="#2e4a7c" stroke-width="1.1"/>
<path d="M184.4 486.8 L195.45 471.86 L206.5 471.86 L217.55 459.58 L228.6 446.34 L239.65 449.13 L250.7 438.2 L261.75 438.2 L272.8 434.56 L283.85 438.2 L294.9 432.12" fill="none" stroke="#a5002f" stroke-width="1.1"/>
<circle cx="184.4" cy="486.8" r="3.2" fill="#a5002f"/>
<path d="M184.4 483.1 L180.7 489.76 L188.1 489.76 Z" fill="#2e4a7c"/>
<path d="M195.45 470.1 L191.75 476.76 L199.15 476.76 Z" fill="#2e4a7c"/>
<path d="M206.5 480.06 L202.8 486.72 L210.2 486.72 Z" fill="#2e4a7c"/>
<path d="M217.55 476.42 L213.85 483.08 L221.25 483.08 Z" fill="#2e4a7c"/>
<path d="M228.6 463.66 L224.9 470.32 L232.3 470.32 Z" fill="#2e4a7c"/>
<path d="M239.65 466.09 L235.95 472.75 L243.35 472.75 Z" fill="#2e4a7c"/>
<path d="M250.7 464.88 L247 471.53 L254.4 471.53 Z" fill="#2e4a7c"/>
<path d="M261.75 456.37 L258.05 463.03 L265.45 463.03 Z" fill="#2e4a7c"/>
<path d="M272.8 454.55 L269.1 461.21 L276.5 461.21 Z" fill="#2e4a7c"/>
<path d="M283.85 452.73 L280.15 459.38 L287.55 459.38 Z" fill="#2e4a7c"/>
<path d="M294.9 462.08 L291.2 468.74 L298.6 468.74 Z" fill="#2e4a7c"/>
<circle cx="195.45" cy="471.86" r="3.5" fill="#a5002f"/>
<circle cx="206.5" cy="471.86" r="3.5" fill="#a5002f"/>
<circle cx="217.55" cy="459.58" r="3.5" fill="#a5002f"/>
<circle cx="228.6" cy="446.34" r="3.5" fill="#a5002f"/>
<circle cx="239.65" cy="449.13" r="3.5" fill="#a5002f"/>
<circle cx="250.7" cy="438.2" r="3.5" fill="#a5002f"/>
<circle cx="261.75" cy="438.2" r="3.5" fill="#a5002f"/>
<circle cx="272.8" cy="434.56" r="3.5" fill="#a5002f"/>
<circle cx="283.85" cy="438.2" r="3.5" fill="#a5002f"/>
<circle cx="294.9" cy="432.12" r="3.5" fill="#a5002f"/>
<line x1="185.3" y1="526.8" x2="200.7" y2="526.8" stroke="#66a745" stroke-width="1.1"/>
<circle cx="193" cy="526.8" r="3.9" fill="#fff" stroke="#66a745" stroke-width="1.1"/>
<text x="203.28" y="530" font-size="8.7" textLength="13.48" lengthAdjust="spacingAndGlyphs">BM</text>
<line x1="220.3" y1="526.8" x2="235.6" y2="526.8" stroke="#a5002f" stroke-width="1.1"/>
<circle cx="227.6" cy="526.8" r="3.7" fill="#a5002f"/>
<text x="238.36" y="530" font-size="8.7" textLength="12.7" lengthAdjust="spacingAndGlyphs">WT</text>
<line x1="253" y1="526.8" x2="270.3" y2="526.8" stroke="#2e4a7c" stroke-width="1.1"/>
<path d="M262.2 522.6 L258 530.16 L266.4 530.16 Z" fill="#2e4a7c"/>
<text x="272.15" y="530" font-size="8.28" textLength="18.8" lengthAdjust="spacingAndGlyphs">Sirt-1</text>
<text x="291.48" y="525.4" font-size="5.2" textLength="6.62" lengthAdjust="spacingAndGlyphs">-/-</text>
<text x="318.46" y="395.5" font-size="12.9" textLength="6.95" lengthAdjust="spacingAndGlyphs" font-weight="bold">F</text>
<line x1="367.6" y1="480.44" x2="367.6" y2="479.47" stroke="#111" stroke-width="0.8"/>
<line x1="365.8" y1="479.47" x2="369.4" y2="479.47" stroke="#111" stroke-width="0.8"/>
<rect x="363.5" y="480.44" width="8.2" height="6.46" fill="#a5002f"/>
<line x1="375.8" y1="480.44" x2="375.8" y2="480.12" stroke="#111" stroke-width="0.8"/>
<line x1="374" y1="480.12" x2="377.6" y2="480.12" stroke="#111" stroke-width="0.8"/>
<rect x="371.7" y="480.44" width="8.2" height="6.46" fill="#2e4a7c"/>
<line x1="391.2" y1="477.86" x2="391.2" y2="469.78" stroke="#111" stroke-width="0.8"/>
<line x1="389.4" y1="469.78" x2="393" y2="469.78" stroke="#111" stroke-width="0.8"/>
<rect x="387.1" y="477.86" width="8.2" height="9.04" fill="#66a745"/>
<line x1="399.4" y1="456.54" x2="399.4" y2="452.99" stroke="#111" stroke-width="0.8"/>
<line x1="397.6" y1="452.99" x2="401.2" y2="452.99" stroke="#111" stroke-width="0.8"/>
<rect x="395.3" y="456.54" width="8.2" height="30.36" fill="#a5002f"/>
<line x1="407.6" y1="464.29" x2="407.6" y2="462.35" stroke="#111" stroke-width="0.8"/>
<line x1="405.8" y1="462.35" x2="409.4" y2="462.35" stroke="#111" stroke-width="0.8"/>
<rect x="403.5" y="464.29" width="8.2" height="22.61" fill="#2e4a7c"/>
<line x1="423.3" y1="484.15" x2="423.3" y2="482.05" stroke="#111" stroke-width="0.8"/>
<line x1="421.5" y1="482.05" x2="425.1" y2="482.05" stroke="#111" stroke-width="0.8"/>
<rect x="419.2" y="484.15" width="8.2" height="2.75" fill="#66a745"/>
<line x1="431.5" y1="421.65" x2="431.5" y2="415.52" stroke="#111" stroke-width="0.8"/>
<line x1="429.7" y1="415.52" x2="433.3" y2="415.52" stroke="#111" stroke-width="0.8"/>
<rect x="427.4" y="421.65" width="8.2" height="65.25" fill="#a5002f"/>
<line x1="439.7" y1="448.14" x2="439.7" y2="443.94" stroke="#111" stroke-width="0.8"/>
<line x1="437.9" y1="443.94" x2="441.5" y2="443.94" stroke="#111" stroke-width="0.8"/>
<rect x="435.6" y="448.14" width="8.2" height="38.76" fill="#2e4a7c"/>
<line x1="455.4" y1="482.38" x2="455.4" y2="479.79" stroke="#111" stroke-width="0.8"/>
<line x1="453.6" y1="479.79" x2="457.2" y2="479.79" stroke="#111" stroke-width="0.8"/>
<rect x="451.3" y="482.38" width="8.2" height="4.52" fill="#66a745"/>
<line x1="463.6" y1="453.63" x2="463.6" y2="452.02" stroke="#111" stroke-width="0.8"/>
<line x1="461.8" y1="452.02" x2="465.4" y2="452.02" stroke="#111" stroke-width="0.8"/>
<rect x="459.5" y="453.63" width="8.2" height="33.27" fill="#a5002f"/>
<line x1="471.8" y1="463" x2="471.8" y2="459.77" stroke="#111" stroke-width="0.8"/>
<line x1="470" y1="459.77" x2="473.6" y2="459.77" stroke="#111" stroke-width="0.8"/>
<rect x="467.7" y="463" width="8.2" height="23.9" fill="#2e4a7c"/>
<line x1="487.5" y1="483.35" x2="487.5" y2="480.44" stroke="#111" stroke-width="0.8"/>
<line x1="485.7" y1="480.44" x2="489.3" y2="480.44" stroke="#111" stroke-width="0.8"/>
<rect x="483.4" y="483.35" width="8.2" height="3.55" fill="#66a745"/>
<line x1="495.7" y1="442.97" x2="495.7" y2="440.06" stroke="#111" stroke-width="0.8"/>
<line x1="493.9" y1="440.06" x2="497.5" y2="440.06" stroke="#111" stroke-width="0.8"/>
<rect x="491.6" y="442.97" width="8.2" height="43.93" fill="#a5002f"/>
<line x1="503.9" y1="460.09" x2="503.9" y2="455.25" stroke="#111" stroke-width="0.8"/>
<line x1="502.1" y1="455.25" x2="505.7" y2="455.25" stroke="#111" stroke-width="0.8"/>
<rect x="499.8" y="460.09" width="8.2" height="26.81" fill="#2e4a7c"/>
<line x1="351.4" y1="403.7" x2="351.4" y2="487.4" stroke="#000" stroke-width="1.2"/>
<line x1="350.8" y1="486.9" x2="512.3" y2="486.9" stroke="#000" stroke-width="1.2"/>
<line x1="348.8" y1="486.9" x2="351.4" y2="486.9" stroke="#000" stroke-width="1"/>
<text x="340.79" y="489.6" font-size="8.57" textLength="4.5" lengthAdjust="spacingAndGlyphs">0</text>
<line x1="348.8" y1="470.75" x2="351.4" y2="470.75" stroke="#000" stroke-width="1"/>
<text x="340.83" y="473.45" font-size="8.7" textLength="4.5" lengthAdjust="spacingAndGlyphs">5</text>
<line x1="348.8" y1="454.6" x2="351.4" y2="454.6" stroke="#000" stroke-width="1"/>
<text x="336.3" y="457.3" font-size="8.57" textLength="9" lengthAdjust="spacingAndGlyphs">10</text>
<line x1="348.8" y1="438.45" x2="351.4" y2="438.45" stroke="#000" stroke-width="1"/>
<text x="336.34" y="441.15" font-size="8.7" textLength="9" lengthAdjust="spacingAndGlyphs">15</text>
<line x1="348.8" y1="422.3" x2="351.4" y2="422.3" stroke="#000" stroke-width="1"/>
<text x="336.3" y="425" font-size="8.57" textLength="9" lengthAdjust="spacingAndGlyphs">20</text>
<line x1="348.8" y1="406.15" x2="351.4" y2="406.15" stroke="#000" stroke-width="1"/>
<text x="336.34" y="408.85" font-size="8.57" textLength="9" lengthAdjust="spacingAndGlyphs">25</text>
<line x1="367.6" y1="486.9" x2="367.6" y2="489.5" stroke="#000" stroke-width="1"/>
<line x1="399.4" y1="486.9" x2="399.4" y2="489.5" stroke="#000" stroke-width="1"/>
<line x1="431.5" y1="486.9" x2="431.5" y2="489.5" stroke="#000" stroke-width="1"/>
<line x1="463.6" y1="486.9" x2="463.6" y2="489.5" stroke="#000" stroke-width="1"/>
<line x1="495.7" y1="486.9" x2="495.7" y2="489.5" stroke="#000" stroke-width="1"/>
<text x="330.4" y="481.65" font-size="10.6" textLength="70.95" lengthAdjust="spacingAndGlyphs" transform="rotate(-90 330.4 481.65)">Pathological scores</text>
<text x="359.21" y="501" font-size="9.1" textLength="16.96" lengthAdjust="spacingAndGlyphs">Skin</text>
<text x="389.69" y="501" font-size="9.57" textLength="19.68" lengthAdjust="spacingAndGlyphs">Lung</text>
<text x="421.29" y="501" font-size="9.1" textLength="19.37" lengthAdjust="spacingAndGlyphs">Liver</text>
<text x="459.17" y="501" font-size="9.43" textLength="9.04" lengthAdjust="spacingAndGlyphs">SI</text>
<text x="491.15" y="501" font-size="9.57" textLength="8.85" lengthAdjust="spacingAndGlyphs">LI</text>
<path d="M431.2 413.8 L431.2 409.6 L439.6 409.6 L439.6 413.8" fill="none" stroke="#111" stroke-width="0.9"/>
<text x="435.4" y="408.5" font-size="9" text-anchor="middle">**</text>
<path d="M463.3 450.4 L463.3 446.2 L471.5 446.2 L471.5 450.4" fill="none" stroke="#111" stroke-width="0.9"/>
<text x="467.1" y="445.2" font-size="9" text-anchor="middle">*</text>
<path d="M495.4 438.5 L495.4 434.6 L503.7 434.6 L503.7 438.5" fill="none" stroke="#111" stroke-width="0.9"/>
<text x="499.4" y="433.6" font-size="9" text-anchor="middle">*</text>
<rect x="378.3" y="525.5" width="13.7" height="6.8" fill="#66a745"/>
<text x="395.14" y="531.6" font-size="7.97" textLength="12.36" lengthAdjust="spacingAndGlyphs">BM</text>
<rect x="410.8" y="525.5" width="13.7" height="6.8" fill="#a5002f"/>
<text x="428.06" y="531.6" font-size="7.97" textLength="12.9" lengthAdjust="spacingAndGlyphs">WT</text>
<rect x="443.8" y="525.5" width="13.7" height="6.8" fill="#2e4a7c"/>
<text x="460.02" y="531.6" font-size="7.59" textLength="20.36" lengthAdjust="spacingAndGlyphs">Sirt-1</text>
<text x="480.43" y="527.2" font-size="5.2" textLength="5.63" lengthAdjust="spacingAndGlyphs">-/-</text>
<text x="7.91" y="546.9" font-size="13.2" textLength="9.56" lengthAdjust="spacingAndGlyphs" font-weight="bold">G</text>
<text x="71.37" y="563.8" font-size="9.13" textLength="13.6" lengthAdjust="spacingAndGlyphs">BM</text>
<text x="140.26" y="564.2" font-size="8.99" textLength="13.92" lengthAdjust="spacingAndGlyphs">WT</text>
<text x="207.61" y="564.2" font-size="8.55" textLength="20.78" lengthAdjust="spacingAndGlyphs">Sirt-1</text>
<text x="228.4" y="560" font-size="5.2" textLength="6.29" lengthAdjust="spacingAndGlyphs">-/-</text>
<text x="23.11" y="601.8" font-size="8.69" textLength="18.74" lengthAdjust="spacingAndGlyphs">Liver</text>
<text x="19.5" y="650" font-size="9.3" textLength="22.42" lengthAdjust="spacingAndGlyphs">Large</text>
<text x="8.2" y="660.4" font-size="9.1" textLength="33.71" lengthAdjust="spacingAndGlyphs">Intestine</text>
<rect x="44.8" y="568.8" width="209.8" height="111" fill="#2e2e30"/>
<clipPath id="cp0"><rect x="45.8" y="569.8" width="68.2" height="54"/></clipPath>
<clipPath id="cp1"><rect x="115.4" y="569.8" width="68.3" height="54"/></clipPath>
<clipPath id="cp2"><rect x="185.2" y="569.8" width="68.6" height="54"/></clipPath>
<clipPath id="cp3"><rect x="45.8" y="625.4" width="68.2" height="53.8"/></clipPath>
<clipPath id="cp4"><rect x="115.4" y="625.4" width="68.3" height="53.8"/></clipPath>
<clipPath id="cp5"><rect x="185.2" y="625.4" width="68.6" height="53.8"/></clipPath>
<g clip-path="url(#cp0)"><g filter="url(#tex0)">
<rect x="45.8" y="569.8" width="68.2" height="54" fill="#df9cd3"/>
<circle cx="76.65" cy="600.03" r="0.87" fill="#a458b8" opacity="0.3"/>
<circle cx="77.56" cy="597.22" r="0.76" fill="#a458b8" opacity="0.3"/>
<circle cx="58.39" cy="597.44" r="0.77" fill="#a458b8" opacity="0.3"/>
<circle cx="99.88" cy="574.88" r="0.66" fill="#a458b8" opacity="0.3"/>
<circle cx="51.98" cy="613.52" r="0.79" fill="#a458b8" opacity="0.3"/>
<circle cx="48.66" cy="622.84" r="0.89" fill="#a458b8" opacity="0.3"/>
<circle cx="90.4" cy="603.04" r="0.61" fill="#a458b8" opacity="0.3"/>
<circle cx="46.82" cy="598.33" r="0.57" fill="#a458b8" opacity="0.3"/>
<circle cx="58.77" cy="582.86" r="0.56" fill="#a458b8" opacity="0.3"/>
<circle cx="77.44" cy="593.59" r="0.84" fill="#a458b8" opacity="0.3"/>
<circle cx="81.2" cy="604.38" r="0.72" fill="#a458b8" opacity="0.3"/>
<circle cx="90.98" cy="594.5" r="0.65" fill="#a458b8" opacity="0.3"/>
<circle cx="113.84" cy="623.57" r="0.84" fill="#a458b8" opacity="0.3"/>
<circle cx="94.07" cy="586.82" r="0.63" fill="#a458b8" opacity="0.3"/>
<circle cx="65.51" cy="573.59" r="0.82" fill="#a458b8" opacity="0.3"/>
<circle cx="73.11" cy="615.52" r="0.69" fill="#a458b8" opacity="0.3"/>
<circle cx="111.14" cy="615.55" r="0.55" fill="#a458b8" opacity="0.3"/>
<circle cx="60.1" cy="618.95" r="0.71" fill="#a458b8" opacity="0.3"/>
<circle cx="112.66" cy="591.26" r="0.58" fill="#a458b8" opacity="0.3"/>
<circle cx="88.73" cy="611.84" r="0.64" fill="#a458b8" opacity="0.3"/>
<circle cx="51.74" cy="587.76" r="0.89" fill="#a458b8" opacity="0.3"/>
<circle cx="97.5" cy="576.17" r="0.64" fill="#a458b8" opacity="0.3"/>
<circle cx="52.69" cy="573.03" r="0.83" fill="#a458b8" opacity="0.3"/>
<circle cx="57.92" cy="600" r="0.71" fill="#a458b8" opacity="0.3"/>
<circle cx="58.8" cy="609.32" r="0.6" fill="#a458b8" opacity="0.3"/>
<circle cx="89.7" cy="576.09" r="0.7" fill="#a458b8" opacity="0.3"/>
<circle cx="60.32" cy="584.37" r="0.89" fill="#a458b8" opacity="0.3"/>
<circle cx="100.59" cy="586.22" r="0.86" fill="#a458b8" opacity="0.3"/>
<circle cx="60.17" cy="591.09" r="0.85" fill="#a458b8" opacity="0.3"/>
<circle cx="89.57" cy="575.22" r="0.9" fill="#a458b8" opacity="0.3"/>
<circle cx="60.34" cy="583.75" r="0.82" fill="#a458b8" opacity="0.3"/>
<circle cx="68.23" cy="585.8" r="0.58" fill="#a458b8" opacity="0.3"/>
<circle cx="51.95" cy="601.27" r="0.64" fill="#a458b8" opacity="0.3"/>
<circle cx="86.81" cy="589.87" r="0.71" fill="#a458b8" opacity="0.3"/>
<circle cx="111.21" cy="595.92" r="0.75" fill="#a458b8" opacity="0.3"/>
<circle cx="104.9" cy="579.67" r="0.6" fill="#a458b8" opacity="0.3"/>
<circle cx="107.75" cy="613.96" r="0.64" fill="#a458b8" opacity="0.3"/>
<circle cx="58.74" cy="609.73" r="0.88" fill="#a458b8" opacity="0.3"/>
<circle cx="59.21" cy="621.11" r="0.86" fill="#a458b8" opacity="0.3"/>
<circle cx="86.96" cy="592.56" r="0.59" fill="#a458b8" opacity="0.3"/>
<circle cx="48.44" cy="621.78" r="0.63" fill="#a458b8" opacity="0.3"/>
<circle cx="93.85" cy="583.68" r="0.84" fill="#a458b8" opacity="0.3"/>
<circle cx="86.48" cy="585.65" r="0.61" fill="#a458b8" opacity="0.3"/>
<circle cx="94.93" cy="573.51" r="0.63" fill="#a458b8" opacity="0.3"/>
<circle cx="83.95" cy="615.83" r="0.77" fill="#a458b8" opacity="0.3"/>
<circle cx="64.91" cy="619.34" r="0.62" fill="#a458b8" opacity="0.3"/>
<circle cx="46.93" cy="584.34" r="0.71" fill="#a458b8" opacity="0.3"/>
<circle cx="49.92" cy="579.32" r="0.68" fill="#a458b8" opacity="0.3"/>
<circle cx="84.82" cy="576.91" r="0.68" fill="#a458b8" opacity="0.3"/>
<circle cx="106.56" cy="622.75" r="0.78" fill="#a458b8" opacity="0.3"/>
<circle cx="92.94" cy="601.36" r="0.6" fill="#a458b8" opacity="0.3"/>
<circle cx="48.19" cy="570.77" r="0.87" fill="#a458b8" opacity="0.3"/>
<circle cx="93.61" cy="621.79" r="0.56" fill="#a458b8" opacity="0.3"/>
<circle cx="89.19" cy="595.84" r="0.81" fill="#a458b8" opacity="0.3"/>
<circle cx="67.55" cy="623.77" r="0.58" fill="#a458b8" opacity="0.3"/>
<circle cx="83.04" cy="609.6" r="0.87" fill="#a458b8" opacity="0.3"/>
<circle cx="96.07" cy="607.8" r="0.83" fill="#a458b8" opacity="0.3"/>
<circle cx="108.2" cy="588.8" r="0.79" fill="#a458b8" opacity="0.3"/>
<circle cx="107.24" cy="616.84" r="0.7" fill="#a458b8" opacity="0.3"/>
<circle cx="99.71" cy="616.43" r="0.75" fill="#a458b8" opacity="0.3"/>
<circle cx="88.42" cy="590.45" r="0.75" fill="#a458b8" opacity="0.3"/>
<circle cx="87.32" cy="574.13" r="0.77" fill="#a458b8" opacity="0.3"/>
<circle cx="113.54" cy="617.31" r="0.8" fill="#a458b8" opacity="0.3"/>
<circle cx="72.29" cy="609.49" r="0.75" fill="#a458b8" opacity="0.3"/>
<circle cx="75.84" cy="615.07" r="0.58" fill="#a458b8" opacity="0.3"/>
<circle cx="96.96" cy="571.41" r="0.76" fill="#a458b8" opacity="0.3"/>
<circle cx="78.6" cy="582.23" r="0.79" fill="#a458b8" opacity="0.3"/>
<circle cx="79.71" cy="602.98" r="0.87" fill="#a458b8" opacity="0.3"/>
<circle cx="63.25" cy="570.41" r="0.66" fill="#a458b8" opacity="0.3"/>
<circle cx="92.05" cy="580.74" r="0.61" fill="#a458b8" opacity="0.3"/>
<circle cx="107.57" cy="605.44" r="0.7" fill="#a458b8" opacity="0.3"/>
<circle cx="106.62" cy="587.46" r="0.78" fill="#a458b8" opacity="0.3"/>
<circle cx="59.34" cy="593.07" r="0.83" fill="#a458b8" opacity="0.3"/>
<circle cx="108.15" cy="617.33" r="0.68" fill="#a458b8" opacity="0.3"/>
<circle cx="85.57" cy="586.89" r="0.6" fill="#a458b8" opacity="0.3"/>
<circle cx="79.66" cy="615" r="0.85" fill="#a458b8" opacity="0.3"/>
<circle cx="94.31" cy="621.1" r="0.65" fill="#a458b8" opacity="0.3"/>
<circle cx="57.33" cy="594.14" r="0.65" fill="#a458b8" opacity="0.3"/>
<circle cx="60.4" cy="592.16" r="0.77" fill="#a458b8" opacity="0.3"/>
<circle cx="79.48" cy="586.83" r="0.84" fill="#a458b8" opacity="0.3"/>
<circle cx="112.77" cy="594.23" r="0.58" fill="#a458b8" opacity="0.3"/>
<circle cx="47.95" cy="616.93" r="0.56" fill="#a458b8" opacity="0.3"/>
<circle cx="94.13" cy="600.61" r="0.66" fill="#a458b8" opacity="0.3"/>
<circle cx="99.78" cy="570.83" r="0.6" fill="#a458b8" opacity="0.3"/>
<circle cx="76.82" cy="571.14" r="0.84" fill="#a458b8" opacity="0.3"/>
<circle cx="61.99" cy="577.41" r="0.57" fill="#a458b8" opacity="0.3"/>
<circle cx="88.71" cy="593.91" r="0.77" fill="#a458b8" opacity="0.3"/>
<circle cx="90.47" cy="613.4" r="0.89" fill="#a458b8" opacity="0.3"/>
<circle cx="92.48" cy="580.56" r="0.72" fill="#a458b8" opacity="0.3"/>
<circle cx="57.99" cy="570.38" r="0.72" fill="#a458b8" opacity="0.3"/>
<circle cx="94.51" cy="579.47" r="0.65" fill="#a458b8" opacity="0.3"/>
<circle cx="69.38" cy="607.45" r="0.73" fill="#a458b8" opacity="0.3"/>
<circle cx="87.71" cy="610.64" r="0.69" fill="#a458b8" opacity="0.3"/>
<circle cx="99.81" cy="618.74" r="0.58" fill="#a458b8" opacity="0.3"/>
<circle cx="109.4" cy="608.81" r="0.6" fill="#a458b8" opacity="0.3"/>
<circle cx="76.73" cy="603.58" r="0.87" fill="#a458b8" opacity="0.3"/>
<circle cx="71.5" cy="600.52" r="0.86" fill="#a458b8" opacity="0.3"/>
<circle cx="100.14" cy="620.79" r="0.71" fill="#a458b8" opacity="0.3"/>
<circle cx="90.22" cy="580.86" r="0.8" fill="#a458b8" opacity="0.3"/>
<circle cx="101.61" cy="604.45" r="0.8" fill="#a458b8" opacity="0.3"/>
<circle cx="60.35" cy="618.4" r="0.89" fill="#a458b8" opacity="0.3"/>
<circle cx="112.46" cy="598.8" r="0.83" fill="#a458b8" opacity="0.3"/>
<circle cx="67.65" cy="618.94" r="0.85" fill="#a458b8" opacity="0.3"/>
<circle cx="69.57" cy="574.27" r="0.7" fill="#a458b8" opacity="0.3"/>
<circle cx="83.33" cy="611.28" r="0.72" fill="#a458b8" opacity="0.3"/>
<circle cx="47.74" cy="613.49" r="0.57" fill="#a458b8" opacity="0.3"/>
<circle cx="100.35" cy="579.14" r="0.67" fill="#a458b8" opacity="0.3"/>
<circle cx="99.54" cy="577.39" r="0.6" fill="#a458b8" opacity="0.3"/>
<circle cx="81.03" cy="608.87" r="0.84" fill="#a458b8" opacity="0.3"/>
<circle cx="92.82" cy="620.87" r="0.72" fill="#a458b8" opacity="0.3"/>
<circle cx="110.53" cy="574.45" r="0.63" fill="#a458b8" opacity="0.3"/>
<circle cx="81.72" cy="585.47" r="0.81" fill="#a458b8" opacity="0.3"/>
<circle cx="89.37" cy="598.03" r="0.85" fill="#a458b8" opacity="0.3"/>
<circle cx="83.99" cy="586.63" r="0.68" fill="#a458b8" opacity="0.3"/>
<circle cx="103.45" cy="618.43" r="0.62" fill="#a458b8" opacity="0.3"/>
<circle cx="103.82" cy="622.1" r="0.73" fill="#a458b8" opacity="0.3"/>
<circle cx="84.88" cy="580.65" r="0.74" fill="#a458b8" opacity="0.3"/>
<circle cx="80.12" cy="602.48" r="0.56" fill="#a458b8" opacity="0.3"/>
<circle cx="111.91" cy="597.66" r="0.69" fill="#a458b8" opacity="0.3"/>
<circle cx="100.43" cy="600.19" r="0.72" fill="#a458b8" opacity="0.3"/>
<circle cx="92.93" cy="573.36" r="0.74" fill="#a458b8" opacity="0.3"/>
<circle cx="74.02" cy="621.47" r="0.87" fill="#a458b8" opacity="0.3"/>
<circle cx="64.16" cy="595.35" r="0.59" fill="#a458b8" opacity="0.3"/>
<circle cx="75.38" cy="613.85" r="0.87" fill="#a458b8" opacity="0.3"/>
<circle cx="78.3" cy="586.93" r="0.62" fill="#a458b8" opacity="0.3"/>
<circle cx="87.94" cy="619.76" r="0.6" fill="#a458b8" opacity="0.3"/>
<circle cx="98.95" cy="571.03" r="0.62" fill="#a458b8" opacity="0.3"/>
<circle cx="61.3" cy="606.9" r="0.66" fill="#a458b8" opacity="0.3"/>
<circle cx="70.03" cy="603.27" r="0.59" fill="#a458b8" opacity="0.3"/>
<circle cx="95.65" cy="576.43" r="0.73" fill="#a458b8" opacity="0.3"/>
<circle cx="62.89" cy="580.48" r="0.74" fill="#a458b8" opacity="0.3"/>
<circle cx="75.59" cy="590.09" r="0.69" fill="#a458b8" opacity="0.3"/>
<circle cx="81.9" cy="578.43" r="0.62" fill="#a458b8" opacity="0.3"/>
<circle cx="88.86" cy="604.28" r="0.74" fill="#a458b8" opacity="0.3"/>
<circle cx="103.86" cy="602.83" r="0.85" fill="#a458b8" opacity="0.3"/>
<circle cx="61.67" cy="609.8" r="0.83" fill="#a458b8" opacity="0.3"/>
<circle cx="107.36" cy="586.86" r="0.66" fill="#a458b8" opacity="0.3"/>
<circle cx="108.73" cy="581.58" r="0.9" fill="#a458b8" opacity="0.3"/>
<circle cx="106.33" cy="577.03" r="0.63" fill="#a458b8" opacity="0.3"/>
<circle cx="95.35" cy="583.81" r="0.58" fill="#a458b8" opacity="0.3"/>
<circle cx="102.55" cy="592.57" r="0.99" fill="#f4b8e4" opacity="0.6"/>
<circle cx="54.39" cy="591.55" r="0.94" fill="#f4b8e4" opacity="0.6"/>
<circle cx="47.01" cy="580.65" r="0.94" fill="#f4b8e4" opacity="0.6"/>
<circle cx="107.96" cy="622.09" r="0.66" fill="#f4b8e4" opacity="0.6"/>
<circle cx="80.29" cy="610.74" r="0.85" fill="#f4b8e4" opacity="0.6"/>
<circle cx="92.56" cy="580.01" r="0.64" fill="#f4b8e4" opacity="0.6"/>
<circle cx="53.04" cy="571.82" r="0.88" fill="#f4b8e4" opacity="0.6"/>
<circle cx="80.91" cy="600.51" r="0.67" fill="#f4b8e4" opacity="0.6"/>
<circle cx="58.39" cy="580.81" r="1.02" fill="#f4b8e4" opacity="0.6"/>
<circle cx="113.34" cy="619.85" r="0.65" fill="#f4b8e4" opacity="0.6"/>
<circle cx="50.02" cy="621.18" r="0.83" fill="#f4b8e4" opacity="0.6"/>
<circle cx="97.95" cy="587.45" r="0.83" fill="#f4b8e4" opacity="0.6"/>
<circle cx="80.94" cy="593.02" r="0.9" fill="#f4b8e4" opacity="0.6"/>
<circle cx="46.7" cy="607.66" r="1.02" fill="#f4b8e4" opacity="0.6"/>
<circle cx="58.16" cy="594.31" r="0.97" fill="#f4b8e4" opacity="0.6"/>
<circle cx="73.44" cy="580.34" r="0.68" fill="#f4b8e4" opacity="0.6"/>
<circle cx="80.76" cy="570.63" r="1.05" fill="#f4b8e4" opacity="0.6"/>
<circle cx="100.48" cy="607.85" r="1.03" fill="#f4b8e4" opacity="0.6"/>
<circle cx="88.72" cy="591.64" r="0.9" fill="#f4b8e4" opacity="0.6"/>
<circle cx="80.19" cy="622.86" r="1" fill="#f4b8e4" opacity="0.6"/>
<circle cx="63.41" cy="619.01" r="0.97" fill="#f4b8e4" opacity="0.6"/>
<circle cx="98.86" cy="613.79" r="0.8" fill="#f4b8e4" opacity="0.6"/>
<circle cx="106.94" cy="617.31" r="0.95" fill="#f4b8e4" opacity="0.6"/>
<circle cx="98.13" cy="611.12" r="0.8" fill="#f4b8e4" opacity="0.6"/>
<circle cx="95.08" cy="573.61" r="0.77" fill="#f4b8e4" opacity="0.6"/>
<circle cx="77.77" cy="570.37" r="0.78" fill="#f4b8e4" opacity="0.6"/>
<circle cx="89.36" cy="603.5" r="0.72" fill="#f4b8e4" opacity="0.6"/>
<circle cx="110.23" cy="605.77" r="0.77" fill="#f4b8e4" opacity="0.6"/>
<circle cx="90.8" cy="600.56" r="0.87" fill="#f4b8e4" opacity="0.6"/>
<circle cx="72.37" cy="623.79" r="0.92" fill="#f4b8e4" opacity="0.6"/>
<circle cx="93.63" cy="610.93" r="1.09" fill="#f4b8e4" opacity="0.6"/>
<circle cx="47.36" cy="603.03" r="0.97" fill="#f4b8e4" opacity="0.6"/>
<circle cx="63.3" cy="591.48" r="0.63" fill="#f4b8e4" opacity="0.6"/>
<circle cx="59.13" cy="590.09" r="0.65" fill="#f4b8e4" opacity="0.6"/>
<circle cx="62.91" cy="618.7" r="0.88" fill="#f4b8e4" opacity="0.6"/>
<circle cx="80.43" cy="622.03" r="0.88" fill="#f4b8e4" opacity="0.6"/>
<circle cx="113.67" cy="604.25" r="1" fill="#f4b8e4" opacity="0.6"/>
<circle cx="51" cy="602.07" r="0.98" fill="#f4b8e4" opacity="0.6"/>
<circle cx="48.88" cy="620.03" r="0.68" fill="#f4b8e4" opacity="0.6"/>
<circle cx="77.97" cy="578.93" r="0.85" fill="#f4b8e4" opacity="0.6"/>
<circle cx="87.48" cy="572.96" r="1.07" fill="#f4b8e4" opacity="0.6"/>
<circle cx="74.49" cy="598.24" r="0.9" fill="#f4b8e4" opacity="0.6"/>
<circle cx="70.73" cy="585.23" r="0.93" fill="#f4b8e4" opacity="0.6"/>
<circle cx="84.04" cy="585.11" r="0.96" fill="#f4b8e4" opacity="0.6"/>
<circle cx="65.99" cy="570.56" r="0.72" fill="#f4b8e4" opacity="0.6"/>
<circle cx="48.72" cy="578.26" r="0.98" fill="#f4b8e4" opacity="0.6"/>
<circle cx="72.39" cy="618.27" r="0.97" fill="#f4b8e4" opacity="0.6"/>
<circle cx="49.22" cy="623.19" r="1.07" fill="#f4b8e4" opacity="0.6"/>
<circle cx="50.81" cy="618.7" r="0.81" fill="#f4b8e4" opacity="0.6"/>
<circle cx="78.37" cy="622.35" r="0.72" fill="#f4b8e4" opacity="0.6"/>
<circle cx="81.49" cy="620.41" r="0.96" fill="#f4b8e4" opacity="0.6"/>
<circle cx="77.74" cy="622.66" r="1.01" fill="#f4b8e4" opacity="0.6"/>
<circle cx="86.97" cy="576.02" r="0.91" fill="#f4b8e4" opacity="0.6"/>
<circle cx="76.88" cy="580.8" r="0.63" fill="#f4b8e4" opacity="0.6"/>
<circle cx="81.82" cy="576.51" r="0.82" fill="#f4b8e4" opacity="0.6"/>
<circle cx="91.35" cy="594.4" r="0.73" fill="#f4b8e4" opacity="0.6"/>
<circle cx="85.51" cy="592.45" r="0.99" fill="#f4b8e4" opacity="0.6"/>
<circle cx="82" cy="623.67" r="1.08" fill="#f4b8e4" opacity="0.6"/>
<circle cx="95.88" cy="582.67" r="0.66" fill="#f4b8e4" opacity="0.6"/>
<circle cx="106.68" cy="612.15" r="0.91" fill="#f4b8e4" opacity="0.6"/>
<path d="M72.8 569.8 l6.5 0 l-2.5 3.5 l-2.6 1 Z" fill="#f1ecf1"/>
<path d="M85.3 592.8 l2.6 -0.8 l1.8 5.6 l-3.8 0.4 Z" fill="#f1ecf1"/>
<path d="M45.8 616.8 l10 3 l-10 3 Z" fill="#f1ecf1"/>
<path d="M45.8 602.8 l1.8 2.5 l-1.8 1.6 Z" fill="#f1ecf1"/>
</g></g>
<g clip-path="url(#cp1)"><g filter="url(#tex1)">
<rect x="115.4" y="569.8" width="68.3" height="54" fill="#de98d2"/>
<circle cx="139.93" cy="584.46" r="0.79" fill="#a458b8" opacity="0.3"/>
<circle cx="153.98" cy="601.75" r="0.77" fill="#a458b8" opacity="0.3"/>
<circle cx="166.85" cy="580.05" r="0.64" fill="#a458b8" opacity="0.3"/>
<circle cx="182.31" cy="619.25" r="0.86" fill="#a458b8" opacity="0.3"/>
<circle cx="118.1" cy="573.08" r="0.64" fill="#a458b8" opacity="0.3"/>
<circle cx="144.44" cy="603.46" r="0.59" fill="#a458b8" opacity="0.3"/>
<circle cx="152.39" cy="573.71" r="0.58" fill="#a458b8" opacity="0.3"/>
<circle cx="161.59" cy="599.53" r="0.77" fill="#a458b8" opacity="0.3"/>
<circle cx="140.89" cy="595.64" r="0.62" fill="#a458b8" opacity="0.3"/>
<circle cx="138.87" cy="610.02" r="0.84" fill="#a458b8" opacity="0.3"/>
<circle cx="120.48" cy="576.27" r="0.83" fill="#a458b8" opacity="0.3"/>
<circle cx="158" cy="611.31" r="0.62" fill="#a458b8" opacity="0.3"/>
<circle cx="144.38" cy="583.74" r="0.83" fill="#a458b8" opacity="0.3"/>
<circle cx="140.6" cy="605.1" r="0.9" fill="#a458b8" opacity="0.3"/>
<circle cx="137.62" cy="599.43" r="0.81" fill="#a458b8" opacity="0.3"/>
<circle cx="178.29" cy="592.89" r="0.68" fill="#a458b8" opacity="0.3"/>
<circle cx="122.03" cy="617.06" r="0.58" fill="#a458b8" opacity="0.3"/>
<circle cx="121.07" cy="600.27" r="0.72" fill="#a458b8" opacity="0.3"/>
<circle cx="162.21" cy="585.94" r="0.82" fill="#a458b8" opacity="0.3"/>
<circle cx="120.6" cy="581.32" r="0.78" fill="#a458b8" opacity="0.3"/>
<circle cx="120.98" cy="586.21" r="0.8" fill="#a458b8" opacity="0.3"/>
<circle cx="162.8" cy="585.08" r="0.6" fill="#a458b8" opacity="0.3"/>
<circle cx="139.84" cy="609" r="0.68" fill="#a458b8" opacity="0.3"/>
<circle cx="123.42" cy="608.1" r="0.75" fill="#a458b8" opacity="0.3"/>
<circle cx="178.14" cy="620.56" r="0.87" fill="#a458b8" opacity="0.3"/>
<circle cx="145.31" cy="613.16" r="0.66" fill="#a458b8" opacity="0.3"/>
<circle cx="137.09" cy="591.38" r="0.88" fill="#a458b8" opacity="0.3"/>
<circle cx="176.51" cy="583.21" r="0.68" fill="#a458b8" opacity="0.3"/>
<circle cx="140.37" cy="589.42" r="0.69" fill="#a458b8" opacity="0.3"/>
<circle cx="141.87" cy="580.33" r="0.75" fill="#a458b8" opacity="0.3"/>
<circle cx="169.84" cy="598.99" r="0.84" fill="#a458b8" opacity="0.3"/>
<circle cx="153.84" cy="579.34" r="0.82" fill="#a458b8" opacity="0.3"/>
<circle cx="175.57" cy="585" r="0.56" fill="#a458b8" opacity="0.3"/>
<circle cx="150.62" cy="599.18" r="0.75" fill="#a458b8" opacity="0.3"/>
<circle cx="181.41" cy="604.97" r="0.83" fill="#a458b8" opacity="0.3"/>
<circle cx="119.78" cy="599.33" r="0.83" fill="#a458b8" opacity="0.3"/>
<circle cx="121.14" cy="574.21" r="0.81" fill="#a458b8" opacity="0.3"/>
<circle cx="176.81" cy="574.37" r="0.77" fill="#a458b8" opacity="0.3"/>
<circle cx="125.23" cy="610.07" r="0.78" fill="#a458b8" opacity="0.3"/>
<circle cx="132.16" cy="581.7" r="0.82" fill="#a458b8" opacity="0.3"/>
<circle cx="151.02" cy="611.09" r="0.69" fill="#a458b8" opacity="0.3"/>
<circle cx="138.47" cy="622.09" r="0.79" fill="#a458b8" opacity="0.3"/>
<circle cx="149.12" cy="598.82" r="0.8" fill="#a458b8" opacity="0.3"/>
<circle cx="163.77" cy="619.21" r="0.69" fill="#a458b8" opacity="0.3"/>
<circle cx="171.83" cy="605.8" r="0.85" fill="#a458b8" opacity="0.3"/>
<circle cx="170.44" cy="614.83" r="0.86" fill="#a458b8" opacity="0.3"/>
<circle cx="180.82" cy="604.37" r="0.73" fill="#a458b8" opacity="0.3"/>
<circle cx="163.9" cy="613.12" r="0.7" fill="#a458b8" opacity="0.3"/>
<circle cx="144.12" cy="577.69" r="0.81" fill="#a458b8" opacity="0.3"/>
<circle cx="183.09" cy="590.08" r="0.61" fill="#a458b8" opacity="0.3"/>
<circle cx="129.36" cy="592.75" r="0.65" fill="#a458b8" opacity="0.3"/>
<circle cx="181.63" cy="573" r="0.66" fill="#a458b8" opacity="0.3"/>
<circle cx="123.24" cy="604.79" r="0.82" fill="#a458b8" opacity="0.3"/>
<circle cx="127.66" cy="573.17" r="0.71" fill="#a458b8" opacity="0.3"/>
<circle cx="155.29" cy="618.9" r="0.56" fill="#a458b8" opacity="0.3"/>
<circle cx="122.82" cy="579.77" r="0.63" fill="#a458b8" opacity="0.3"/>
<circle cx="131.48" cy="608.53" r="0.76" fill="#a458b8" opacity="0.3"/>
<circle cx="130.7" cy="579.79" r="0.65" fill="#a458b8" opacity="0.3"/>
<circle cx="127.18" cy="610.71" r="0.66" fill="#a458b8" opacity="0.3"/>
<circle cx="152.84" cy="613.92" r="0.72" fill="#a458b8" opacity="0.3"/>
<circle cx="133.19" cy="617.72" r="0.87" fill="#a458b8" opacity="0.3"/>
<circle cx="138.76" cy="599.36" r="0.88" fill="#a458b8" opacity="0.3"/>
<circle cx="148.36" cy="581.73" r="0.57" fill="#a458b8" opacity="0.3"/>
<circle cx="180.12" cy="613.08" r="0.68" fill="#a458b8" opacity="0.3"/>
<circle cx="151.43" cy="597.65" r="0.65" fill="#a458b8" opacity="0.3"/>
<circle cx="183.03" cy="605.31" r="0.63" fill="#a458b8" opacity="0.3"/>
<circle cx="116.14" cy="595.32" r="0.68" fill="#a458b8" opacity="0.3"/>
<circle cx="169.82" cy="608.32" r="0.76" fill="#a458b8" opacity="0.3"/>
<circle cx="126.14" cy="578.27" r="0.66" fill="#a458b8" opacity="0.3"/>
<circle cx="133.12" cy="616.74" r="0.73" fill="#a458b8" opacity="0.3"/>
<circle cx="158.9" cy="623.43" r="0.64" fill="#a458b8" opacity="0.3"/>
<circle cx="151.91" cy="577.94" r="0.82" fill="#a458b8" opacity="0.3"/>
<circle cx="115.49" cy="614.16" r="0.85" fill="#a458b8" opacity="0.3"/>
<circle cx="171.55" cy="574.25" r="0.64" fill="#a458b8" opacity="0.3"/>
<circle cx="164.34" cy="575.05" r="0.72" fill="#a458b8" opacity="0.3"/>
<circle cx="147.41" cy="621.4" r="0.76" fill="#a458b8" opacity="0.3"/>
<circle cx="173.96" cy="586.19" r="0.83" fill="#a458b8" opacity="0.3"/>
<circle cx="143.88" cy="619.3" r="0.58" fill="#a458b8" opacity="0.3"/>
<circle cx="171.84" cy="581.05" r="0.74" fill="#a458b8" opacity="0.3"/>
<circle cx="151.3" cy="578.31" r="0.84" fill="#a458b8" opacity="0.3"/>
<circle cx="136.67" cy="586.58" r="0.58" fill="#a458b8" opacity="0.3"/>
<circle cx="136.28" cy="595.03" r="0.8" fill="#a458b8" opacity="0.3"/>
<circle cx="139.97" cy="606.9" r="0.59" fill="#a458b8" opacity="0.3"/>
<circle cx="142.33" cy="594.73" r="0.89" fill="#a458b8" opacity="0.3"/>
<circle cx="172.07" cy="605.11" r="0.55" fill="#a458b8" opacity="0.3"/>
<circle cx="141.16" cy="608.14" r="0.63" fill="#a458b8" opacity="0.3"/>
<circle cx="153.93" cy="594.54" r="0.55" fill="#a458b8" opacity="0.3"/>
<circle cx="183.13" cy="612.97" r="0.62" fill="#a458b8" opacity="0.3"/>
<circle cx="157.48" cy="585.48" r="0.68" fill="#a458b8" opacity="0.3"/>
<circle cx="152.27" cy="585.9" r="0.67" fill="#a458b8" opacity="0.3"/>
<circle cx="142.19" cy="605.8" r="0.64" fill="#a458b8" opacity="0.3"/>
<circle cx="129.06" cy="609.3" r="0.67" fill="#a458b8" opacity="0.3"/>
<circle cx="179.95" cy="600.19" r="0.8" fill="#a458b8" opacity="0.3"/>
<circle cx="138.05" cy="614.45" r="0.58" fill="#a458b8" opacity="0.3"/>
<circle cx="125.02" cy="574.9" r="0.79" fill="#a458b8" opacity="0.3"/>
<circle cx="163.78" cy="579.51" r="0.69" fill="#a458b8" opacity="0.3"/>
<circle cx="172.56" cy="601.81" r="0.58" fill="#a458b8" opacity="0.3"/>
<circle cx="130.88" cy="578.28" r="0.59" fill="#a458b8" opacity="0.3"/>
<circle cx="143.19" cy="573.72" r="0.87" fill="#a458b8" opacity="0.3"/>
<circle cx="144.56" cy="597.42" r="0.78" fill="#a458b8" opacity="0.3"/>
<circle cx="167.78" cy="614.14" r="0.69" fill="#a458b8" opacity="0.3"/>
<circle cx="138.04" cy="592.06" r="0.56" fill="#a458b8" opacity="0.3"/>
<circle cx="142.77" cy="607.59" r="0.89" fill="#a458b8" opacity="0.3"/>
<circle cx="169.33" cy="605.45" r="0.76" fill="#a458b8" opacity="0.3"/>
<circle cx="116.67" cy="587.67" r="0.67" fill="#a458b8" opacity="0.3"/>
<circle cx="159.84" cy="575.54" r="0.68" fill="#a458b8" opacity="0.3"/>
<circle cx="150.19" cy="612.38" r="0.84" fill="#a458b8" opacity="0.3"/>
<circle cx="157.16" cy="578.35" r="0.82" fill="#a458b8" opacity="0.3"/>
<circle cx="177.07" cy="599.41" r="0.67" fill="#a458b8" opacity="0.3"/>
<circle cx="149.58" cy="577.45" r="0.8" fill="#a458b8" opacity="0.3"/>
<circle cx="182.8" cy="597.67" r="0.8" fill="#a458b8" opacity="0.3"/>
<circle cx="172.47" cy="580.45" r="0.88" fill="#a458b8" opacity="0.3"/>
<circle cx="158.23" cy="580.49" r="0.58" fill="#a458b8" opacity="0.3"/>
<circle cx="132.11" cy="600.93" r="0.79" fill="#a458b8" opacity="0.3"/>
<circle cx="137.88" cy="619.97" r="0.68" fill="#a458b8" opacity="0.3"/>
<circle cx="147.03" cy="576.5" r="0.89" fill="#a458b8" opacity="0.3"/>
<circle cx="124.66" cy="618.62" r="0.74" fill="#a458b8" opacity="0.3"/>
<circle cx="153.7" cy="600.06" r="0.64" fill="#a458b8" opacity="0.3"/>
<circle cx="177.51" cy="623.38" r="0.84" fill="#a458b8" opacity="0.3"/>
<circle cx="156.48" cy="576.42" r="0.84" fill="#a458b8" opacity="0.3"/>
<circle cx="135.11" cy="618.24" r="0.63" fill="#a458b8" opacity="0.3"/>
<circle cx="154.58" cy="614.66" r="0.61" fill="#a458b8" opacity="0.3"/>
<circle cx="152.82" cy="573.92" r="0.56" fill="#a458b8" opacity="0.3"/>
<circle cx="127.7" cy="623.1" r="0.88" fill="#a458b8" opacity="0.3"/>
<circle cx="160.37" cy="586.41" r="0.78" fill="#a458b8" opacity="0.3"/>
<circle cx="165.78" cy="590.41" r="0.76" fill="#a458b8" opacity="0.3"/>
<circle cx="170.3" cy="570.68" r="0.62" fill="#a458b8" opacity="0.3"/>
<circle cx="147.37" cy="577.52" r="0.69" fill="#a458b8" opacity="0.3"/>
<circle cx="154.3" cy="579.18" r="0.73" fill="#a458b8" opacity="0.3"/>
<circle cx="133.41" cy="600.47" r="0.67" fill="#a458b8" opacity="0.3"/>
<circle cx="159.23" cy="571.84" r="0.78" fill="#a458b8" opacity="0.3"/>
<circle cx="125.29" cy="621.6" r="0.76" fill="#a458b8" opacity="0.3"/>
<circle cx="147.49" cy="592.02" r="0.77" fill="#a458b8" opacity="0.3"/>
<circle cx="162.48" cy="610.73" r="0.81" fill="#a458b8" opacity="0.3"/>
<circle cx="148.58" cy="623.51" r="0.84" fill="#a458b8" opacity="0.3"/>
<circle cx="173.8" cy="591.89" r="0.7" fill="#a458b8" opacity="0.3"/>
<circle cx="154.06" cy="618.68" r="0.73" fill="#a458b8" opacity="0.3"/>
<circle cx="151.26" cy="593.14" r="0.87" fill="#a458b8" opacity="0.3"/>
<circle cx="137.3" cy="572.75" r="0.8" fill="#a458b8" opacity="0.3"/>
<circle cx="176.88" cy="609.33" r="0.76" fill="#a458b8" opacity="0.3"/>
<circle cx="166.75" cy="586.26" r="0.9" fill="#f4b8e4" opacity="0.6"/>
<circle cx="120.17" cy="576.52" r="0.82" fill="#f4b8e4" opacity="0.6"/>
<circle cx="149.73" cy="591.22" r="0.63" fill="#f4b8e4" opacity="0.6"/>
<circle cx="162.86" cy="598.22" r="0.72" fill="#f4b8e4" opacity="0.6"/>
<circle cx="136.32" cy="591.16" r="0.72" fill="#f4b8e4" opacity="0.6"/>
<circle cx="120.07" cy="619.01" r="1.08" fill="#f4b8e4" opacity="0.6"/>
<circle cx="160.87" cy="616.59" r="0.81" fill="#f4b8e4" opacity="0.6"/>
<circle cx="170.4" cy="581.78" r="0.97" fill="#f4b8e4" opacity="0.6"/>
<circle cx="154.11" cy="618.58" r="0.65" fill="#f4b8e4" opacity="0.6"/>
<circle cx="169.52" cy="576.48" r="0.87" fill="#f4b8e4" opacity="0.6"/>
<circle cx="180.35" cy="569.83" r="0.72" fill="#f4b8e4" opacity="0.6"/>
<circle cx="135.84" cy="587.34" r="0.63" fill="#f4b8e4" opacity="0.6"/>
<circle cx="176.54" cy="613.83" r="0.8" fill="#f4b8e4" opacity="0.6"/>
<circle cx="139.75" cy="601.42" r="0.62" fill="#f4b8e4" opacity="0.6"/>
<circle cx="117.53" cy="618.32" r="0.75" fill="#f4b8e4" opacity="0.6"/>
<circle cx="149.44" cy="620.23" r="1.09" fill="#f4b8e4" opacity="0.6"/>
<circle cx="147.68" cy="580.95" r="0.75" fill="#f4b8e4" opacity="0.6"/>
<circle cx="178.42" cy="618.23" r="0.7" fill="#f4b8e4" opacity="0.6"/>
<circle cx="172.63" cy="588.92" r="0.84" fill="#f4b8e4" opacity="0.6"/>
<circle cx="127.14" cy="617.3" r="1.1" fill="#f4b8e4" opacity="0.6"/>
<circle cx="129.2" cy="603.95" r="0.7" fill="#f4b8e4" opacity="0.6"/>
<circle cx="175.52" cy="572.5" r="0.65" fill="#f4b8e4" opacity="0.6"/>
<circle cx="164.97" cy="586.7" r="1.05" fill="#f4b8e4" opacity="0.6"/>
<circle cx="174.79" cy="608.31" r="0.67" fill="#f4b8e4" opacity="0.6"/>
<circle cx="162.93" cy="620.44" r="0.82" fill="#f4b8e4" opacity="0.6"/>
<circle cx="120.79" cy="581.85" r="0.75" fill="#f4b8e4" opacity="0.6"/>
<circle cx="163.93" cy="580.41" r="0.69" fill="#f4b8e4" opacity="0.6"/>
<circle cx="131.48" cy="605.69" r="1" fill="#f4b8e4" opacity="0.6"/>
<circle cx="140.84" cy="605.55" r="1.04" fill="#f4b8e4" opacity="0.6"/>
<circle cx="155.69" cy="582.17" r="0.75" fill="#f4b8e4" opacity="0.6"/>
<circle cx="178.7" cy="605.82" r="0.74" fill="#f4b8e4" opacity="0.6"/>
<circle cx="159.11" cy="574.66" r="1.09" fill="#f4b8e4" opacity="0.6"/>
<circle cx="145.48" cy="598.33" r="0.87" fill="#f4b8e4" opacity="0.6"/>
<circle cx="118.5" cy="602.18" r="0.74" fill="#f4b8e4" opacity="0.6"/>
<circle cx="132.54" cy="613.17" r="0.64" fill="#f4b8e4" opacity="0.6"/>
<circle cx="134.88" cy="610.61" r="0.72" fill="#f4b8e4" opacity="0.6"/>
<circle cx="134.46" cy="599.4" r="0.69" fill="#f4b8e4" opacity="0.6"/>
<circle cx="176.67" cy="623.14" r="0.62" fill="#f4b8e4" opacity="0.6"/>
<circle cx="146.93" cy="610.33" r="0.79" fill="#f4b8e4" opacity="0.6"/>
<circle cx="178.87" cy="596.79" r="0.69" fill="#f4b8e4" opacity="0.6"/>
<circle cx="153.38" cy="604.63" r="0.78" fill="#f4b8e4" opacity="0.6"/>
<circle cx="160.36" cy="612.08" r="0.86" fill="#f4b8e4" opacity="0.6"/>
<circle cx="149.93" cy="615.45" r="0.94" fill="#f4b8e4" opacity="0.6"/>
<circle cx="150.95" cy="621.18" r="0.69" fill="#f4b8e4" opacity="0.6"/>
<circle cx="168.65" cy="578.72" r="0.9" fill="#f4b8e4" opacity="0.6"/>
<circle cx="131.47" cy="593.58" r="0.99" fill="#f4b8e4" opacity="0.6"/>
<circle cx="169.12" cy="612.52" r="0.72" fill="#f4b8e4" opacity="0.6"/>
<circle cx="148.81" cy="581.75" r="0.89" fill="#f4b8e4" opacity="0.6"/>
<circle cx="149.48" cy="571.71" r="0.9" fill="#f4b8e4" opacity="0.6"/>
<circle cx="164.22" cy="600.72" r="1.04" fill="#f4b8e4" opacity="0.6"/>
<circle cx="127.7" cy="578" r="0.61" fill="#f4b8e4" opacity="0.6"/>
<circle cx="149.28" cy="593.27" r="0.82" fill="#f4b8e4" opacity="0.6"/>
<circle cx="133.36" cy="612.92" r="0.64" fill="#f4b8e4" opacity="0.6"/>
<circle cx="177.37" cy="600.52" r="0.87" fill="#f4b8e4" opacity="0.6"/>
<circle cx="169.47" cy="582.65" r="0.67" fill="#f4b8e4" opacity="0.6"/>
<circle cx="136.64" cy="572.09" r="0.76" fill="#f4b8e4" opacity="0.6"/>
<circle cx="157.83" cy="598.17" r="0.73" fill="#f4b8e4" opacity="0.6"/>
<circle cx="155.61" cy="574.58" r="1.01" fill="#f4b8e4" opacity="0.6"/>
<circle cx="127.12" cy="583.56" r="0.68" fill="#f4b8e4" opacity="0.6"/>
<circle cx="162.57" cy="614.67" r="0.99" fill="#f4b8e4" opacity="0.6"/>
<circle cx="130.4" cy="598.8" r="1.6" fill="#eeaad0"/>
<circle cx="142.4" cy="591.8" r="1.2" fill="#eeaad0"/>
<path d="M115.4 569.8 l4 0 l-4 3 Z" fill="#f1ecf1"/>
</g></g>
<g clip-path="url(#cp2)"><g filter="url(#tex2)">
<rect x="185.2" y="569.8" width="68.6" height="54" fill="#d67aca"/>
<circle cx="189.39" cy="591.97" r="0.68" fill="#a458b8" opacity="0.3"/>
<circle cx="200.04" cy="622.21" r="0.56" fill="#a458b8" opacity="0.3"/>
<circle cx="218.78" cy="610.91" r="0.9" fill="#a458b8" opacity="0.3"/>
<circle cx="195.12" cy="594.39" r="0.81" fill="#a458b8" opacity="0.3"/>
<circle cx="187.89" cy="582.79" r="0.86" fill="#a458b8" opacity="0.3"/>
<circle cx="194.91" cy="591.02" r="0.65" fill="#a458b8" opacity="0.3"/>
<circle cx="214.32" cy="573.93" r="0.56" fill="#a458b8" opacity="0.3"/>
<circle cx="253.53" cy="611.02" r="0.81" fill="#a458b8" opacity="0.3"/>
<circle cx="200.97" cy="583.47" r="0.74" fill="#a458b8" opacity="0.3"/>
<circle cx="201.78" cy="594.72" r="0.88" fill="#a458b8" opacity="0.3"/>
<circle cx="210.17" cy="588" r="0.89" fill="#a458b8" opacity="0.3"/>
<circle cx="227.11" cy="571.94" r="0.69" fill="#a458b8" opacity="0.3"/>
<circle cx="229.78" cy="572.96" r="0.67" fill="#a458b8" opacity="0.3"/>
<circle cx="232.86" cy="616.48" r="0.76" fill="#a458b8" opacity="0.3"/>
<circle cx="246.01" cy="594.78" r="0.69" fill="#a458b8" opacity="0.3"/>
<circle cx="243.03" cy="590.38" r="0.82" fill="#a458b8" opacity="0.3"/>
<circle cx="199.98" cy="588.56" r="0.61" fill="#a458b8" opacity="0.3"/>
<circle cx="222.9" cy="578.65" r="0.62" fill="#a458b8" opacity="0.3"/>
<circle cx="199.91" cy="595.06" r="0.66" fill="#a458b8" opacity="0.3"/>
<circle cx="215.87" cy="623.44" r="0.79" fill="#a458b8" opacity="0.3"/>
<circle cx="244.38" cy="580.85" r="0.68" fill="#a458b8" opacity="0.3"/>
<circle cx="190.19" cy="607.13" r="0.68" fill="#a458b8" opacity="0.3"/>
<circle cx="204.03" cy="570.8" r="0.61" fill="#a458b8" opacity="0.3"/>
<circle cx="203.2" cy="591.02" r="0.87" fill="#a458b8" opacity="0.3"/>
<circle cx="234.26" cy="584.31" r="0.68" fill="#a458b8" opacity="0.3"/>
<circle cx="195.73" cy="620.38" r="0.68" fill="#a458b8" opacity="0.3"/>
<circle cx="237.73" cy="608.87" r="0.87" fill="#a458b8" opacity="0.3"/>
<circle cx="186.6" cy="587.19" r="0.68" fill="#a458b8" opacity="0.3"/>
<circle cx="190.91" cy="617.45" r="0.66" fill="#a458b8" opacity="0.3"/>
<circle cx="238.07" cy="597.84" r="0.57" fill="#a458b8" opacity="0.3"/>
<circle cx="212.23" cy="582.67" r="0.56" fill="#a458b8" opacity="0.3"/>
<circle cx="195.55" cy="601.95" r="0.56" fill="#a458b8" opacity="0.3"/>
<circle cx="206.62" cy="592.7" r="0.74" fill="#a458b8" opacity="0.3"/>
<circle cx="194.53" cy="607.96" r="0.64" fill="#a458b8" opacity="0.3"/>
<circle cx="234.97" cy="605.77" r="0.6" fill="#a458b8" opacity="0.3"/>
<circle cx="199.25" cy="584.94" r="0.8" fill="#a458b8" opacity="0.3"/>
<circle cx="213" cy="590.67" r="0.85" fill="#a458b8" opacity="0.3"/>
<circle cx="200.71" cy="585.57" r="0.67" fill="#a458b8" opacity="0.3"/>
<circle cx="200" cy="572" r="0.56" fill="#a458b8" opacity="0.3"/>
<circle cx="228.45" cy="600.36" r="0.83" fill="#a458b8" opacity="0.3"/>
<circle cx="252.13" cy="585.9" r="0.78" fill="#a458b8" opacity="0.3"/>
<circle cx="248.25" cy="581.48" r="0.79" fill="#a458b8" opacity="0.3"/>
<circle cx="230.93" cy="621.38" r="0.85" fill="#a458b8" opacity="0.3"/>
<circle cx="201.29" cy="603.96" r="0.58" fill="#a458b8" opacity="0.3"/>
<circle cx="214.54" cy="590.99" r="0.57" fill="#a458b8" opacity="0.3"/>
<circle cx="211.5" cy="587.52" r="0.72" fill="#a458b8" opacity="0.3"/>
<circle cx="204.4" cy="578.36" r="0.69" fill="#a458b8" opacity="0.3"/>
<circle cx="217.8" cy="578.8" r="0.78" fill="#a458b8" opacity="0.3"/>
<circle cx="201.65" cy="574.82" r="0.67" fill="#a458b8" opacity="0.3"/>
<circle cx="214.17" cy="577.94" r="0.75" fill="#a458b8" opacity="0.3"/>
<circle cx="233.31" cy="599.67" r="0.8" fill="#a458b8" opacity="0.3"/>
<circle cx="186.78" cy="590.93" r="0.68" fill="#a458b8" opacity="0.3"/>
<circle cx="189.52" cy="591.64" r="0.57" fill="#a458b8" opacity="0.3"/>
<circle cx="219.2" cy="601.44" r="0.71" fill="#a458b8" opacity="0.3"/>
<circle cx="207.53" cy="583.48" r="0.56" fill="#a458b8" opacity="0.3"/>
<circle cx="209.01" cy="617.96" r="0.75" fill="#a458b8" opacity="0.3"/>
<circle cx="203.17" cy="605.88" r="0.62" fill="#a458b8" opacity="0.3"/>
<circle cx="217.39" cy="603.02" r="0.88" fill="#a458b8" opacity="0.3"/>
<circle cx="210.08" cy="600.91" r="0.88" fill="#a458b8" opacity="0.3"/>
<circle cx="238.12" cy="603.68" r="0.77" fill="#a458b8" opacity="0.3"/>
<circle cx="213.39" cy="592.24" r="0.65" fill="#a458b8" opacity="0.3"/>
<circle cx="242.11" cy="617.31" r="0.68" fill="#a458b8" opacity="0.3"/>
<circle cx="247.6" cy="571.86" r="0.6" fill="#a458b8" opacity="0.3"/>
<circle cx="219.99" cy="586.46" r="0.68" fill="#a458b8" opacity="0.3"/>
<circle cx="252.22" cy="577.89" r="0.62" fill="#a458b8" opacity="0.3"/>
<circle cx="200.87" cy="606.53" r="0.63" fill="#a458b8" opacity="0.3"/>
<circle cx="185.26" cy="599.17" r="0.69" fill="#a458b8" opacity="0.3"/>
<circle cx="201.62" cy="596.46" r="0.78" fill="#a458b8" opacity="0.3"/>
<circle cx="222.8" cy="603.52" r="0.75" fill="#a458b8" opacity="0.3"/>
<circle cx="242.21" cy="622.12" r="0.67" fill="#a458b8" opacity="0.3"/>
<circle cx="208.98" cy="617.66" r="0.66" fill="#a458b8" opacity="0.3"/>
<circle cx="234.31" cy="607.35" r="0.79" fill="#a458b8" opacity="0.3"/>
<circle cx="251.32" cy="614.32" r="0.61" fill="#a458b8" opacity="0.3"/>
<circle cx="227.84" cy="596.3" r="0.75" fill="#a458b8" opacity="0.3"/>
<circle cx="210.55" cy="585.23" r="0.81" fill="#a458b8" opacity="0.3"/>
<circle cx="221.83" cy="582.6" r="0.64" fill="#a458b8" opacity="0.3"/>
<circle cx="207.49" cy="579.4" r="0.73" fill="#a458b8" opacity="0.3"/>
<circle cx="193.84" cy="573.21" r="0.57" fill="#a458b8" opacity="0.3"/>
<circle cx="192.21" cy="607.86" r="0.59" fill="#a458b8" opacity="0.3"/>
<circle cx="216.18" cy="611.49" r="0.72" fill="#a458b8" opacity="0.3"/>
<circle cx="196.35" cy="616.58" r="0.85" fill="#a458b8" opacity="0.3"/>
<circle cx="188.87" cy="583.51" r="0.73" fill="#a458b8" opacity="0.3"/>
<circle cx="239.84" cy="590.98" r="0.8" fill="#a458b8" opacity="0.3"/>
<circle cx="202.47" cy="608.45" r="0.66" fill="#a458b8" opacity="0.3"/>
<circle cx="208.1" cy="610.8" r="0.84" fill="#a458b8" opacity="0.3"/>
<circle cx="242.04" cy="600.44" r="0.7" fill="#a458b8" opacity="0.3"/>
<circle cx="233.7" cy="603.44" r="0.84" fill="#a458b8" opacity="0.3"/>
<circle cx="240.16" cy="576.56" r="0.68" fill="#a458b8" opacity="0.3"/>
<circle cx="231.12" cy="582.28" r="0.61" fill="#a458b8" opacity="0.3"/>
<circle cx="186.14" cy="601.42" r="0.88" fill="#a458b8" opacity="0.3"/>
<circle cx="251.77" cy="577.02" r="0.79" fill="#a458b8" opacity="0.3"/>
<circle cx="213.96" cy="603.9" r="0.69" fill="#a458b8" opacity="0.3"/>
<circle cx="249.23" cy="623.2" r="0.57" fill="#a458b8" opacity="0.3"/>
<circle cx="234.13" cy="576.19" r="0.56" fill="#a458b8" opacity="0.3"/>
<circle cx="204.82" cy="609.29" r="0.9" fill="#a458b8" opacity="0.3"/>
<circle cx="193.44" cy="587.62" r="0.56" fill="#a458b8" opacity="0.3"/>
<circle cx="222.42" cy="595.88" r="0.68" fill="#a458b8" opacity="0.3"/>
<circle cx="206.41" cy="613.03" r="0.84" fill="#a458b8" opacity="0.3"/>
<circle cx="204.66" cy="590.95" r="0.77" fill="#a458b8" opacity="0.3"/>
<circle cx="237.7" cy="622.77" r="0.69" fill="#a458b8" opacity="0.3"/>
<circle cx="232.81" cy="599.28" r="0.83" fill="#a458b8" opacity="0.3"/>
<circle cx="195.28" cy="579.25" r="0.59" fill="#a458b8" opacity="0.3"/>
<circle cx="249.24" cy="583.37" r="0.72" fill="#a458b8" opacity="0.3"/>
<circle cx="193.46" cy="587.28" r="0.56" fill="#a458b8" opacity="0.3"/>
<circle cx="224.02" cy="577.56" r="0.77" fill="#a458b8" opacity="0.3"/>
<circle cx="204" cy="582.09" r="0.72" fill="#a458b8" opacity="0.3"/>
<circle cx="210.3" cy="583.82" r="0.57" fill="#a458b8" opacity="0.3"/>
<circle cx="189.62" cy="618" r="0.66" fill="#a458b8" opacity="0.3"/>
<circle cx="190.58" cy="579.65" r="0.72" fill="#a458b8" opacity="0.3"/>
<circle cx="253.61" cy="580.72" r="0.85" fill="#a458b8" opacity="0.3"/>
<circle cx="218.42" cy="592.19" r="0.83" fill="#a458b8" opacity="0.3"/>
<circle cx="212.36" cy="572.91" r="0.74" fill="#a458b8" opacity="0.3"/>
<circle cx="230.26" cy="603.44" r="0.65" fill="#a458b8" opacity="0.3"/>
<circle cx="249.61" cy="616.49" r="0.9" fill="#a458b8" opacity="0.3"/>
<circle cx="215.6" cy="614.82" r="0.8" fill="#a458b8" opacity="0.3"/>
<circle cx="197.26" cy="571.25" r="0.61" fill="#a458b8" opacity="0.3"/>
<circle cx="193.35" cy="573.83" r="0.68" fill="#a458b8" opacity="0.3"/>
<circle cx="236.89" cy="586.54" r="0.73" fill="#a458b8" opacity="0.3"/>
<circle cx="185.92" cy="581.15" r="0.89" fill="#a458b8" opacity="0.3"/>
<circle cx="185.96" cy="598.27" r="0.83" fill="#a458b8" opacity="0.3"/>
<circle cx="239.55" cy="609.51" r="0.69" fill="#a458b8" opacity="0.3"/>
<circle cx="240.29" cy="614.49" r="0.82" fill="#a458b8" opacity="0.3"/>
<circle cx="252.84" cy="575.25" r="0.88" fill="#a458b8" opacity="0.3"/>
<circle cx="212.8" cy="607.88" r="0.64" fill="#a458b8" opacity="0.3"/>
<circle cx="247.6" cy="571.07" r="0.75" fill="#a458b8" opacity="0.3"/>
<circle cx="200.79" cy="590.77" r="0.68" fill="#a458b8" opacity="0.3"/>
<circle cx="230.27" cy="613.58" r="0.68" fill="#a458b8" opacity="0.3"/>
<circle cx="228.97" cy="588.92" r="0.65" fill="#a458b8" opacity="0.3"/>
<circle cx="247.29" cy="587.17" r="0.58" fill="#a458b8" opacity="0.3"/>
<circle cx="208.17" cy="609.85" r="0.62" fill="#a458b8" opacity="0.3"/>
<circle cx="236.18" cy="599.3" r="0.79" fill="#a458b8" opacity="0.3"/>
<circle cx="197.36" cy="575.51" r="0.6" fill="#a458b8" opacity="0.3"/>
<circle cx="209.23" cy="593.06" r="0.55" fill="#a458b8" opacity="0.3"/>
<circle cx="219.68" cy="591.58" r="0.66" fill="#a458b8" opacity="0.3"/>
<circle cx="222.05" cy="621.22" r="0.62" fill="#a458b8" opacity="0.3"/>
<circle cx="245.6" cy="587.13" r="0.81" fill="#a458b8" opacity="0.3"/>
<circle cx="192.63" cy="623.13" r="0.7" fill="#a458b8" opacity="0.3"/>
<circle cx="251.24" cy="581.66" r="0.69" fill="#a458b8" opacity="0.3"/>
<circle cx="233.63" cy="579.4" r="0.65" fill="#a458b8" opacity="0.3"/>
<circle cx="231.66" cy="620.98" r="0.66" fill="#a458b8" opacity="0.3"/>
<circle cx="197.78" cy="589.09" r="1.09" fill="#f4b8e4" opacity="0.6"/>
<circle cx="195.36" cy="604.08" r="0.79" fill="#f4b8e4" opacity="0.6"/>
<circle cx="229.37" cy="581.26" r="0.91" fill="#f4b8e4" opacity="0.6"/>
<circle cx="246.09" cy="616.04" r="0.91" fill="#f4b8e4" opacity="0.6"/>
<circle cx="219.83" cy="600.46" r="0.66" fill="#f4b8e4" opacity="0.6"/>
<circle cx="242.65" cy="607.05" r="0.83" fill="#f4b8e4" opacity="0.6"/>
<circle cx="230.85" cy="592.45" r="0.79" fill="#f4b8e4" opacity="0.6"/>
<circle cx="200.98" cy="602.24" r="0.89" fill="#f4b8e4" opacity="0.6"/>
<circle cx="220.54" cy="571.54" r="0.91" fill="#f4b8e4" opacity="0.6"/>
<circle cx="215.85" cy="601.84" r="0.9" fill="#f4b8e4" opacity="0.6"/>
<circle cx="249.11" cy="578" r="0.83" fill="#f4b8e4" opacity="0.6"/>
<circle cx="253.31" cy="609.65" r="0.76" fill="#f4b8e4" opacity="0.6"/>
<circle cx="235.74" cy="623.23" r="0.8" fill="#f4b8e4" opacity="0.6"/>
<circle cx="244.71" cy="576.64" r="1.1" fill="#f4b8e4" opacity="0.6"/>
<circle cx="218.89" cy="582.44" r="1.02" fill="#f4b8e4" opacity="0.6"/>
<circle cx="229.74" cy="620.44" r="1.01" fill="#f4b8e4" opacity="0.6"/>
<circle cx="239.92" cy="597.43" r="1.1" fill="#f4b8e4" opacity="0.6"/>
<circle cx="189.65" cy="616.79" r="0.96" fill="#f4b8e4" opacity="0.6"/>
<circle cx="202.4" cy="613.39" r="0.83" fill="#f4b8e4" opacity="0.6"/>
<circle cx="221.99" cy="616.54" r="0.7" fill="#f4b8e4" opacity="0.6"/>
<circle cx="204.38" cy="604.56" r="0.64" fill="#f4b8e4" opacity="0.6"/>
<circle cx="223.27" cy="612.3" r="0.85" fill="#f4b8e4" opacity="0.6"/>
<circle cx="201.79" cy="613" r="1.03" fill="#f4b8e4" opacity="0.6"/>
<circle cx="238.08" cy="599.46" r="1.05" fill="#f4b8e4" opacity="0.6"/>
<circle cx="239.86" cy="578" r="0.78" fill="#f4b8e4" opacity="0.6"/>
<circle cx="192.08" cy="571.79" r="0.77" fill="#f4b8e4" opacity="0.6"/>
<circle cx="244.53" cy="614.83" r="0.66" fill="#f4b8e4" opacity="0.6"/>
<circle cx="197.66" cy="590.79" r="1.02" fill="#f4b8e4" opacity="0.6"/>
<circle cx="227.53" cy="618.5" r="0.64" fill="#f4b8e4" opacity="0.6"/>
<circle cx="252.97" cy="580.96" r="0.91" fill="#f4b8e4" opacity="0.6"/>
<circle cx="245.33" cy="609.09" r="0.7" fill="#f4b8e4" opacity="0.6"/>
<circle cx="231.05" cy="593.06" r="0.61" fill="#f4b8e4" opacity="0.6"/>
<circle cx="208.5" cy="586.83" r="0.91" fill="#f4b8e4" opacity="0.6"/>
<circle cx="204.31" cy="602.37" r="0.95" fill="#f4b8e4" opacity="0.6"/>
<circle cx="197.59" cy="576.71" r="0.95" fill="#f4b8e4" opacity="0.6"/>
<circle cx="217.2" cy="576.77" r="0.66" fill="#f4b8e4" opacity="0.6"/>
<circle cx="249.75" cy="602.74" r="0.78" fill="#f4b8e4" opacity="0.6"/>
<circle cx="198.66" cy="623.52" r="0.95" fill="#f4b8e4" opacity="0.6"/>
<circle cx="235.71" cy="589.26" r="0.76" fill="#f4b8e4" opacity="0.6"/>
<circle cx="213.21" cy="577.7" r="0.92" fill="#f4b8e4" opacity="0.6"/>
<circle cx="214.34" cy="614.09" r="0.8" fill="#f4b8e4" opacity="0.6"/>
<circle cx="216.54" cy="597.15" r="1.07" fill="#f4b8e4" opacity="0.6"/>
<circle cx="208.96" cy="607.8" r="0.72" fill="#f4b8e4" opacity="0.6"/>
<circle cx="224.94" cy="585.18" r="1.04" fill="#f4b8e4" opacity="0.6"/>
<circle cx="204.85" cy="615.94" r="0.94" fill="#f4b8e4" opacity="0.6"/>
<circle cx="216.41" cy="620.22" r="0.79" fill="#f4b8e4" opacity="0.6"/>
<circle cx="236.19" cy="602.27" r="0.82" fill="#f4b8e4" opacity="0.6"/>
<circle cx="189.6" cy="592.43" r="0.74" fill="#f4b8e4" opacity="0.6"/>
<circle cx="215.45" cy="621.34" r="0.75" fill="#f4b8e4" opacity="0.6"/>
<circle cx="232.87" cy="606.09" r="0.72" fill="#f4b8e4" opacity="0.6"/>
<circle cx="213.43" cy="576.94" r="1.05" fill="#f4b8e4" opacity="0.6"/>
<circle cx="202.46" cy="592.51" r="0.77" fill="#f4b8e4" opacity="0.6"/>
<circle cx="241.49" cy="615.71" r="0.9" fill="#f4b8e4" opacity="0.6"/>
<circle cx="222.65" cy="575.17" r="1.05" fill="#f4b8e4" opacity="0.6"/>
<circle cx="191.26" cy="589.43" r="0.79" fill="#f4b8e4" opacity="0.6"/>
<circle cx="234.8" cy="605.94" r="0.77" fill="#f4b8e4" opacity="0.6"/>
<circle cx="246.8" cy="621.08" r="0.61" fill="#f4b8e4" opacity="0.6"/>
<circle cx="228.62" cy="595.14" r="0.78" fill="#f4b8e4" opacity="0.6"/>
<circle cx="217.09" cy="586.87" r="0.94" fill="#f4b8e4" opacity="0.6"/>
<circle cx="226.74" cy="622.2" r="1.09" fill="#f4b8e4" opacity="0.6"/>
<path d="M199 580.2 L210 584.3 Q213 584.1 218 584.9 Q222.3 586 221.8 588 Q220.3 590 214 589.5 Q210.8 589 209.3 586.6 L198.4 581.6 Z" fill="#f6f0f4"/>
<path d="M253.8 605.3 q-3.2 0.6 -3.6 4 q0.6 3.4 3.6 4.2 Z" fill="#f4eef2"/>
<circle cx="235.2" cy="603.8" r="1.3" fill="#b060b8" opacity="0.7"/>
</g></g>
<g clip-path="url(#cp3)"><g filter="url(#tex3)">
<rect x="45.8" y="625.4" width="68.2" height="53.8" fill="#df92cb"/>
<path d="M45.8 649.4 L114 641.4 L114 652.4 L45.8 659.4 Z" fill="#d17ac2" opacity="0.8"/>
<circle cx="113.5" cy="657.55" r="0.83" fill="#9a48ae" opacity="0.45"/>
<circle cx="90.13" cy="668.5" r="0.9" fill="#9a48ae" opacity="0.45"/>
<circle cx="50.34" cy="659.95" r="0.66" fill="#9a48ae" opacity="0.45"/>
<circle cx="90.54" cy="651.21" r="0.9" fill="#9a48ae" opacity="0.45"/>
<circle cx="60.08" cy="656.64" r="0.56" fill="#9a48ae" opacity="0.45"/>
<circle cx="72.71" cy="669.96" r="0.53" fill="#9a48ae" opacity="0.45"/>
<circle cx="57.18" cy="666.63" r="0.75" fill="#9a48ae" opacity="0.45"/>
<circle cx="96.41" cy="652.47" r="0.82" fill="#9a48ae" opacity="0.45"/>
<circle cx="95.65" cy="671.18" r="0.55" fill="#9a48ae" opacity="0.45"/>
<circle cx="77.76" cy="643.97" r="0.84" fill="#9a48ae" opacity="0.45"/>
<circle cx="110.22" cy="675.47" r="0.51" fill="#9a48ae" opacity="0.45"/>
<circle cx="69.75" cy="662.58" r="0.71" fill="#9a48ae" opacity="0.45"/>
<circle cx="53.39" cy="671.65" r="0.62" fill="#9a48ae" opacity="0.45"/>
<circle cx="80.4" cy="647.86" r="0.73" fill="#9a48ae" opacity="0.45"/>
<circle cx="54.65" cy="646.56" r="0.7" fill="#9a48ae" opacity="0.45"/>
<circle cx="65.85" cy="671.23" r="0.6" fill="#9a48ae" opacity="0.45"/>
<circle cx="74.03" cy="645.34" r="0.59" fill="#9a48ae" opacity="0.45"/>
<circle cx="76.61" cy="663.38" r="0.68" fill="#9a48ae" opacity="0.45"/>
<circle cx="103.82" cy="647.14" r="0.84" fill="#9a48ae" opacity="0.45"/>
<circle cx="56.36" cy="678.14" r="0.71" fill="#9a48ae" opacity="0.45"/>
<circle cx="73.52" cy="665.32" r="0.85" fill="#9a48ae" opacity="0.45"/>
<circle cx="111.53" cy="658.2" r="0.5" fill="#9a48ae" opacity="0.45"/>
<circle cx="56.29" cy="672.7" r="0.79" fill="#9a48ae" opacity="0.45"/>
<circle cx="94.4" cy="649" r="0.71" fill="#9a48ae" opacity="0.45"/>
<circle cx="47.75" cy="647.35" r="0.62" fill="#9a48ae" opacity="0.45"/>
<circle cx="111.7" cy="666.42" r="0.84" fill="#9a48ae" opacity="0.45"/>
<circle cx="48.94" cy="658.3" r="0.53" fill="#9a48ae" opacity="0.45"/>
<circle cx="63.59" cy="647.4" r="0.87" fill="#9a48ae" opacity="0.45"/>
<circle cx="68.22" cy="660.91" r="0.76" fill="#9a48ae" opacity="0.45"/>
<circle cx="106.27" cy="677.28" r="0.73" fill="#9a48ae" opacity="0.45"/>
<circle cx="79.96" cy="675.76" r="0.66" fill="#9a48ae" opacity="0.45"/>
<circle cx="66.22" cy="669.87" r="0.6" fill="#9a48ae" opacity="0.45"/>
<circle cx="70.89" cy="658.77" r="0.69" fill="#9a48ae" opacity="0.45"/>
<circle cx="70.25" cy="658.81" r="0.68" fill="#9a48ae" opacity="0.45"/>
<circle cx="49.18" cy="673.32" r="0.52" fill="#9a48ae" opacity="0.45"/>
<circle cx="81.8" cy="663" r="0.66" fill="#9a48ae" opacity="0.45"/>
<circle cx="60.99" cy="646.95" r="0.65" fill="#9a48ae" opacity="0.45"/>
<circle cx="67.24" cy="660.73" r="0.59" fill="#9a48ae" opacity="0.45"/>
<circle cx="96.91" cy="660.85" r="0.5" fill="#9a48ae" opacity="0.45"/>
<circle cx="73.53" cy="677.99" r="0.5" fill="#9a48ae" opacity="0.45"/>
<circle cx="86.27" cy="677.8" r="0.65" fill="#9a48ae" opacity="0.45"/>
<circle cx="86.59" cy="656.61" r="0.62" fill="#9a48ae" opacity="0.45"/>
<circle cx="87.35" cy="664.5" r="0.63" fill="#9a48ae" opacity="0.45"/>
<circle cx="79.74" cy="661.88" r="0.8" fill="#9a48ae" opacity="0.45"/>
<circle cx="49.42" cy="646.72" r="0.6" fill="#9a48ae" opacity="0.45"/>
<circle cx="64.22" cy="671.88" r="0.67" fill="#9a48ae" opacity="0.45"/>
<circle cx="104.46" cy="657.8" r="0.61" fill="#9a48ae" opacity="0.45"/>
<circle cx="92.17" cy="646.46" r="0.89" fill="#9a48ae" opacity="0.45"/>
<circle cx="102.51" cy="655.15" r="0.63" fill="#9a48ae" opacity="0.45"/>
<circle cx="101.68" cy="671.62" r="0.76" fill="#9a48ae" opacity="0.45"/>
<circle cx="49.67" cy="670.74" r="0.52" fill="#9a48ae" opacity="0.45"/>
<circle cx="88.4" cy="663.16" r="0.87" fill="#9a48ae" opacity="0.45"/>
<circle cx="89.36" cy="644.2" r="0.87" fill="#9a48ae" opacity="0.45"/>
<circle cx="97.14" cy="664.16" r="0.5" fill="#9a48ae" opacity="0.45"/>
<circle cx="96.06" cy="658.38" r="0.77" fill="#9a48ae" opacity="0.45"/>
<circle cx="112.89" cy="676.22" r="0.53" fill="#9a48ae" opacity="0.45"/>
<circle cx="99.09" cy="659.17" r="0.8" fill="#9a48ae" opacity="0.45"/>
<circle cx="71.57" cy="659.43" r="0.67" fill="#9a48ae" opacity="0.45"/>
<circle cx="53.85" cy="654.85" r="0.79" fill="#9a48ae" opacity="0.45"/>
<circle cx="50.67" cy="647.55" r="0.83" fill="#9a48ae" opacity="0.45"/>
<circle cx="91.24" cy="663.02" r="0.55" fill="#9a48ae" opacity="0.45"/>
<circle cx="53.87" cy="654.5" r="0.88" fill="#9a48ae" opacity="0.45"/>
<circle cx="84.01" cy="676.42" r="0.58" fill="#9a48ae" opacity="0.45"/>
<circle cx="74.09" cy="662.6" r="0.84" fill="#9a48ae" opacity="0.45"/>
<circle cx="54.21" cy="674.68" r="0.69" fill="#9a48ae" opacity="0.45"/>
<circle cx="47.94" cy="658.86" r="0.65" fill="#9a48ae" opacity="0.45"/>
<circle cx="91.79" cy="676.63" r="0.7" fill="#9a48ae" opacity="0.45"/>
<circle cx="92.83" cy="657.29" r="0.81" fill="#9a48ae" opacity="0.45"/>
<circle cx="52.98" cy="669.98" r="0.57" fill="#9a48ae" opacity="0.45"/>
<circle cx="85.75" cy="650.64" r="0.64" fill="#9a48ae" opacity="0.45"/>
<circle cx="56.97" cy="655.92" r="0.74" fill="#9a48ae" opacity="0.45"/>
<circle cx="81.26" cy="657.31" r="0.73" fill="#9a48ae" opacity="0.45"/>
<circle cx="103.24" cy="656.23" r="0.73" fill="#9a48ae" opacity="0.45"/>
<circle cx="78.57" cy="678.51" r="0.63" fill="#9a48ae" opacity="0.45"/>
<circle cx="93.36" cy="651.76" r="0.6" fill="#9a48ae" opacity="0.45"/>
<circle cx="95.61" cy="663.98" r="0.6" fill="#9a48ae" opacity="0.45"/>
<circle cx="50.18" cy="672.93" r="0.65" fill="#9a48ae" opacity="0.45"/>
<circle cx="94.66" cy="658.89" r="0.75" fill="#9a48ae" opacity="0.45"/>
<circle cx="83.96" cy="678.33" r="0.86" fill="#9a48ae" opacity="0.45"/>
<circle cx="76.88" cy="660.83" r="0.59" fill="#9a48ae" opacity="0.45"/>
<circle cx="97.16" cy="647.06" r="0.62" fill="#9a48ae" opacity="0.45"/>
<circle cx="103.59" cy="644.66" r="0.78" fill="#9a48ae" opacity="0.45"/>
<circle cx="84.54" cy="663.14" r="0.63" fill="#9a48ae" opacity="0.45"/>
<circle cx="56.14" cy="677.44" r="0.81" fill="#9a48ae" opacity="0.45"/>
<circle cx="100.75" cy="646.9" r="0.81" fill="#9a48ae" opacity="0.45"/>
<circle cx="60.7" cy="650.53" r="0.71" fill="#9a48ae" opacity="0.45"/>
<circle cx="87.39" cy="647.72" r="0.81" fill="#9a48ae" opacity="0.45"/>
<circle cx="85.52" cy="675.6" r="0.87" fill="#9a48ae" opacity="0.45"/>
<circle cx="92.81" cy="656.43" r="0.88" fill="#9a48ae" opacity="0.45"/>
<circle cx="94.81" cy="653.81" r="0.84" fill="#9a48ae" opacity="0.45"/>
<circle cx="95.37" cy="652.88" r="0.6" fill="#9a48ae" opacity="0.45"/>
<circle cx="47.19" cy="662.63" r="0.6" fill="#9a48ae" opacity="0.45"/>
<circle cx="65.79" cy="652.45" r="0.55" fill="#9a48ae" opacity="0.45"/>
<circle cx="78.87" cy="653.16" r="0.61" fill="#9a48ae" opacity="0.45"/>
<circle cx="64.73" cy="661.63" r="0.85" fill="#9a48ae" opacity="0.45"/>
<circle cx="56.72" cy="674.17" r="0.84" fill="#9a48ae" opacity="0.45"/>
<circle cx="87.36" cy="662.87" r="0.79" fill="#9a48ae" opacity="0.45"/>
<circle cx="82.26" cy="667.03" r="0.87" fill="#9a48ae" opacity="0.45"/>
<circle cx="98.67" cy="652.7" r="0.52" fill="#9a48ae" opacity="0.45"/>
<circle cx="109.68" cy="656.38" r="0.81" fill="#9a48ae" opacity="0.45"/>
<circle cx="61.72" cy="659.61" r="0.65" fill="#9a48ae" opacity="0.45"/>
<circle cx="95.53" cy="677.18" r="0.7" fill="#9a48ae" opacity="0.45"/>
<circle cx="84.4" cy="655.89" r="0.59" fill="#9a48ae" opacity="0.45"/>
<circle cx="110.58" cy="647.35" r="0.88" fill="#9a48ae" opacity="0.45"/>
<circle cx="90.62" cy="645.97" r="0.86" fill="#9a48ae" opacity="0.45"/>
<circle cx="52.76" cy="663.64" r="0.55" fill="#9a48ae" opacity="0.45"/>
<circle cx="113.24" cy="654.47" r="0.85" fill="#9a48ae" opacity="0.45"/>
<circle cx="49.99" cy="667.26" r="0.53" fill="#9a48ae" opacity="0.45"/>
<circle cx="47.82" cy="663.84" r="0.89" fill="#9a48ae" opacity="0.45"/>
<circle cx="92.53" cy="674.02" r="0.81" fill="#9a48ae" opacity="0.45"/>
<circle cx="81.34" cy="646.16" r="0.71" fill="#9a48ae" opacity="0.45"/>
<circle cx="58.39" cy="662.26" r="0.64" fill="#9a48ae" opacity="0.45"/>
<circle cx="79.83" cy="650.47" r="0.78" fill="#9a48ae" opacity="0.45"/>
<circle cx="74.26" cy="660.8" r="0.53" fill="#9a48ae" opacity="0.45"/>
<circle cx="79.01" cy="663.36" r="0.89" fill="#9a48ae" opacity="0.45"/>
<circle cx="84.09" cy="648.23" r="0.62" fill="#9a48ae" opacity="0.45"/>
<circle cx="68.69" cy="668.53" r="0.88" fill="#9a48ae" opacity="0.45"/>
<circle cx="112.36" cy="677.41" r="0.87" fill="#9a48ae" opacity="0.45"/>
<circle cx="104.36" cy="676.87" r="0.51" fill="#9a48ae" opacity="0.45"/>
<circle cx="79.2" cy="664.55" r="0.77" fill="#9a48ae" opacity="0.45"/>
<circle cx="87.59" cy="665.35" r="0.87" fill="#9a48ae" opacity="0.45"/>
<circle cx="51.69" cy="661.99" r="0.88" fill="#9a48ae" opacity="0.45"/>
<circle cx="47.97" cy="647.4" r="0.85" fill="#9a48ae" opacity="0.45"/>
<circle cx="111.08" cy="644.26" r="0.51" fill="#9a48ae" opacity="0.45"/>
<circle cx="102.39" cy="668.05" r="0.71" fill="#9a48ae" opacity="0.45"/>
<circle cx="85.36" cy="670.51" r="0.82" fill="#9a48ae" opacity="0.45"/>
<circle cx="45.85" cy="645.83" r="0.82" fill="#9a48ae" opacity="0.45"/>
<circle cx="112.32" cy="673.24" r="0.66" fill="#9a48ae" opacity="0.45"/>
<circle cx="68.68" cy="655.81" r="0.51" fill="#9a48ae" opacity="0.45"/>
<circle cx="98.33" cy="652.79" r="0.73" fill="#9a48ae" opacity="0.45"/>
<circle cx="81.68" cy="655.41" r="0.77" fill="#9a48ae" opacity="0.45"/>
<circle cx="76.82" cy="651.79" r="0.85" fill="#9a48ae" opacity="0.45"/>
<circle cx="57.78" cy="648.77" r="0.6" fill="#9a48ae" opacity="0.45"/>
<circle cx="78.47" cy="671.45" r="0.63" fill="#9a48ae" opacity="0.45"/>
<circle cx="62.05" cy="666.83" r="0.6" fill="#9a48ae" opacity="0.45"/>
<circle cx="81.45" cy="652.53" r="0.85" fill="#9a48ae" opacity="0.45"/>
<circle cx="58.38" cy="651.71" r="0.62" fill="#9a48ae" opacity="0.45"/>
<circle cx="68.28" cy="669.41" r="0.77" fill="#9a48ae" opacity="0.45"/>
<circle cx="99.7" cy="662.74" r="0.53" fill="#9a48ae" opacity="0.45"/>
<circle cx="97.87" cy="652.15" r="0.59" fill="#9a48ae" opacity="0.45"/>
<circle cx="74.06" cy="678.83" r="0.65" fill="#9a48ae" opacity="0.45"/>
<circle cx="70.11" cy="676.01" r="0.9" fill="#9a48ae" opacity="0.45"/>
<circle cx="72.2" cy="648.25" r="0.82" fill="#9a48ae" opacity="0.45"/>
<circle cx="99.15" cy="655.51" r="0.82" fill="#9a48ae" opacity="0.45"/>
<circle cx="71.68" cy="653.68" r="0.74" fill="#9a48ae" opacity="0.45"/>
<circle cx="96.37" cy="660.44" r="0.83" fill="#9a48ae" opacity="0.45"/>
<circle cx="46.74" cy="661.26" r="0.65" fill="#9a48ae" opacity="0.45"/>
<circle cx="50.24" cy="676.14" r="0.56" fill="#9a48ae" opacity="0.45"/>
<circle cx="59.82" cy="674.84" r="0.88" fill="#9a48ae" opacity="0.45"/>
<circle cx="109.33" cy="655.64" r="0.87" fill="#9a48ae" opacity="0.45"/>
<circle cx="55.47" cy="668.98" r="0.88" fill="#9a48ae" opacity="0.45"/>
<circle cx="58.94" cy="648.26" r="0.77" fill="#9a48ae" opacity="0.45"/>
<circle cx="105.99" cy="669.41" r="0.88" fill="#9a48ae" opacity="0.45"/>
<circle cx="76.75" cy="656.73" r="0.55" fill="#9a48ae" opacity="0.45"/>
<circle cx="64.42" cy="677.01" r="0.53" fill="#9a48ae" opacity="0.45"/>
<circle cx="58.41" cy="655.84" r="0.52" fill="#9a48ae" opacity="0.45"/>
<circle cx="66.73" cy="649.95" r="0.55" fill="#9a48ae" opacity="0.45"/>
<circle cx="81.73" cy="662.74" r="0.73" fill="#9a48ae" opacity="0.45"/>
<circle cx="97.79" cy="662.26" r="0.88" fill="#9a48ae" opacity="0.45"/>
<circle cx="51.36" cy="651.38" r="0.53" fill="#9a48ae" opacity="0.45"/>
<path d="M45.8 644.2 L51.4 640.2 L58.1 637.5 L69.6 636.1 L78.3 634.8 L86.4 632.7 L93.4 630.7 L94.5 628 L105.2 626.7 L113.3 625.3 L115 625.2 L114 643.9 L110.6 644 L95.8 647.9 L86.4 649 L70.8 649.6 L59.5 650 L45.8 653Z" fill="#8e48a6"/>
<path d="M45.8 625.4 L114 625.4 L115 625.2 L113.3 625.3 L105.2 626.7 L94.5 628 L93.4 630.7 L86.4 632.7 L78.3 634.8 L69.6 636.1 L58.1 637.5 L51.4 640.2 L45.8 644.2Z" fill="#dcd9de"/>
<line x1="51.3" y1="641.87" x2="51.3" y2="648.7" stroke="#e2d2ea" stroke-width="1.7" stroke-linecap="round" opacity="0.9"/>
<line x1="55.8" y1="640.03" x2="55.8" y2="648.7" stroke="#e2d2ea" stroke-width="1.7" stroke-linecap="round" opacity="0.9"/>
<line x1="60.3" y1="638.83" x2="60.3" y2="648.7" stroke="#e2d2ea" stroke-width="1.7" stroke-linecap="round" opacity="0.9"/>
<line x1="64.8" y1="638.28" x2="64.8" y2="648.7" stroke="#e2d2ea" stroke-width="1.7" stroke-linecap="round" opacity="0.9"/>
<line x1="69.3" y1="637.74" x2="69.3" y2="648.7" stroke="#e2d2ea" stroke-width="1.7" stroke-linecap="round" opacity="0.9"/>
<line x1="73.8" y1="637.07" x2="73.8" y2="648.7" stroke="#e2d2ea" stroke-width="1.7" stroke-linecap="round" opacity="0.9"/>
<line x1="78.3" y1="636.4" x2="78.3" y2="648.7" stroke="#e2d2ea" stroke-width="1.7" stroke-linecap="round" opacity="0.9"/>
<line x1="82.8" y1="635.23" x2="82.8" y2="648.7" stroke="#e2d2ea" stroke-width="1.7" stroke-linecap="round" opacity="0.9"/>
<line x1="87.3" y1="634.04" x2="87.3" y2="648.7" stroke="#e2d2ea" stroke-width="1.7" stroke-linecap="round" opacity="0.9"/>
<line x1="91.8" y1="632.76" x2="91.8" y2="648.4" stroke="#e2d2ea" stroke-width="1.7" stroke-linecap="round" opacity="0.9"/>
<line x1="96.3" y1="629.38" x2="96.3" y2="647.05" stroke="#e2d2ea" stroke-width="1.7" stroke-linecap="round" opacity="0.9"/>
<line x1="100.8" y1="628.83" x2="100.8" y2="645.7" stroke="#e2d2ea" stroke-width="1.7" stroke-linecap="round" opacity="0.9"/>
<line x1="105.3" y1="628.28" x2="105.3" y2="644.35" stroke="#e2d2ea" stroke-width="1.7" stroke-linecap="round" opacity="0.9"/>
<line x1="109.8" y1="627.5" x2="109.8" y2="643" stroke="#e2d2ea" stroke-width="1.7" stroke-linecap="round" opacity="0.9"/>
<path d="M45.8 673.4 Q75.8 669.9 104.8 666.6 L104.3 669 Q75.8 672.4 45.8 676.6 Z" fill="#ebe5ec"/>
</g></g>
<g clip-path="url(#cp3)">
<path d="M45.8 625.4 L114 625.4 L115 625.2 L113.3 625.3 L105.2 626.7 L94.5 628 L93.4 630.7 L86.4 632.7 L78.3 634.8 L69.6 636.1 L58.1 637.5 L51.4 640.2 L45.8 644.2Z" fill="#dedadf"/>
</g>
<g clip-path="url(#cp4)"><g filter="url(#tex4)">
<rect x="115.4" y="625.4" width="68.3" height="53.8" fill="#e2a2d4"/>
<path d="M115.4 625.4 L183.7 625.4 L183.7 631.9 L155.4 632.2 L135.4 631.4 L115.4 631.9Z" fill="#e9c4e2"/>
<rect x="115.4" y="625.4" width="17" height="4.5" fill="#e4e0e6"/>
<circle cx="136.4" cy="627.6" r="1.5" fill="#f4e4f2" stroke="#c27ac8" stroke-width="0.7"/>
<circle cx="141" cy="627.6" r="1.5" fill="#f4e4f2" stroke="#c27ac8" stroke-width="0.7"/>
<circle cx="145.6" cy="627.6" r="1.5" fill="#f4e4f2" stroke="#c27ac8" stroke-width="0.7"/>
<circle cx="150.2" cy="627.6" r="1.5" fill="#f4e4f2" stroke="#c27ac8" stroke-width="0.7"/>
<circle cx="154.8" cy="627.6" r="1.5" fill="#f4e4f2" stroke="#c27ac8" stroke-width="0.7"/>
<circle cx="159.4" cy="627.6" r="1.5" fill="#f4e4f2" stroke="#c27ac8" stroke-width="0.7"/>
<circle cx="164" cy="627.6" r="1.5" fill="#f4e4f2" stroke="#c27ac8" stroke-width="0.7"/>
<circle cx="168.6" cy="627.6" r="1.5" fill="#f4e4f2" stroke="#c27ac8" stroke-width="0.7"/>
<circle cx="173.2" cy="627.6" r="1.5" fill="#f4e4f2" stroke="#c27ac8" stroke-width="0.7"/>
<circle cx="177.8" cy="627.6" r="1.5" fill="#f4e4f2" stroke="#c27ac8" stroke-width="0.7"/>
<path d="M115.4 631.9 L135.4 631.4 L155.4 632.2 L183.7 631.9 L183.7 658.9 L170.4 663.4 L155.4 666.9 L140.4 668.4 L125.4 667.9 L115.4 668.4Z" fill="#a862bb"/>
<path d="M127.4 631 Q155.4 633.2 183.7 632.2" fill="none" stroke="#f1e2f0" stroke-width="1.2"/>
<circle cx="116.63" cy="635.26" r="1.93" fill="#cfa4da" stroke="#9448aa" stroke-width="0.6"/>
<circle cx="116.64" cy="635.06" r="0.6" fill="#f6eaf6"/>
<circle cx="120.66" cy="635" r="1.81" fill="#cfa4da" stroke="#9448aa" stroke-width="0.6"/>
<circle cx="120.84" cy="635.28" r="0.6" fill="#f6eaf6"/>
<circle cx="124.84" cy="635.04" r="1.92" fill="#cfa4da" stroke="#9448aa" stroke-width="0.6"/>
<circle cx="124.82" cy="634.86" r="0.6" fill="#f6eaf6"/>
<circle cx="129.52" cy="635.57" r="1.75" fill="#cfa4da" stroke="#9448aa" stroke-width="0.6"/>
<circle cx="129.68" cy="635.51" r="0.6" fill="#f6eaf6"/>
<circle cx="132.27" cy="634.43" r="1.78" fill="#cfa4da" stroke="#9448aa" stroke-width="0.6"/>
<circle cx="132.41" cy="634.25" r="0.6" fill="#f6eaf6"/>
<circle cx="136.23" cy="634.51" r="1.91" fill="#cfa4da" stroke="#9448aa" stroke-width="0.6"/>
<circle cx="136.23" cy="634.6" r="0.6" fill="#f6eaf6"/>
<circle cx="140.85" cy="634.46" r="1.75" fill="#cfa4da" stroke="#9448aa" stroke-width="0.6"/>
<circle cx="140.73" cy="634.18" r="0.6" fill="#f6eaf6"/>
<circle cx="144.56" cy="635.07" r="1.82" fill="#cfa4da" stroke="#9448aa" stroke-width="0.6"/>
<circle cx="144.55" cy="635.14" r="0.6" fill="#f6eaf6"/>
<circle cx="148.64" cy="634.7" r="1.93" fill="#cfa4da" stroke="#9448aa" stroke-width="0.6"/>
<circle cx="148.69" cy="634.65" r="0.6" fill="#f6eaf6"/>
<circle cx="152.96" cy="634.84" r="1.82" fill="#cfa4da" stroke="#9448aa" stroke-width="0.6"/>
<circle cx="153.2" cy="634.68" r="0.6" fill="#f6eaf6"/>
<circle cx="157.51" cy="635.39" r="1.93" fill="#cfa4da" stroke="#9448aa" stroke-width="0.6"/>
<circle cx="157.31" cy="635.4" r="0.6" fill="#f6eaf6"/>
<circle cx="161.58" cy="634.6" r="1.78" fill="#cfa4da" stroke="#9448aa" stroke-width="0.6"/>
<circle cx="161.71" cy="634.45" r="0.6" fill="#f6eaf6"/>
<circle cx="165.02" cy="634.42" r="1.94" fill="#cfa4da" stroke="#9448aa" stroke-width="0.6"/>
<circle cx="164.89" cy="634.18" r="0.6" fill="#f6eaf6"/>
<circle cx="169.16" cy="634.69" r="1.86" fill="#cfa4da" stroke="#9448aa" stroke-width="0.6"/>
<circle cx="169.16" cy="634.94" r="0.6" fill="#f6eaf6"/>
<circle cx="172.92" cy="634.73" r="1.75" fill="#cfa4da" stroke="#9448aa" stroke-width="0.6"/>
<circle cx="172.92" cy="634.59" r="0.6" fill="#f6eaf6"/>
<circle cx="177" cy="635.08" r="1.84" fill="#cfa4da" stroke="#9448aa" stroke-width="0.6"/>
<circle cx="176.76" cy="635.08" r="0.6" fill="#f6eaf6"/>
<circle cx="180.87" cy="635.1" r="1.94" fill="#cfa4da" stroke="#9448aa" stroke-width="0.6"/>
<circle cx="180.74" cy="635.06" r="0.6" fill="#f6eaf6"/>
<circle cx="118.32" cy="639.32" r="1.8" fill="#cfa4da" stroke="#9448aa" stroke-width="0.6"/>
<circle cx="118.52" cy="639.5" r="0.6" fill="#f6eaf6"/>
<circle cx="122.56" cy="639.46" r="1.85" fill="#cfa4da" stroke="#9448aa" stroke-width="0.6"/>
<circle cx="122.51" cy="639.5" r="0.6" fill="#f6eaf6"/>
<circle cx="127.52" cy="638.89" r="1.85" fill="#cfa4da" stroke="#9448aa" stroke-width="0.6"/>
<circle cx="127.4" cy="639.09" r="0.6" fill="#f6eaf6"/>
<circle cx="130.9" cy="638.68" r="1.79" fill="#cfa4da" stroke="#9448aa" stroke-width="0.6"/>
<circle cx="130.73" cy="638.88" r="0.6" fill="#f6eaf6"/>
<circle cx="135.32" cy="639.57" r="1.93" fill="#cfa4da" stroke="#9448aa" stroke-width="0.6"/>
<circle cx="135.44" cy="639.75" r="0.6" fill="#f6eaf6"/>
<circle cx="139.2" cy="639.33" r="1.91" fill="#cfa4da" stroke="#9448aa" stroke-width="0.6"/>
<circle cx="139" cy="639.52" r="0.6" fill="#f6eaf6"/>
<circle cx="142.62" cy="638.54" r="1.93" fill="#cfa4da" stroke="#9448aa" stroke-width="0.6"/>
<circle cx="142.34" cy="638.55" r="0.6" fill="#f6eaf6"/>
<circle cx="146.68" cy="639.31" r="1.87" fill="#cfa4da" stroke="#9448aa" stroke-width="0.6"/>
<circle cx="146.93" cy="639.57" r="0.6" fill="#f6eaf6"/>
<circle cx="151.1" cy="638.29" r="1.88" fill="#cfa4da" stroke="#9448aa" stroke-width="0.6"/>
<circle cx="150.87" cy="638.58" r="0.6" fill="#f6eaf6"/>
<circle cx="155.42" cy="638.63" r="1.79" fill="#cfa4da" stroke="#9448aa" stroke-width="0.6"/>
<circle cx="155.54" cy="638.79" r="0.6" fill="#f6eaf6"/>
<circle cx="159.58" cy="639.07" r="1.78" fill="#cfa4da" stroke="#9448aa" stroke-width="0.6"/>
<circle cx="159.72" cy="638.81" r="0.6" fill="#f6eaf6"/>
<circle cx="163.41" cy="639.28" r="1.91" fill="#cfa4da" stroke="#9448aa" stroke-width="0.6"/>
<circle cx="163.64" cy="639.32" r="0.6" fill="#f6eaf6"/>
<circle cx="167.52" cy="639.09" r="1.85" fill="#cfa4da" stroke="#9448aa" stroke-width="0.6"/>
<circle cx="167.45" cy="639.01" r="0.6" fill="#f6eaf6"/>
<circle cx="170.23" cy="638.43" r="1.91" fill="#cfa4da" stroke="#9448aa" stroke-width="0.6"/>
<circle cx="170.07" cy="638.52" r="0.6" fill="#f6eaf6"/>
<circle cx="175.29" cy="639.17" r="1.85" fill="#cfa4da" stroke="#9448aa" stroke-width="0.6"/>
<circle cx="175.17" cy="639.04" r="0.6" fill="#f6eaf6"/>
<circle cx="178.46" cy="639.11" r="1.89" fill="#cfa4da" stroke="#9448aa" stroke-width="0.6"/>
<circle cx="178.73" cy="639.01" r="0.6" fill="#f6eaf6"/>
<circle cx="183.5" cy="639.48" r="1.81" fill="#cfa4da" stroke="#9448aa" stroke-width="0.6"/>
<circle cx="183.77" cy="639.55" r="0.6" fill="#f6eaf6"/>
<circle cx="117.55" cy="643.28" r="1.82" fill="#cfa4da" stroke="#9448aa" stroke-width="0.6"/>
<circle cx="117.42" cy="643.3" r="0.6" fill="#f6eaf6"/>
<circle cx="120.88" cy="642.25" r="1.92" fill="#cfa4da" stroke="#9448aa" stroke-width="0.6"/>
<circle cx="120.9" cy="642.23" r="0.6" fill="#f6eaf6"/>
<circle cx="125.24" cy="642.55" r="1.79" fill="#cfa4da" stroke="#9448aa" stroke-width="0.6"/>
<circle cx="125.29" cy="642.39" r="0.6" fill="#f6eaf6"/>
<circle cx="128.66" cy="642.3" r="1.76" fill="#cfa4da" stroke="#9448aa" stroke-width="0.6"/>
<circle cx="128.57" cy="642.31" r="0.6" fill="#f6eaf6"/>
<circle cx="133.53" cy="643.1" r="1.83" fill="#cfa4da" stroke="#9448aa" stroke-width="0.6"/>
<circle cx="133.47" cy="642.94" r="0.6" fill="#f6eaf6"/>
<circle cx="136.86" cy="643.54" r="1.77" fill="#cfa4da" stroke="#9448aa" stroke-width="0.6"/>
<circle cx="136.82" cy="643.65" r="0.6" fill="#f6eaf6"/>
<circle cx="141.27" cy="642.98" r="1.88" fill="#cfa4da" stroke="#9448aa" stroke-width="0.6"/>
<circle cx="141.53" cy="643.22" r="0.6" fill="#f6eaf6"/>
<circle cx="144.55" cy="642.96" r="1.95" fill="#cfa4da" stroke="#9448aa" stroke-width="0.6"/>
<circle cx="144.57" cy="642.77" r="0.6" fill="#f6eaf6"/>
<circle cx="149.27" cy="642.28" r="1.78" fill="#cfa4da" stroke="#9448aa" stroke-width="0.6"/>
<circle cx="149.3" cy="642.14" r="0.6" fill="#f6eaf6"/>
<circle cx="153.21" cy="643.22" r="1.81" fill="#cfa4da" stroke="#9448aa" stroke-width="0.6"/>
<circle cx="153.37" cy="643.31" r="0.6" fill="#f6eaf6"/>
<circle cx="157.19" cy="642.84" r="1.84" fill="#cfa4da" stroke="#9448aa" stroke-width="0.6"/>
<circle cx="156.95" cy="642.82" r="0.6" fill="#f6eaf6"/>
<circle cx="161.54" cy="643.44" r="1.76" fill="#cfa4da" stroke="#9448aa" stroke-width="0.6"/>
<circle cx="161.28" cy="643.31" r="0.6" fill="#f6eaf6"/>
<circle cx="165.17" cy="642.81" r="1.78" fill="#cfa4da" stroke="#9448aa" stroke-width="0.6"/>
<circle cx="165.13" cy="642.86" r="0.6" fill="#f6eaf6"/>
<circle cx="169.24" cy="642.76" r="1.88" fill="#cfa4da" stroke="#9448aa" stroke-width="0.6"/>
<circle cx="169.35" cy="642.83" r="0.6" fill="#f6eaf6"/>
<circle cx="172.26" cy="643.19" r="1.78" fill="#cfa4da" stroke="#9448aa" stroke-width="0.6"/>
<circle cx="172" cy="643.18" r="0.6" fill="#f6eaf6"/>
<circle cx="176.22" cy="642.3" r="1.83" fill="#cfa4da" stroke="#9448aa" stroke-width="0.6"/>
<circle cx="176.2" cy="642.07" r="0.6" fill="#f6eaf6"/>
<circle cx="181.54" cy="643.39" r="1.85" fill="#cfa4da" stroke="#9448aa" stroke-width="0.6"/>
<circle cx="181.59" cy="643.28" r="0.6" fill="#f6eaf6"/>
<circle cx="119.58" cy="646.37" r="1.81" fill="#cfa4da" stroke="#9448aa" stroke-width="0.6"/>
<circle cx="119.41" cy="646.59" r="0.6" fill="#f6eaf6"/>
<circle cx="122.91" cy="646.77" r="1.83" fill="#cfa4da" stroke="#9448aa" stroke-width="0.6"/>
<circle cx="123.14" cy="646.63" r="0.6" fill="#f6eaf6"/>
<circle cx="127.31" cy="647.19" r="1.84" fill="#cfa4da" stroke="#9448aa" stroke-width="0.6"/>
<circle cx="127.23" cy="647.15" r="0.6" fill="#f6eaf6"/>
<circle cx="130.83" cy="646.64" r="1.87" fill="#cfa4da" stroke="#9448aa" stroke-width="0.6"/>
<circle cx="130.78" cy="646.52" r="0.6" fill="#f6eaf6"/>
<circle cx="135.28" cy="646.84" r="1.84" fill="#cfa4da" stroke="#9448aa" stroke-width="0.6"/>
<circle cx="135.51" cy="646.81" r="0.6" fill="#f6eaf6"/>
<circle cx="138.73" cy="647.46" r="1.95" fill="#cfa4da" stroke="#9448aa" stroke-width="0.6"/>
<circle cx="138.9" cy="647.4" r="0.6" fill="#f6eaf6"/>
<circle cx="143.14" cy="647.24" r="1.81" fill="#cfa4da" stroke="#9448aa" stroke-width="0.6"/>
<circle cx="143.27" cy="647.51" r="0.6" fill="#f6eaf6"/>
<circle cx="147.12" cy="647.14" r="1.84" fill="#cfa4da" stroke="#9448aa" stroke-width="0.6"/>
<circle cx="147.21" cy="646.97" r="0.6" fill="#f6eaf6"/>
<circle cx="151.28" cy="646.95" r="1.95" fill="#cfa4da" stroke="#9448aa" stroke-width="0.6"/>
<circle cx="151.18" cy="647.08" r="0.6" fill="#f6eaf6"/>
<circle cx="154.22" cy="646.78" r="1.9" fill="#cfa4da" stroke="#9448aa" stroke-width="0.6"/>
<circle cx="154.08" cy="646.85" r="0.6" fill="#f6eaf6"/>
<circle cx="158.51" cy="646.76" r="1.95" fill="#cfa4da" stroke="#9448aa" stroke-width="0.6"/>
<circle cx="158.33" cy="647.01" r="0.6" fill="#f6eaf6"/>
<circle cx="162.28" cy="647.02" r="1.91" fill="#cfa4da" stroke="#9448aa" stroke-width="0.6"/>
<circle cx="162.49" cy="646.95" r="0.6" fill="#f6eaf6"/>
<circle cx="167.03" cy="647.2" r="1.9" fill="#cfa4da" stroke="#9448aa" stroke-width="0.6"/>
<circle cx="167.17" cy="647.24" r="0.6" fill="#f6eaf6"/>
<circle cx="170.55" cy="647.19" r="1.86" fill="#cfa4da" stroke="#9448aa" stroke-width="0.6"/>
<circle cx="170.58" cy="647.48" r="0.6" fill="#f6eaf6"/>
<circle cx="174.39" cy="647.29" r="1.81" fill="#cfa4da" stroke="#9448aa" stroke-width="0.6"/>
<circle cx="174.53" cy="647.56" r="0.6" fill="#f6eaf6"/>
<circle cx="178.58" cy="646.99" r="1.86" fill="#cfa4da" stroke="#9448aa" stroke-width="0.6"/>
<circle cx="178.58" cy="646.79" r="0.6" fill="#f6eaf6"/>
<circle cx="183.08" cy="647.45" r="1.88" fill="#cfa4da" stroke="#9448aa" stroke-width="0.6"/>
<circle cx="182.95" cy="647.63" r="0.6" fill="#f6eaf6"/>
<circle cx="116.79" cy="650.4" r="1.87" fill="#cfa4da" stroke="#9448aa" stroke-width="0.6"/>
<circle cx="116.76" cy="650.42" r="0.6" fill="#f6eaf6"/>
<circle cx="121.59" cy="651" r="1.94" fill="#cfa4da" stroke="#9448aa" stroke-width="0.6"/>
<circle cx="121.5" cy="651.15" r="0.6" fill="#f6eaf6"/>
<circle cx="124.31" cy="650.62" r="1.89" fill="#cfa4da" stroke="#9448aa" stroke-width="0.6"/>
<circle cx="124.42" cy="650.82" r="0.6" fill="#f6eaf6"/>
<circle cx="128.73" cy="650.58" r="1.82" fill="#cfa4da" stroke="#9448aa" stroke-width="0.6"/>
<circle cx="128.75" cy="650.3" r="0.6" fill="#f6eaf6"/>
<circle cx="132.72" cy="651.12" r="1.78" fill="#cfa4da" stroke="#9448aa" stroke-width="0.6"/>
<circle cx="132.61" cy="651.34" r="0.6" fill="#f6eaf6"/>
<circle cx="137.51" cy="650.55" r="1.79" fill="#cfa4da" stroke="#9448aa" stroke-width="0.6"/>
<circle cx="137.28" cy="650.3" r="0.6" fill="#f6eaf6"/>
<circle cx="141.31" cy="651.23" r="1.8" fill="#cfa4da" stroke="#9448aa" stroke-width="0.6"/>
<circle cx="141.31" cy="651.35" r="0.6" fill="#f6eaf6"/>
<circle cx="144.24" cy="651.35" r="1.92" fill="#cfa4da" stroke="#9448aa" stroke-width="0.6"/>
<circle cx="144.07" cy="651.47" r="0.6" fill="#f6eaf6"/>
<circle cx="149.18" cy="650.67" r="1.93" fill="#cfa4da" stroke="#9448aa" stroke-width="0.6"/>
<circle cx="149.01" cy="650.66" r="0.6" fill="#f6eaf6"/>
<circle cx="152.64" cy="650.82" r="1.91" fill="#cfa4da" stroke="#9448aa" stroke-width="0.6"/>
<circle cx="152.68" cy="650.88" r="0.6" fill="#f6eaf6"/>
<circle cx="157.58" cy="650.51" r="1.79" fill="#cfa4da" stroke="#9448aa" stroke-width="0.6"/>
<circle cx="157.65" cy="650.3" r="0.6" fill="#f6eaf6"/>
<circle cx="161.55" cy="650.68" r="1.84" fill="#cfa4da" stroke="#9448aa" stroke-width="0.6"/>
<circle cx="161.51" cy="650.87" r="0.6" fill="#f6eaf6"/>
<circle cx="165.48" cy="651.15" r="1.78" fill="#cfa4da" stroke="#9448aa" stroke-width="0.6"/>
<circle cx="165.39" cy="651.27" r="0.6" fill="#f6eaf6"/>
<circle cx="168.5" cy="651.44" r="1.92" fill="#cfa4da" stroke="#9448aa" stroke-width="0.6"/>
<circle cx="168.34" cy="651.35" r="0.6" fill="#f6eaf6"/>
<circle cx="172.52" cy="651.21" r="1.76" fill="#cfa4da" stroke="#9448aa" stroke-width="0.6"/>
<circle cx="172.64" cy="650.94" r="0.6" fill="#f6eaf6"/>
<circle cx="177.38" cy="650.96" r="1.87" fill="#cfa4da" stroke="#9448aa" stroke-width="0.6"/>
<circle cx="177.13" cy="650.69" r="0.6" fill="#f6eaf6"/>
<circle cx="180.69" cy="651.58" r="1.87" fill="#cfa4da" stroke="#9448aa" stroke-width="0.6"/>
<circle cx="180.91" cy="651.32" r="0.6" fill="#f6eaf6"/>
<circle cx="118.34" cy="654.23" r="1.89" fill="#cfa4da" stroke="#9448aa" stroke-width="0.6"/>
<circle cx="118.15" cy="654.09" r="0.6" fill="#f6eaf6"/>
<circle cx="123.13" cy="655.17" r="1.81" fill="#cfa4da" stroke="#9448aa" stroke-width="0.6"/>
<circle cx="123.11" cy="655.05" r="0.6" fill="#f6eaf6"/>
<circle cx="126.99" cy="654.7" r="1.82" fill="#cfa4da" stroke="#9448aa" stroke-width="0.6"/>
<circle cx="126.84" cy="654.57" r="0.6" fill="#f6eaf6"/>
<circle cx="130.57" cy="654.22" r="1.81" fill="#cfa4da" stroke="#9448aa" stroke-width="0.6"/>
<circle cx="130.62" cy="654.08" r="0.6" fill="#f6eaf6"/>
<circle cx="134.36" cy="655.38" r="1.84" fill="#cfa4da" stroke="#9448aa" stroke-width="0.6"/>
<circle cx="134.37" cy="655.27" r="0.6" fill="#f6eaf6"/>
<circle cx="139.44" cy="655.26" r="1.87" fill="#cfa4da" stroke="#9448aa" stroke-width="0.6"/>
<circle cx="139.54" cy="655.37" r="0.6" fill="#f6eaf6"/>
<circle cx="142.9" cy="654.78" r="1.83" fill="#cfa4da" stroke="#9448aa" stroke-width="0.6"/>
<circle cx="142.9" cy="654.76" r="0.6" fill="#f6eaf6"/>
<circle cx="146.94" cy="654.95" r="1.91" fill="#cfa4da" stroke="#9448aa" stroke-width="0.6"/>
<circle cx="147.18" cy="654.78" r="0.6" fill="#f6eaf6"/>
<circle cx="150.23" cy="654.62" r="1.76" fill="#cfa4da" stroke="#9448aa" stroke-width="0.6"/>
<circle cx="150.41" cy="654.69" r="0.6" fill="#f6eaf6"/>
<circle cx="154.6" cy="654.47" r="1.92" fill="#cfa4da" stroke="#9448aa" stroke-width="0.6"/>
<circle cx="154.8" cy="654.58" r="0.6" fill="#f6eaf6"/>
<circle cx="159.17" cy="655.24" r="1.84" fill="#cfa4da" stroke="#9448aa" stroke-width="0.6"/>
<circle cx="159.11" cy="655.27" r="0.6" fill="#f6eaf6"/>
<circle cx="163.43" cy="655.59" r="1.93" fill="#cfa4da" stroke="#9448aa" stroke-width="0.6"/>
<circle cx="163.63" cy="655.33" r="0.6" fill="#f6eaf6"/>
<circle cx="166.55" cy="655.56" r="1.86" fill="#cfa4da" stroke="#9448aa" stroke-width="0.6"/>
<circle cx="166.55" cy="655.45" r="0.6" fill="#f6eaf6"/>
<circle cx="171.41" cy="654.92" r="1.95" fill="#cfa4da" stroke="#9448aa" stroke-width="0.6"/>
<circle cx="171.15" cy="655.22" r="0.6" fill="#f6eaf6"/>
<circle cx="174.22" cy="654.41" r="1.83" fill="#cfa4da" stroke="#9448aa" stroke-width="0.6"/>
<circle cx="174.3" cy="654.17" r="0.6" fill="#f6eaf6"/>
<circle cx="178.99" cy="655.52" r="1.84" fill="#cfa4da" stroke="#9448aa" stroke-width="0.6"/>
<circle cx="179.14" cy="655.57" r="0.6" fill="#f6eaf6"/>
<circle cx="183.02" cy="654.44" r="1.84" fill="#cfa4da" stroke="#9448aa" stroke-width="0.6"/>
<circle cx="183.26" cy="654.55" r="0.6" fill="#f6eaf6"/>
<circle cx="116.5" cy="658.83" r="1.86" fill="#cfa4da" stroke="#9448aa" stroke-width="0.6"/>
<circle cx="116.41" cy="658.87" r="0.6" fill="#f6eaf6"/>
<circle cx="121.08" cy="658.22" r="1.79" fill="#cfa4da" stroke="#9448aa" stroke-width="0.6"/>
<circle cx="121.18" cy="658.05" r="0.6" fill="#f6eaf6"/>
<circle cx="124.3" cy="659.27" r="1.82" fill="#cfa4da" stroke="#9448aa" stroke-width="0.6"/>
<circle cx="124.58" cy="659.3" r="0.6" fill="#f6eaf6"/>
<circle cx="128.34" cy="659.09" r="1.8" fill="#cfa4da" stroke="#9448aa" stroke-width="0.6"/>
<circle cx="128.53" cy="659.23" r="0.6" fill="#f6eaf6"/>
<circle cx="133.26" cy="658.28" r="1.76" fill="#cfa4da" stroke="#9448aa" stroke-width="0.6"/>
<circle cx="133.44" cy="658.06" r="0.6" fill="#f6eaf6"/>
<circle cx="136.48" cy="658.24" r="1.78" fill="#cfa4da" stroke="#9448aa" stroke-width="0.6"/>
<circle cx="136.47" cy="658.52" r="0.6" fill="#f6eaf6"/>
<circle cx="140.65" cy="658.56" r="1.92" fill="#cfa4da" stroke="#9448aa" stroke-width="0.6"/>
<circle cx="140.46" cy="658.64" r="0.6" fill="#f6eaf6"/>
<circle cx="145.06" cy="659.51" r="1.76" fill="#cfa4da" stroke="#9448aa" stroke-width="0.6"/>
<circle cx="145.1" cy="659.44" r="0.6" fill="#f6eaf6"/>
<circle cx="149.35" cy="658.55" r="1.89" fill="#cfa4da" stroke="#9448aa" stroke-width="0.6"/>
<circle cx="149.16" cy="658.55" r="0.6" fill="#f6eaf6"/>
<circle cx="153.56" cy="658.54" r="1.81" fill="#cfa4da" stroke="#9448aa" stroke-width="0.6"/>
<circle cx="153.81" cy="658.64" r="0.6" fill="#f6eaf6"/>
<circle cx="156.29" cy="658.46" r="1.8" fill="#cfa4da" stroke="#9448aa" stroke-width="0.6"/>
<circle cx="156.17" cy="658.67" r="0.6" fill="#f6eaf6"/>
<circle cx="161.18" cy="659.57" r="1.88" fill="#cfa4da" stroke="#9448aa" stroke-width="0.6"/>
<circle cx="161.26" cy="659.5" r="0.6" fill="#f6eaf6"/>
<circle cx="165.2" cy="658.89" r="1.76" fill="#cfa4da" stroke="#9448aa" stroke-width="0.6"/>
<circle cx="165.2" cy="658.82" r="0.6" fill="#f6eaf6"/>
<circle cx="168.94" cy="658.27" r="1.76" fill="#cfa4da" stroke="#9448aa" stroke-width="0.6"/>
<circle cx="169.23" cy="658.19" r="0.6" fill="#f6eaf6"/>
<circle cx="172.66" cy="658.41" r="1.87" fill="#cfa4da" stroke="#9448aa" stroke-width="0.6"/>
<circle cx="172.91" cy="658.22" r="0.6" fill="#f6eaf6"/>
<circle cx="118.53" cy="662.47" r="1.89" fill="#cfa4da" stroke="#9448aa" stroke-width="0.6"/>
<circle cx="118.28" cy="662.68" r="0.6" fill="#f6eaf6"/>
<circle cx="122.25" cy="662.47" r="1.84" fill="#cfa4da" stroke="#9448aa" stroke-width="0.6"/>
<circle cx="122.45" cy="662.54" r="0.6" fill="#f6eaf6"/>
<circle cx="127.24" cy="663.27" r="1.89" fill="#cfa4da" stroke="#9448aa" stroke-width="0.6"/>
<circle cx="126.98" cy="663.46" r="0.6" fill="#f6eaf6"/>
<circle cx="130.41" cy="662.43" r="1.76" fill="#cfa4da" stroke="#9448aa" stroke-width="0.6"/>
<circle cx="130.12" cy="662.65" r="0.6" fill="#f6eaf6"/>
<circle cx="134.73" cy="662.32" r="1.76" fill="#cfa4da" stroke="#9448aa" stroke-width="0.6"/>
<circle cx="134.94" cy="662.38" r="0.6" fill="#f6eaf6"/>
<circle cx="139.48" cy="662.25" r="1.77" fill="#cfa4da" stroke="#9448aa" stroke-width="0.6"/>
<circle cx="139.35" cy="662.07" r="0.6" fill="#f6eaf6"/>
<circle cx="142.36" cy="662.48" r="1.88" fill="#cfa4da" stroke="#9448aa" stroke-width="0.6"/>
<circle cx="142.16" cy="662.28" r="0.6" fill="#f6eaf6"/>
<circle cx="146.95" cy="662.73" r="1.78" fill="#cfa4da" stroke="#9448aa" stroke-width="0.6"/>
<circle cx="146.99" cy="662.73" r="0.6" fill="#f6eaf6"/>
<circle cx="150.74" cy="662.86" r="1.76" fill="#cfa4da" stroke="#9448aa" stroke-width="0.6"/>
<circle cx="150.81" cy="662.68" r="0.6" fill="#f6eaf6"/>
<circle cx="154.67" cy="662.21" r="1.93" fill="#cfa4da" stroke="#9448aa" stroke-width="0.6"/>
<circle cx="154.72" cy="662.15" r="0.6" fill="#f6eaf6"/>
<circle cx="117.49" cy="666.46" r="1.83" fill="#cfa4da" stroke="#9448aa" stroke-width="0.6"/>
<circle cx="117.71" cy="666.62" r="0.6" fill="#f6eaf6"/>
<circle cx="173.39" cy="636.09" r="0.67" fill="#8a3a9e" opacity="0.45"/>
<circle cx="138.58" cy="625.46" r="0.5" fill="#8a3a9e" opacity="0.45"/>
<circle cx="115.53" cy="643.06" r="0.58" fill="#8a3a9e" opacity="0.45"/>
<circle cx="183.11" cy="659.71" r="0.52" fill="#8a3a9e" opacity="0.45"/>
<circle cx="164.3" cy="637.91" r="0.64" fill="#8a3a9e" opacity="0.45"/>
<circle cx="164.75" cy="671.49" r="0.78" fill="#8a3a9e" opacity="0.45"/>
<circle cx="144.15" cy="642.49" r="0.62" fill="#8a3a9e" opacity="0.45"/>
<circle cx="136.76" cy="665.3" r="0.64" fill="#8a3a9e" opacity="0.45"/>
<circle cx="162.22" cy="633.58" r="0.73" fill="#8a3a9e" opacity="0.45"/>
<circle cx="181.43" cy="636.32" r="0.68" fill="#8a3a9e" opacity="0.45"/>
<circle cx="126.47" cy="627.3" r="0.62" fill="#8a3a9e" opacity="0.45"/>
<circle cx="127.92" cy="664.71" r="0.67" fill="#8a3a9e" opacity="0.45"/>
<circle cx="161.47" cy="677.48" r="0.52" fill="#8a3a9e" opacity="0.45"/>
<circle cx="122.12" cy="627.32" r="0.64" fill="#8a3a9e" opacity="0.45"/>
<circle cx="171.71" cy="662.19" r="0.66" fill="#8a3a9e" opacity="0.45"/>
<circle cx="173.88" cy="645.42" r="0.53" fill="#8a3a9e" opacity="0.45"/>
<circle cx="159.22" cy="626.78" r="0.57" fill="#8a3a9e" opacity="0.45"/>
<circle cx="117.44" cy="634.1" r="0.52" fill="#8a3a9e" opacity="0.45"/>
<circle cx="151.7" cy="632.29" r="0.68" fill="#8a3a9e" opacity="0.45"/>
<circle cx="171.69" cy="643.93" r="0.54" fill="#8a3a9e" opacity="0.45"/>
<circle cx="161.24" cy="664.59" r="0.77" fill="#8a3a9e" opacity="0.45"/>
<circle cx="153.25" cy="656.71" r="0.76" fill="#8a3a9e" opacity="0.45"/>
<circle cx="161.65" cy="677.85" r="0.59" fill="#8a3a9e" opacity="0.45"/>
<circle cx="168.29" cy="659.45" r="0.64" fill="#8a3a9e" opacity="0.45"/>
<circle cx="116.14" cy="651.03" r="0.58" fill="#8a3a9e" opacity="0.45"/>
<circle cx="156.48" cy="652.81" r="0.65" fill="#8a3a9e" opacity="0.45"/>
<circle cx="119.41" cy="632.48" r="0.68" fill="#8a3a9e" opacity="0.45"/>
<circle cx="161.98" cy="678.69" r="0.74" fill="#8a3a9e" opacity="0.45"/>
<circle cx="135.21" cy="649.92" r="0.65" fill="#8a3a9e" opacity="0.45"/>
<circle cx="170.31" cy="646.63" r="0.78" fill="#8a3a9e" opacity="0.45"/>
<circle cx="148.45" cy="646.81" r="0.64" fill="#8a3a9e" opacity="0.45"/>
<circle cx="139.81" cy="679.18" r="0.51" fill="#8a3a9e" opacity="0.45"/>
<circle cx="142.7" cy="629.67" r="0.7" fill="#8a3a9e" opacity="0.45"/>
<circle cx="125.69" cy="633.42" r="0.63" fill="#8a3a9e" opacity="0.45"/>
<circle cx="156.52" cy="666.48" r="0.63" fill="#8a3a9e" opacity="0.45"/>
<circle cx="135.56" cy="645.19" r="0.77" fill="#8a3a9e" opacity="0.45"/>
<circle cx="129.96" cy="626.01" r="0.77" fill="#8a3a9e" opacity="0.45"/>
<circle cx="148.38" cy="632.52" r="0.54" fill="#8a3a9e" opacity="0.45"/>
<circle cx="176.21" cy="665.7" r="0.52" fill="#8a3a9e" opacity="0.45"/>
<circle cx="161.51" cy="636.9" r="0.63" fill="#8a3a9e" opacity="0.45"/>
<circle cx="156.72" cy="628.14" r="0.78" fill="#8a3a9e" opacity="0.45"/>
<circle cx="138.29" cy="633.14" r="0.73" fill="#8a3a9e" opacity="0.45"/>
<circle cx="122.85" cy="627.4" r="0.7" fill="#8a3a9e" opacity="0.45"/>
<circle cx="147.51" cy="673.85" r="0.74" fill="#8a3a9e" opacity="0.45"/>
<circle cx="129.5" cy="627.83" r="0.68" fill="#8a3a9e" opacity="0.45"/>
<circle cx="147.53" cy="641.6" r="0.78" fill="#8a3a9e" opacity="0.45"/>
<circle cx="129.64" cy="660.01" r="0.52" fill="#8a3a9e" opacity="0.45"/>
<circle cx="178.48" cy="676.44" r="0.69" fill="#8a3a9e" opacity="0.45"/>
<circle cx="137.28" cy="664.35" r="0.77" fill="#8a3a9e" opacity="0.45"/>
<circle cx="169.69" cy="627.59" r="0.65" fill="#8a3a9e" opacity="0.45"/>
<circle cx="124.96" cy="654.79" r="0.79" fill="#8a3a9e" opacity="0.45"/>
<circle cx="174.47" cy="638.79" r="0.67" fill="#8a3a9e" opacity="0.45"/>
<circle cx="137.08" cy="634.46" r="0.72" fill="#8a3a9e" opacity="0.45"/>
<circle cx="167.26" cy="643.51" r="0.63" fill="#8a3a9e" opacity="0.45"/>
<circle cx="162.97" cy="664.54" r="0.64" fill="#8a3a9e" opacity="0.45"/>
<circle cx="123.48" cy="630.55" r="0.55" fill="#8a3a9e" opacity="0.45"/>
<circle cx="171.84" cy="652.1" r="0.69" fill="#8a3a9e" opacity="0.45"/>
<circle cx="140.3" cy="645.25" r="0.55" fill="#8a3a9e" opacity="0.45"/>
<circle cx="181.97" cy="657.98" r="0.54" fill="#8a3a9e" opacity="0.45"/>
<circle cx="163.39" cy="657.57" r="0.68" fill="#8a3a9e" opacity="0.45"/>
<circle cx="167.98" cy="658.13" r="0.76" fill="#8a3a9e" opacity="0.45"/>
<circle cx="181.63" cy="647.28" r="0.69" fill="#8a3a9e" opacity="0.45"/>
<circle cx="140.97" cy="647.49" r="0.61" fill="#8a3a9e" opacity="0.45"/>
<circle cx="159.61" cy="644.36" r="0.61" fill="#8a3a9e" opacity="0.45"/>
<circle cx="173.24" cy="668.43" r="0.7" fill="#8a3a9e" opacity="0.45"/>
<circle cx="173.02" cy="646.17" r="0.69" fill="#8a3a9e" opacity="0.45"/>
<circle cx="132.56" cy="642.37" r="0.53" fill="#8a3a9e" opacity="0.45"/>
<circle cx="169.94" cy="674.97" r="0.59" fill="#8a3a9e" opacity="0.45"/>
<circle cx="141.24" cy="631.7" r="0.54" fill="#8a3a9e" opacity="0.45"/>
<circle cx="158.99" cy="673.39" r="0.53" fill="#8a3a9e" opacity="0.45"/>
<circle cx="132.79" cy="666.24" r="0.57" fill="#8a3a9e" opacity="0.45"/>
<circle cx="175.35" cy="644.38" r="0.64" fill="#8a3a9e" opacity="0.45"/>
<circle cx="129.17" cy="641.04" r="0.63" fill="#8a3a9e" opacity="0.45"/>
<circle cx="134.4" cy="664.63" r="0.51" fill="#8a3a9e" opacity="0.45"/>
<circle cx="159.03" cy="668.58" r="0.6" fill="#8a3a9e" opacity="0.45"/>
<circle cx="128.48" cy="631.85" r="0.52" fill="#8a3a9e" opacity="0.45"/>
<circle cx="169.5" cy="657.84" r="0.5" fill="#8a3a9e" opacity="0.45"/>
<circle cx="146.36" cy="657.61" r="0.6" fill="#8a3a9e" opacity="0.45"/>
<circle cx="117.78" cy="648.05" r="0.61" fill="#8a3a9e" opacity="0.45"/>
<circle cx="181.81" cy="644.75" r="0.78" fill="#8a3a9e" opacity="0.45"/>
<circle cx="174.69" cy="656.3" r="0.54" fill="#8a3a9e" opacity="0.45"/>
<circle cx="170.57" cy="630.25" r="0.67" fill="#8a3a9e" opacity="0.45"/>
<circle cx="122.04" cy="630.38" r="0.62" fill="#8a3a9e" opacity="0.45"/>
<circle cx="126.08" cy="678.77" r="0.67" fill="#8a3a9e" opacity="0.45"/>
<circle cx="176.68" cy="676.86" r="0.73" fill="#8a3a9e" opacity="0.45"/>
<circle cx="159.51" cy="650.85" r="0.73" fill="#8a3a9e" opacity="0.45"/>
<circle cx="161.12" cy="633.9" r="0.66" fill="#8a3a9e" opacity="0.45"/>
<circle cx="143.64" cy="653.13" r="0.71" fill="#8a3a9e" opacity="0.45"/>
<circle cx="162.46" cy="656.05" r="0.74" fill="#8a3a9e" opacity="0.45"/>
<circle cx="171.76" cy="630.37" r="0.54" fill="#8a3a9e" opacity="0.45"/>
<circle cx="120.4" cy="671.4" r="1.6" fill="#8a3a9e" opacity="0.7"/>
</g></g>
<g clip-path="url(#cp5)"><g filter="url(#tex5)">
<rect x="185.2" y="625.4" width="68.6" height="53.8" fill="#e29ad0"/>
<path d="M185.2 625.4 L253.8 625.4 L253.8 639.4 L220.2 636.4 L185.2 635.4Z" fill="#e6c2e2"/>
<circle cx="188.44" cy="628" r="1.57" fill="none" stroke="#b060c0" stroke-width="0.6" opacity="0.7"/>
<circle cx="206.44" cy="630.79" r="1.17" fill="none" stroke="#b060c0" stroke-width="0.6" opacity="0.7"/>
<circle cx="223.92" cy="629.19" r="1.42" fill="none" stroke="#b060c0" stroke-width="0.6" opacity="0.7"/>
<circle cx="207.95" cy="634.86" r="1.44" fill="none" stroke="#b060c0" stroke-width="0.6" opacity="0.7"/>
<circle cx="185.28" cy="631.88" r="0.87" fill="none" stroke="#b060c0" stroke-width="0.6" opacity="0.7"/>
<circle cx="245.84" cy="627.09" r="1.01" fill="none" stroke="#b060c0" stroke-width="0.6" opacity="0.7"/>
<circle cx="237.94" cy="632.31" r="1.33" fill="none" stroke="#b060c0" stroke-width="0.6" opacity="0.7"/>
<circle cx="213.54" cy="631.61" r="0.96" fill="none" stroke="#b060c0" stroke-width="0.6" opacity="0.7"/>
<circle cx="216.92" cy="628.97" r="1.34" fill="none" stroke="#b060c0" stroke-width="0.6" opacity="0.7"/>
<circle cx="192.52" cy="627.78" r="0.96" fill="none" stroke="#b060c0" stroke-width="0.6" opacity="0.7"/>
<circle cx="221.76" cy="632.22" r="0.8" fill="none" stroke="#b060c0" stroke-width="0.6" opacity="0.7"/>
<circle cx="252.92" cy="634.75" r="1.1" fill="none" stroke="#b060c0" stroke-width="0.6" opacity="0.7"/>
<circle cx="196.1" cy="634.66" r="1.58" fill="none" stroke="#b060c0" stroke-width="0.6" opacity="0.7"/>
<circle cx="197.42" cy="633.96" r="1.45" fill="none" stroke="#b060c0" stroke-width="0.6" opacity="0.7"/>
<circle cx="249.49" cy="628.49" r="0.9" fill="none" stroke="#b060c0" stroke-width="0.6" opacity="0.7"/>
<circle cx="196.49" cy="628.71" r="1.52" fill="none" stroke="#b060c0" stroke-width="0.6" opacity="0.7"/>
<circle cx="247.62" cy="631.14" r="0.9" fill="none" stroke="#b060c0" stroke-width="0.6" opacity="0.7"/>
<circle cx="209.38" cy="628.81" r="1.32" fill="none" stroke="#b060c0" stroke-width="0.6" opacity="0.7"/>
<circle cx="234.59" cy="634.16" r="1.15" fill="none" stroke="#b060c0" stroke-width="0.6" opacity="0.7"/>
<circle cx="216.54" cy="631.08" r="1.1" fill="none" stroke="#b060c0" stroke-width="0.6" opacity="0.7"/>
<circle cx="216.42" cy="633.25" r="1.37" fill="none" stroke="#b060c0" stroke-width="0.6" opacity="0.7"/>
<circle cx="207.59" cy="632.07" r="0.92" fill="none" stroke="#b060c0" stroke-width="0.6" opacity="0.7"/>
<circle cx="188.3" cy="630.27" r="1.09" fill="none" stroke="#b060c0" stroke-width="0.6" opacity="0.7"/>
<circle cx="187.43" cy="627.19" r="1.14" fill="none" stroke="#b060c0" stroke-width="0.6" opacity="0.7"/>
<circle cx="249.84" cy="634.78" r="0.82" fill="none" stroke="#b060c0" stroke-width="0.6" opacity="0.7"/>
<circle cx="206.93" cy="630.09" r="1.05" fill="none" stroke="#b060c0" stroke-width="0.6" opacity="0.7"/>
<circle cx="194.6" cy="632.3" r="1.47" fill="none" stroke="#b060c0" stroke-width="0.6" opacity="0.7"/>
<circle cx="211.38" cy="628.16" r="0.88" fill="none" stroke="#b060c0" stroke-width="0.6" opacity="0.7"/>
<circle cx="186.24" cy="634.05" r="0.98" fill="none" stroke="#b060c0" stroke-width="0.6" opacity="0.7"/>
<circle cx="234.87" cy="634.31" r="0.87" fill="none" stroke="#b060c0" stroke-width="0.6" opacity="0.7"/>
<circle cx="198.16" cy="629.55" r="1.42" fill="none" stroke="#b060c0" stroke-width="0.6" opacity="0.7"/>
<circle cx="235.75" cy="629.43" r="1.16" fill="none" stroke="#b060c0" stroke-width="0.6" opacity="0.7"/>
<circle cx="209.56" cy="631.12" r="1.43" fill="none" stroke="#b060c0" stroke-width="0.6" opacity="0.7"/>
<circle cx="203.15" cy="634.5" r="1.54" fill="none" stroke="#b060c0" stroke-width="0.6" opacity="0.7"/>
<circle cx="226.43" cy="635.99" r="1.55" fill="none" stroke="#b060c0" stroke-width="0.6" opacity="0.7"/>
<circle cx="196.94" cy="636.31" r="0.96" fill="none" stroke="#b060c0" stroke-width="0.6" opacity="0.7"/>
<circle cx="240.4" cy="627.61" r="1.04" fill="none" stroke="#b060c0" stroke-width="0.6" opacity="0.7"/>
<circle cx="215.53" cy="634.79" r="1.34" fill="none" stroke="#b060c0" stroke-width="0.6" opacity="0.7"/>
<circle cx="199.18" cy="635.38" r="1.49" fill="none" stroke="#b060c0" stroke-width="0.6" opacity="0.7"/>
<circle cx="220.18" cy="626.91" r="1.03" fill="none" stroke="#b060c0" stroke-width="0.6" opacity="0.7"/>
<path d="M185.2 635.4 L220.2 636.4 L253.8 639.4 L253.8 663.4 L220.2 667.4 L185.2 666.4Z" fill="#c588cc"/>
<ellipse cx="189.14" cy="640.74" rx="2.45" ry="3.06" fill="#f8f0f6" stroke="#8e3ea2" stroke-width="1.3"/>
<ellipse cx="198.2" cy="641.54" rx="1.66" ry="2.08" fill="#f8f0f6" stroke="#8e3ea2" stroke-width="1.3"/>
<ellipse cx="205.14" cy="641.36" rx="1.91" ry="2.38" fill="#f8f0f6" stroke="#8e3ea2" stroke-width="1.3"/>
<ellipse cx="213.16" cy="640.03" rx="1.65" ry="2.06" fill="#f8f0f6" stroke="#8e3ea2" stroke-width="1.3"/>
<ellipse cx="221.83" cy="640.99" rx="1.96" ry="2.45" fill="#f8f0f6" stroke="#8e3ea2" stroke-width="1.3"/>
<ellipse cx="230.4" cy="640.48" rx="1.62" ry="2.02" fill="#f8f0f6" stroke="#8e3ea2" stroke-width="1.3"/>
<ellipse cx="238.83" cy="640.57" rx="2.04" ry="2.55" fill="#f8f0f6" stroke="#8e3ea2" stroke-width="1.3"/>
<ellipse cx="245.94" cy="640.44" rx="1.65" ry="2.06" fill="#f8f0f6" stroke="#8e3ea2" stroke-width="1.3"/>
<ellipse cx="189.05" cy="647.5" rx="1.7" ry="2.13" fill="#f8f0f6" stroke="#8e3ea2" stroke-width="1.3"/>
<ellipse cx="195.46" cy="647.86" rx="1.62" ry="2.02" fill="#f8f0f6" stroke="#8e3ea2" stroke-width="1.3"/>
<ellipse cx="205.08" cy="647.62" rx="2" ry="2.5" fill="#f8f0f6" stroke="#8e3ea2" stroke-width="1.3"/>
<ellipse cx="211.24" cy="646.95" rx="1.69" ry="2.11" fill="#f8f0f6" stroke="#8e3ea2" stroke-width="1.3"/>
<ellipse cx="219.17" cy="648.01" rx="2.04" ry="2.55" fill="#f8f0f6" stroke="#8e3ea2" stroke-width="1.3"/>
<ellipse cx="225.08" cy="648.4" rx="2.05" ry="2.57" fill="#f8f0f6" stroke="#8e3ea2" stroke-width="1.3"/>
<ellipse cx="233.54" cy="648.57" rx="2.4" ry="3.01" fill="#f8f0f6" stroke="#8e3ea2" stroke-width="1.3"/>
<ellipse cx="240.53" cy="648.25" rx="2.02" ry="2.52" fill="#f8f0f6" stroke="#8e3ea2" stroke-width="1.3"/>
<ellipse cx="247.15" cy="648.06" rx="2.07" ry="2.59" fill="#f8f0f6" stroke="#8e3ea2" stroke-width="1.3"/>
<ellipse cx="190.55" cy="655.62" rx="1.65" ry="2.06" fill="#f8f0f6" stroke="#8e3ea2" stroke-width="1.3"/>
<ellipse cx="197.54" cy="655.13" rx="2.14" ry="2.67" fill="#f8f0f6" stroke="#8e3ea2" stroke-width="1.3"/>
<ellipse cx="205.16" cy="654" rx="2.03" ry="2.53" fill="#f8f0f6" stroke="#8e3ea2" stroke-width="1.3"/>
<ellipse cx="210.81" cy="655.8" rx="1.75" ry="2.19" fill="#f8f0f6" stroke="#8e3ea2" stroke-width="1.3"/>
<ellipse cx="218.53" cy="654.19" rx="2.28" ry="2.85" fill="#f8f0f6" stroke="#8e3ea2" stroke-width="1.3"/>
<ellipse cx="225.49" cy="655.37" rx="1.88" ry="2.35" fill="#f8f0f6" stroke="#8e3ea2" stroke-width="1.3"/>
<ellipse cx="233.8" cy="653.91" rx="1.8" ry="2.25" fill="#f8f0f6" stroke="#8e3ea2" stroke-width="1.3"/>
<ellipse cx="240.55" cy="655.66" rx="2.3" ry="2.87" fill="#f8f0f6" stroke="#8e3ea2" stroke-width="1.3"/>
<ellipse cx="246.41" cy="654.06" rx="2.24" ry="2.8" fill="#f8f0f6" stroke="#8e3ea2" stroke-width="1.3"/>
<ellipse cx="189.92" cy="660.52" rx="2.44" ry="3.05" fill="#f8f0f6" stroke="#8e3ea2" stroke-width="1.3"/>
<ellipse cx="195.31" cy="660.47" rx="2.03" ry="2.54" fill="#f8f0f6" stroke="#8e3ea2" stroke-width="1.3"/>
<ellipse cx="200.74" cy="660.61" rx="2.4" ry="3" fill="#f8f0f6" stroke="#8e3ea2" stroke-width="1.3"/>
<ellipse cx="208.01" cy="660.65" rx="2" ry="2.5" fill="#f8f0f6" stroke="#8e3ea2" stroke-width="1.3"/>
<ellipse cx="212.33" cy="661.74" rx="1.7" ry="2.12" fill="#f8f0f6" stroke="#8e3ea2" stroke-width="1.3"/>
<ellipse cx="218.35" cy="661.22" rx="2.03" ry="2.53" fill="#f8f0f6" stroke="#8e3ea2" stroke-width="1.3"/>
<ellipse cx="224.46" cy="661.59" rx="2.45" ry="3.06" fill="#f8f0f6" stroke="#8e3ea2" stroke-width="1.3"/>
<ellipse cx="231.5" cy="662.21" rx="2.35" ry="2.93" fill="#f8f0f6" stroke="#8e3ea2" stroke-width="1.3"/>
<ellipse cx="235.72" cy="660.89" rx="2.01" ry="2.52" fill="#f8f0f6" stroke="#8e3ea2" stroke-width="1.3"/>
<ellipse cx="242.57" cy="661.61" rx="1.91" ry="2.39" fill="#f8f0f6" stroke="#8e3ea2" stroke-width="1.3"/>
<ellipse cx="249.26" cy="661.02" rx="1.62" ry="2.02" fill="#f8f0f6" stroke="#8e3ea2" stroke-width="1.3"/>
<circle cx="191.43" cy="636.67" r="0.72" fill="#8a3a9e" opacity="0.4"/>
<circle cx="242.88" cy="627.65" r="0.57" fill="#8a3a9e" opacity="0.4"/>
<circle cx="201.83" cy="667.72" r="0.77" fill="#8a3a9e" opacity="0.4"/>
<circle cx="203.26" cy="630.91" r="0.79" fill="#8a3a9e" opacity="0.4"/>
<circle cx="251.84" cy="663.95" r="0.64" fill="#8a3a9e" opacity="0.4"/>
<circle cx="236.43" cy="666.68" r="0.65" fill="#8a3a9e" opacity="0.4"/>
<circle cx="203.81" cy="653.65" r="0.7" fill="#8a3a9e" opacity="0.4"/>
<circle cx="207.45" cy="659.79" r="0.54" fill="#8a3a9e" opacity="0.4"/>
<circle cx="251.8" cy="636.77" r="0.57" fill="#8a3a9e" opacity="0.4"/>
<circle cx="251.08" cy="676.51" r="0.78" fill="#8a3a9e" opacity="0.4"/>
<circle cx="242.9" cy="671.05" r="0.75" fill="#8a3a9e" opacity="0.4"/>
<circle cx="224.07" cy="629.4" r="0.72" fill="#8a3a9e" opacity="0.4"/>
<circle cx="242.53" cy="670.47" r="0.51" fill="#8a3a9e" opacity="0.4"/>
<circle cx="189.41" cy="664.71" r="0.65" fill="#8a3a9e" opacity="0.4"/>
<circle cx="246.5" cy="678.7" r="0.63" fill="#8a3a9e" opacity="0.4"/>
<circle cx="231.54" cy="661.18" r="0.71" fill="#8a3a9e" opacity="0.4"/>
<circle cx="210.42" cy="659.81" r="0.52" fill="#8a3a9e" opacity="0.4"/>
<circle cx="246.94" cy="664.33" r="0.74" fill="#8a3a9e" opacity="0.4"/>
<circle cx="216.91" cy="636.44" r="0.64" fill="#8a3a9e" opacity="0.4"/>
<circle cx="231.89" cy="654.89" r="0.53" fill="#8a3a9e" opacity="0.4"/>
<circle cx="185.46" cy="646.8" r="0.57" fill="#8a3a9e" opacity="0.4"/>
<circle cx="200.76" cy="637.32" r="0.62" fill="#8a3a9e" opacity="0.4"/>
<circle cx="232.89" cy="674.52" r="0.7" fill="#8a3a9e" opacity="0.4"/>
<circle cx="186.62" cy="672.08" r="0.68" fill="#8a3a9e" opacity="0.4"/>
<circle cx="235.4" cy="658.41" r="0.61" fill="#8a3a9e" opacity="0.4"/>
<circle cx="208.47" cy="629.24" r="0.7" fill="#8a3a9e" opacity="0.4"/>
<circle cx="188.91" cy="662.04" r="0.77" fill="#8a3a9e" opacity="0.4"/>
<circle cx="231.02" cy="658.01" r="0.74" fill="#8a3a9e" opacity="0.4"/>
<circle cx="251.03" cy="669.12" r="0.8" fill="#8a3a9e" opacity="0.4"/>
<circle cx="216.73" cy="626.19" r="0.68" fill="#8a3a9e" opacity="0.4"/>
<circle cx="229" cy="671.83" r="0.68" fill="#8a3a9e" opacity="0.4"/>
<circle cx="210.13" cy="625.65" r="0.75" fill="#8a3a9e" opacity="0.4"/>
<circle cx="228.05" cy="678.41" r="0.68" fill="#8a3a9e" opacity="0.4"/>
<circle cx="243.7" cy="666.95" r="0.8" fill="#8a3a9e" opacity="0.4"/>
<circle cx="216.91" cy="673.67" r="0.62" fill="#8a3a9e" opacity="0.4"/>
<circle cx="185.97" cy="642.93" r="0.61" fill="#8a3a9e" opacity="0.4"/>
<circle cx="253.27" cy="646.64" r="0.58" fill="#8a3a9e" opacity="0.4"/>
<circle cx="232.58" cy="630.63" r="0.59" fill="#8a3a9e" opacity="0.4"/>
<circle cx="212.3" cy="632.09" r="0.68" fill="#8a3a9e" opacity="0.4"/>
<circle cx="214.22" cy="668.55" r="0.6" fill="#8a3a9e" opacity="0.4"/>
<circle cx="252.24" cy="635.93" r="0.66" fill="#8a3a9e" opacity="0.4"/>
<circle cx="200.72" cy="626.17" r="0.59" fill="#8a3a9e" opacity="0.4"/>
<circle cx="246.63" cy="641.08" r="0.65" fill="#8a3a9e" opacity="0.4"/>
<circle cx="221.15" cy="639.71" r="0.66" fill="#8a3a9e" opacity="0.4"/>
<circle cx="189.69" cy="644.2" r="0.59" fill="#8a3a9e" opacity="0.4"/>
<circle cx="241.14" cy="666.83" r="0.71" fill="#8a3a9e" opacity="0.4"/>
<circle cx="226.01" cy="672.02" r="0.72" fill="#8a3a9e" opacity="0.4"/>
<circle cx="188.99" cy="632.42" r="0.72" fill="#8a3a9e" opacity="0.4"/>
<circle cx="242.82" cy="678.63" r="0.73" fill="#8a3a9e" opacity="0.4"/>
<circle cx="196.03" cy="655.91" r="0.69" fill="#8a3a9e" opacity="0.4"/>
<circle cx="226.68" cy="632.63" r="0.79" fill="#8a3a9e" opacity="0.4"/>
<circle cx="220.21" cy="639.86" r="0.79" fill="#8a3a9e" opacity="0.4"/>
<circle cx="211.6" cy="629.16" r="0.7" fill="#8a3a9e" opacity="0.4"/>
<circle cx="203.02" cy="637.14" r="0.59" fill="#8a3a9e" opacity="0.4"/>
<circle cx="226.85" cy="642.61" r="0.7" fill="#8a3a9e" opacity="0.4"/>
<circle cx="247.3" cy="678.71" r="0.77" fill="#8a3a9e" opacity="0.4"/>
<circle cx="248.41" cy="639.02" r="0.75" fill="#8a3a9e" opacity="0.4"/>
<circle cx="191.36" cy="656.7" r="0.52" fill="#8a3a9e" opacity="0.4"/>
<circle cx="192" cy="676.44" r="0.54" fill="#8a3a9e" opacity="0.4"/>
<circle cx="234.4" cy="653.76" r="0.5" fill="#8a3a9e" opacity="0.4"/>
<rect x="185.2" y="677" width="68.6" height="2.2" fill="#f0e6ee"/>
</g></g>
<rect x="0.6" y="0.6" width="518.6" height="686.6" fill="none" stroke="#000" stroke-width="1.4"/></svg>
</body></html>
